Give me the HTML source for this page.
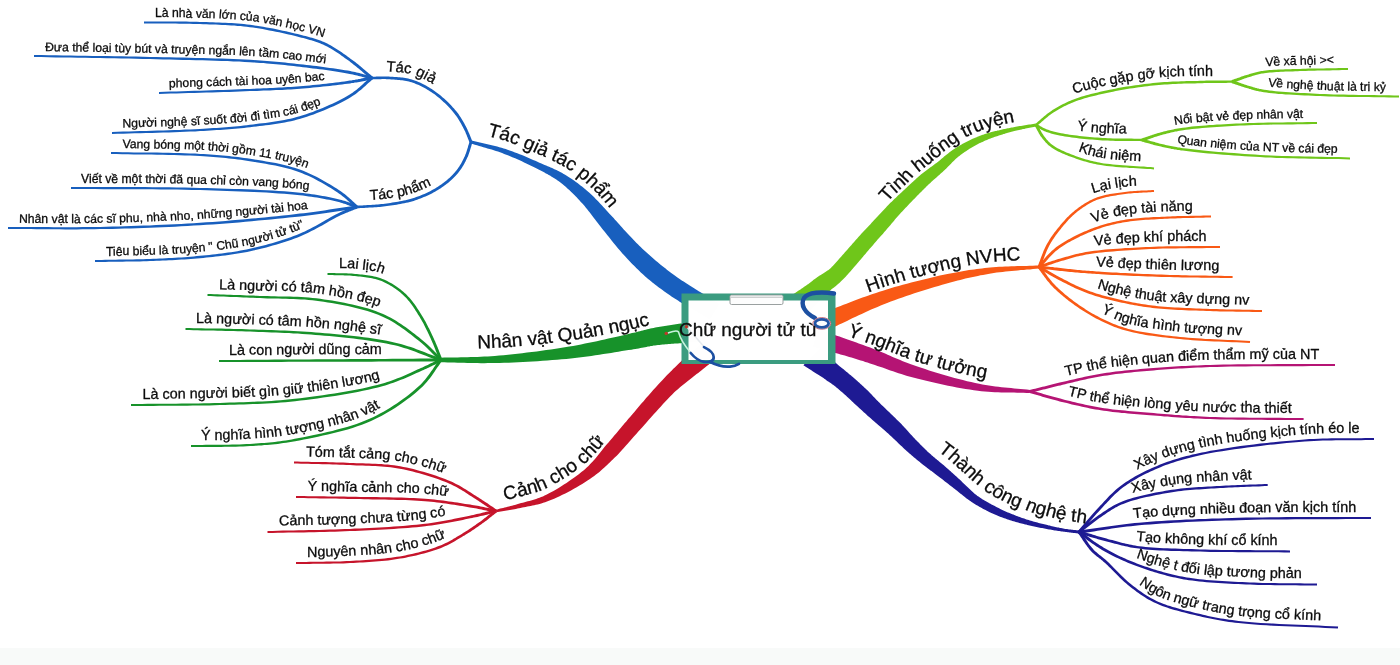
<!DOCTYPE html>
<html><head><meta charset="utf-8"><title>Chữ người tử tù</title>
<style>
html,body{margin:0;padding:0;background:#fff;}
body{width:1400px;height:665px;overflow:hidden;position:relative;font-family:"Liberation Sans",sans-serif;}
svg{position:absolute;left:0;top:0;display:block;will-change:transform;}
svg text{font-family:"Liberation Sans",sans-serif;fill:#0c0c0c;stroke:#0c0c0c;stroke-width:0.3px;}
.strip{position:absolute;left:0;top:648px;width:1400px;height:17px;background:#f8faf9}
</style></head><body>
<div class="strip"></div>
<svg width="1400" height="665" viewBox="0 0 1400 665">
<defs>
<path id="p1" d="M84.0,16.9 L144.0,17.3 L147.5,17.3 L151.0,17.3 L154.6,17.4 L158.1,17.4 L161.6,17.4 L165.1,17.4 L168.7,17.4 L172.2,17.4 L175.7,17.4 L179.3,17.4 L182.8,17.4 L186.3,17.5 L189.8,17.5 L193.3,17.6 L196.7,17.7 L200.2,17.8 L203.4,17.9 L206.6,18.0 L209.7,18.1 L212.9,18.2 L216.0,18.3 L219.2,18.4 L222.3,18.6 L225.5,18.7 L228.6,18.9 L231.7,19.1 L234.9,19.3 L238.0,19.5 L241.2,19.8 L244.3,20.1 L247.5,20.5 L250.7,20.8 L253.9,21.3 L257.2,21.8 L260.5,22.3 L263.8,22.9 L267.2,23.4 L270.5,24.1 L273.9,24.7 L277.2,25.4 L280.5,26.1 L283.7,26.8 L286.8,27.5 L289.9,28.2 L292.9,28.9 L295.8,29.6 L298.6,30.3 L301.3,31.0 L303.1,31.4 L304.9,31.9 L306.6,32.3 L308.2,32.8 L309.9,33.2 L311.5,33.6 L313.1,34.1 L314.7,34.6 L316.2,35.0 L317.8,35.5 L319.3,36.1 L320.9,36.6 L322.4,37.2 L324.0,37.9 L325.6,38.6 L327.2,39.3 L328.9,40.1 L330.7,41.0 L332.4,41.9 L334.0,42.9 L335.7,43.9 L337.4,44.9 L339.0,46.0 L340.6,47.0 L342.2,48.1 L343.8,49.2 L345.4,50.3 L347.0,51.4 L348.5,52.5 L350.1,53.6 L351.6,54.7 L353.1,55.8 L354.6,56.9 L356.0,58.0 L357.5,59.1 L358.9,60.3 L360.3,61.4 L361.7,62.6 L363.1,63.7 L364.5,64.9 L365.9,66.0 L367.2,67.2 L368.6,68.3 L369.9,69.5 L371.3,70.6 L372.6,71.7 L373.9,72.9 L375.3,74.0 L421.6,112.1" fill="none"/>
<path id="p2" d="M-25.9,49.8 L34.1,50.8 L41.4,50.9 L48.6,51.0 L56.0,51.2 L63.3,51.3 L70.6,51.4 L78.0,51.5 L85.3,51.6 L92.6,51.7 L99.9,51.8 L107.2,52.0 L114.5,52.1 L121.7,52.2 L128.9,52.3 L136.0,52.5 L143.1,52.6 L150.1,52.8 L156.6,53.0 L163.2,53.1 L169.8,53.2 L176.4,53.4 L183.1,53.5 L189.7,53.7 L196.2,53.8 L202.8,54.0 L209.2,54.2 L215.5,54.3 L221.7,54.5 L227.8,54.8 L233.7,55.0 L239.4,55.2 L245.0,55.5 L250.3,55.8 L253.9,56.0 L257.4,56.3 L260.8,56.5 L264.1,56.7 L267.3,57.0 L270.5,57.3 L273.5,57.5 L276.6,57.8 L279.6,58.1 L282.5,58.4 L285.5,58.7 L288.5,59.0 L291.4,59.3 L294.5,59.6 L297.5,60.0 L300.6,60.3 L303.8,60.7 L307.0,61.1 L310.3,61.5 L313.6,61.9 L317.0,62.3 L320.3,62.7 L323.7,63.2 L327.0,63.6 L330.3,64.1 L333.5,64.5 L336.7,65.0 L339.8,65.5 L342.7,65.9 L345.6,66.4 L348.4,66.9 L351.0,67.4 L352.7,67.7 L354.3,68.1 L355.9,68.4 L357.4,68.8 L358.8,69.1 L360.2,69.5 L361.6,69.8 L362.9,70.2 L364.2,70.5 L365.5,70.9 L366.8,71.2 L368.1,71.6 L369.4,71.9 L370.6,72.3 L371.9,72.6 L373.3,73.0 L431.4,87.7" fill="none"/>
<path id="p3" d="M98.9,89.8 L158.8,87.8 L164.6,87.6 L170.4,87.4 L176.3,87.2 L182.2,87.1 L188.2,86.9 L194.2,86.7 L200.1,86.5 L206.0,86.3 L211.9,86.1 L217.7,86.0 L223.4,85.8 L229.0,85.6 L234.4,85.4 L239.7,85.2 L244.9,85.0 L249.8,84.8 L253.3,84.7 L256.8,84.5 L260.1,84.4 L263.3,84.3 L266.5,84.1 L269.6,84.0 L272.7,83.9 L275.7,83.8 L278.7,83.6 L281.6,83.5 L284.6,83.3 L287.6,83.1 L290.5,83.0 L293.5,82.8 L296.5,82.6 L299.6,82.3 L302.7,82.1 L305.9,81.8 L309.2,81.5 L312.5,81.2 L315.8,80.8 L319.1,80.5 L322.4,80.2 L325.7,79.8 L329.0,79.4 L332.1,79.1 L335.3,78.7 L338.3,78.3 L341.2,78.0 L344.0,77.6 L346.7,77.2 L349.3,76.9 L350.8,76.6 L352.4,76.4 L353.8,76.1 L355.2,75.9 L356.6,75.7 L358.0,75.4 L359.3,75.2 L360.6,74.9 L361.9,74.7 L363.1,74.4 L364.4,74.2 L365.7,73.9 L367.0,73.6 L368.3,73.4 L369.7,73.1 L371.1,72.9 L430.1,62.0" fill="none"/>
<path id="p4" d="M51.9,129.8 L111.8,127.8 L117.4,127.6 L123.0,127.4 L128.7,127.3 L134.4,127.1 L140.2,127.0 L145.9,126.8 L151.7,126.6 L157.4,126.5 L163.1,126.3 L168.6,126.1 L174.1,125.9 L179.5,125.7 L184.8,125.5 L189.9,125.3 L194.9,125.1 L199.7,124.8 L203.2,124.6 L206.6,124.4 L209.9,124.2 L213.2,124.0 L216.3,123.8 L219.4,123.6 L222.5,123.4 L225.5,123.2 L228.5,123.0 L231.4,122.7 L234.4,122.4 L237.3,122.2 L240.3,121.9 L243.3,121.6 L246.3,121.2 L249.4,120.8 L252.5,120.5 L255.7,120.1 L258.8,119.7 L261.9,119.3 L265.0,118.9 L268.2,118.5 L271.3,118.1 L274.3,117.6 L277.4,117.2 L280.5,116.6 L283.5,116.1 L286.6,115.5 L289.6,114.8 L292.6,114.1 L295.6,113.4 L298.5,112.5 L301.7,111.6 L304.9,110.5 L308.1,109.4 L311.4,108.2 L314.7,107.0 L318.0,105.7 L321.2,104.4 L324.5,103.0 L327.7,101.6 L330.8,100.2 L333.9,98.8 L336.8,97.3 L339.6,95.9 L342.3,94.4 L344.9,93.0 L347.3,91.6 L348.9,90.6 L350.4,89.6 L351.8,88.6 L353.2,87.5 L354.5,86.5 L355.8,85.4 L357.0,84.3 L358.3,83.2 L359.5,82.1 L360.8,81.0 L362.0,79.9 L363.3,78.7 L364.6,77.5 L365.9,76.3 L367.3,75.2 L368.7,74.0 L414.7,35.6" fill="none"/>
<path id="p5" d="M51.1,146.6 L111.1,147.8 L116.7,147.9 L122.4,148.0 L128.1,148.1 L133.9,148.2 L139.7,148.2 L145.6,148.3 L151.4,148.4 L157.2,148.5 L162.9,148.6 L168.6,148.7 L174.2,148.8 L179.7,148.9 L185.1,149.1 L190.3,149.3 L195.4,149.5 L200.3,149.8 L203.9,150.0 L207.3,150.3 L210.6,150.5 L213.9,150.7 L217.1,151.0 L220.3,151.2 L223.4,151.5 L226.4,151.8 L229.5,152.1 L232.5,152.4 L235.5,152.7 L238.5,153.1 L241.6,153.5 L244.6,153.9 L247.7,154.4 L250.8,154.9 L254.0,155.4 L257.1,155.9 L260.3,156.4 L263.6,156.9 L266.8,157.5 L270.0,158.0 L273.3,158.6 L276.5,159.3 L279.8,159.9 L283.0,160.7 L286.2,161.4 L289.4,162.2 L292.6,163.1 L295.7,164.0 L298.8,165.0 L301.8,166.1 L304.7,167.2 L307.5,168.4 L310.3,169.6 L313.1,170.9 L315.9,172.3 L318.7,173.7 L321.4,175.1 L324.1,176.6 L326.7,178.1 L329.3,179.6 L331.8,181.0 L334.2,182.5 L336.5,184.0 L338.8,185.4 L340.9,186.8 L342.9,188.2 L344.3,189.2 L345.7,190.2 L347.0,191.2 L348.2,192.1 L349.3,193.1 L350.5,194.0 L351.5,195.0 L352.6,195.9 L353.6,196.9 L354.6,197.8 L355.5,198.7 L356.5,199.6 L357.5,200.5 L358.4,201.3 L359.4,202.2 L360.4,203.1 L405.8,242.3" fill="none"/>
<path id="p6" d="M11.0,182.4 L71.0,182.8 L79.1,182.9 L87.3,182.9 L95.4,182.9 L103.6,182.9 L111.9,182.9 L120.1,183.0 L128.3,183.0 L136.5,183.0 L144.7,183.0 L152.9,183.1 L160.9,183.1 L169.0,183.2 L176.9,183.3 L184.8,183.4 L192.5,183.6 L200.1,183.8 L206.8,184.0 L213.6,184.2 L220.4,184.4 L227.1,184.6 L233.9,184.8 L240.6,185.1 L247.3,185.3 L253.9,185.6 L260.3,185.9 L266.7,186.2 L272.8,186.6 L278.8,187.0 L284.6,187.4 L290.2,187.8 L295.5,188.3 L300.6,188.8 L303.7,189.2 L306.7,189.6 L309.6,189.9 L312.4,190.3 L315.2,190.7 L317.9,191.2 L320.6,191.6 L323.1,192.0 L325.6,192.5 L328.1,193.0 L330.5,193.4 L332.8,193.9 L335.0,194.4 L337.2,194.9 L339.3,195.4 L341.3,196.0 L342.7,196.3 L344.0,196.7 L345.2,197.1 L346.4,197.5 L347.6,197.9 L348.7,198.3 L349.8,198.7 L350.8,199.1 L351.9,199.5 L352.9,199.9 L353.8,200.2 L354.8,200.6 L355.8,201.0 L356.8,201.4 L357.7,201.7 L358.8,202.1 L415.2,222.4" fill="none"/>
<path id="p7" d="M-52.0,222.7 L8.0,222.8 L13.8,222.8 L19.5,222.8 L25.2,222.9 L30.9,222.9 L36.7,222.9 L42.4,223.0 L48.1,223.0 L53.8,223.0 L59.5,223.1 L65.2,223.1 L71.0,223.1 L76.7,223.1 L82.5,223.0 L88.3,223.0 L94.1,222.9 L99.9,222.8 L106.0,222.7 L112.2,222.5 L118.4,222.4 L124.6,222.2 L130.8,222.0 L137.0,221.8 L143.3,221.6 L149.6,221.4 L155.8,221.1 L162.1,220.8 L168.4,220.6 L174.7,220.3 L180.9,219.9 L187.2,219.6 L193.4,219.2 L199.7,218.8 L205.9,218.4 L212.3,217.9 L218.8,217.5 L225.3,217.0 L231.8,216.4 L238.3,215.9 L244.8,215.3 L251.3,214.7 L257.7,214.2 L264.1,213.5 L270.3,212.9 L276.5,212.3 L282.4,211.7 L288.3,211.1 L293.9,210.5 L299.4,209.8 L303.4,209.4 L307.2,208.9 L311.0,208.4 L314.7,207.9 L318.3,207.4 L321.8,206.9 L325.3,206.4 L328.7,205.9 L332.2,205.4 L335.6,204.9 L339.0,204.4 L342.4,203.9 L345.8,203.4 L349.2,202.9 L352.7,202.4 L356.3,201.9 L415.7,193.4" fill="none"/>
<path id="p8" d="M34.9,256.8 L94.9,255.8 L98.4,255.7 L101.8,255.7 L105.3,255.6 L108.8,255.6 L112.2,255.6 L115.7,255.5 L119.1,255.5 L122.6,255.4 L126.0,255.4 L129.5,255.3 L132.9,255.3 L136.3,255.2 L139.7,255.1 L143.1,255.0 L146.5,254.9 L149.8,254.8 L153.0,254.7 L156.2,254.6 L159.3,254.4 L162.4,254.3 L165.6,254.1 L168.7,254.0 L171.8,253.8 L174.9,253.7 L178.0,253.5 L181.0,253.3 L184.1,253.1 L187.2,252.9 L190.3,252.7 L193.3,252.4 L196.4,252.1 L199.5,251.8 L202.6,251.5 L205.7,251.2 L208.9,250.9 L212.0,250.5 L215.1,250.2 L218.2,249.8 L221.3,249.5 L224.4,249.1 L227.5,248.7 L230.6,248.2 L233.6,247.8 L236.7,247.3 L239.8,246.7 L242.8,246.2 L245.9,245.6 L248.9,244.9 L252.0,244.2 L255.1,243.5 L258.3,242.7 L261.4,242.0 L264.6,241.1 L267.8,240.3 L270.9,239.4 L274.0,238.5 L277.1,237.6 L280.2,236.6 L283.3,235.6 L286.3,234.6 L289.3,233.5 L292.3,232.4 L295.2,231.3 L298.0,230.2 L300.6,229.1 L303.2,227.9 L305.8,226.6 L308.4,225.3 L311.1,223.9 L313.7,222.5 L316.3,221.1 L318.8,219.6 L321.4,218.2 L323.9,216.8 L326.4,215.4 L328.8,214.0 L331.1,212.7 L333.4,211.5 L335.6,210.3 L337.8,209.3 L339.1,208.7 L340.3,208.1 L341.5,207.6 L342.7,207.1 L343.8,206.6 L344.9,206.2 L346.0,205.8 L347.0,205.4 L348.0,205.0 L349.0,204.6 L350.0,204.2 L351.0,203.8 L352.0,203.4 L353.0,203.0 L354.0,202.6 L355.0,202.2 L410.6,179.5" fill="none"/>
<path id="p9" d="M312.0,71.9 L372.0,71.7 L373.1,71.7 L374.1,71.7 L375.2,71.7 L376.3,71.6 L377.4,71.6 L378.5,71.6 L379.6,71.6 L380.8,71.5 L381.9,71.5 L383.1,71.5 L384.3,71.5 L385.5,71.5 L386.7,71.5 L387.9,71.6 L389.2,71.6 L390.4,71.7 L391.7,71.8 L393.1,71.9 L394.4,72.0 L395.8,72.1 L397.2,72.2 L398.7,72.3 L400.1,72.4 L401.6,72.6 L403.1,72.7 L404.6,72.9 L406.1,73.2 L407.7,73.4 L409.2,73.8 L410.8,74.1 L412.3,74.5 L413.9,75.0 L415.5,75.5 L417.2,76.1 L418.8,76.8 L420.4,77.4 L422.0,78.1 L423.6,78.9 L425.1,79.7 L426.7,80.5 L428.3,81.3 L429.8,82.2 L431.3,83.1 L432.8,84.0 L434.3,84.9 L435.8,85.9 L437.2,86.9 L438.7,87.9 L440.1,89.0 L441.6,90.1 L443.1,91.3 L444.5,92.5 L446.0,93.7 L447.4,94.9 L448.8,96.2 L450.1,97.5 L451.5,98.8 L452.8,100.1 L454.1,101.5 L455.3,102.8 L456.5,104.1 L457.7,105.4 L458.8,106.7 L459.9,108.0 L460.8,109.1 L461.6,110.2 L462.4,111.3 L463.2,112.4 L463.9,113.5 L464.6,114.6 L465.3,115.7 L466.0,116.8 L466.6,117.8 L467.2,118.9 L467.8,120.0 L468.4,121.0 L469.0,122.0 L469.5,123.1 L470.1,124.1 L470.6,125.1 L471.1,126.1 L471.6,127.0 L472.0,128.0 L472.5,129.0 L472.9,129.9 L473.3,130.8 L473.6,131.7 L474.0,132.7 L474.4,133.6 L474.7,134.4 L475.1,135.3 L475.4,136.2 L475.8,137.0 L476.1,137.9 L476.4,138.7 L476.8,139.5 L500.2,194.8" fill="none"/>
<path id="p10" d="M296.7,204.8 L356.6,200.7 L358.3,200.6 L360.1,200.5 L361.9,200.4 L363.7,200.3 L365.4,200.2 L367.2,200.1 L368.9,200.0 L370.6,199.9 L372.3,199.8 L374.0,199.7 L375.7,199.6 L377.4,199.5 L379.1,199.3 L380.8,199.2 L382.5,199.0 L384.2,198.8 L386.0,198.5 L387.9,198.2 L389.7,198.0 L391.6,197.7 L393.5,197.4 L395.3,197.1 L397.2,196.8 L399.0,196.5 L400.9,196.1 L402.7,195.8 L404.5,195.4 L406.3,194.9 L408.0,194.5 L409.7,194.0 L411.4,193.5 L413.0,193.0 L414.6,192.5 L416.2,191.9 L417.7,191.3 L419.3,190.7 L420.8,190.1 L422.4,189.4 L423.9,188.7 L425.4,188.0 L426.9,187.3 L428.4,186.5 L429.8,185.8 L431.2,185.0 L432.6,184.2 L433.9,183.4 L435.2,182.6 L436.5,181.7 L437.7,181.0 L438.8,180.2 L439.9,179.4 L441.0,178.6 L442.0,177.7 L443.1,176.9 L444.1,176.0 L445.1,175.2 L446.1,174.3 L447.1,173.4 L448.0,172.5 L448.9,171.6 L449.7,170.7 L450.6,169.8 L451.4,168.9 L452.2,168.0 L452.8,167.2 L453.4,166.4 L454.0,165.6 L454.5,164.8 L455.1,164.0 L455.6,163.2 L456.1,162.3 L456.6,161.5 L457.1,160.6 L457.6,159.8 L458.1,158.9 L458.5,158.0 L459.0,157.1 L459.4,156.2 L459.9,155.3 L460.3,154.4 L460.6,153.6 L460.9,152.8 L461.3,152.0 L461.6,151.2 L461.9,150.3 L462.1,149.5 L462.4,148.6 L462.7,147.7 L463.0,146.8 L463.2,145.9 L463.5,144.9 L463.8,144.0 L464.1,143.0 L464.4,142.0 L464.7,141.0 L465.0,140.0 L483.6,83.0" fill="none"/>
<path id="p11" d="M415.7,116.9 L473.7,132.4 L475.8,132.9 L477.8,133.5 L479.9,134.0 L482.0,134.5 L484.1,135.0 L486.3,135.6 L488.4,136.1 L490.6,136.6 L492.8,137.2 L495.0,137.8 L497.2,138.4 L499.4,139.0 L501.6,139.6 L503.9,140.3 L506.1,141.0 L508.4,141.8 L510.8,142.6 L513.1,143.5 L515.5,144.3 L517.8,145.3 L520.2,146.2 L522.5,147.2 L524.9,148.1 L527.2,149.1 L529.5,150.1 L531.8,151.1 L534.0,152.1 L536.2,153.1 L538.4,154.1 L540.5,155.1 L542.6,156.0 L544.6,156.9 L546.1,157.7 L547.7,158.4 L549.2,159.1 L550.7,159.8 L552.2,160.5 L553.7,161.2 L555.2,161.9 L556.6,162.6 L558.1,163.4 L559.6,164.1 L561.1,164.9 L562.6,165.8 L564.1,166.6 L565.6,167.5 L567.1,168.5 L568.7,169.5 L570.3,170.5 L571.9,171.6 L573.4,172.7 L575.0,173.9 L576.6,175.1 L578.1,176.3 L579.6,177.5 L581.1,178.7 L582.6,180.0 L584.1,181.2 L585.6,182.5 L587.1,183.8 L588.5,185.1 L590.0,186.5 L591.4,187.8 L592.9,189.2 L594.5,190.8 L596.1,192.4 L597.6,194.1 L599.2,195.7 L600.7,197.4 L602.2,199.1 L603.7,200.8 L605.1,202.5 L606.6,204.2 L608.0,205.9 L609.4,207.6 L610.8,209.3 L612.2,210.9 L613.6,212.5 L615.0,214.1 L616.4,215.7 L617.8,217.3 L619.3,218.9 L620.7,220.6 L622.1,222.2 L623.5,223.9 L625.0,225.5 L626.4,227.1 L627.7,228.8 L629.1,230.3 L630.5,231.9 L631.9,233.5 L633.3,235.0 L634.6,236.5 L636.0,238.0 L637.4,239.4 L638.7,240.9 L640.1,242.2 L641.4,243.6 L642.8,244.9 L644.2,246.3 L645.5,247.6 L646.9,248.9 L648.2,250.2 L649.6,251.5 L651.0,252.8 L652.4,254.1 L653.7,255.3 L655.1,256.5 L656.5,257.7 L657.9,258.9 L659.2,260.1 L660.6,261.3 L661.9,262.4 L663.3,263.4 L664.6,264.5 L665.9,265.5 L667.2,266.5 L668.5,267.5 L669.9,268.5 L671.2,269.5 L672.6,270.5 L673.9,271.5 L675.3,272.5 L676.7,273.4 L678.1,274.4 L679.5,275.4 L680.9,276.3 L682.3,277.3 L683.8,278.2 L685.2,279.2 L686.7,280.1 L688.2,281.1 L689.8,282.1 L691.3,283.0 L692.9,284.0 L694.5,285.0 L696.1,285.9 L697.6,286.8 L699.2,287.8 L700.8,288.7 L702.3,289.6 L703.8,290.5 L705.2,291.3 L706.6,292.2 L707.7,292.8 L708.7,293.4 L709.6,293.9 L710.6,294.5 L711.5,295.0 L712.5,295.6 L713.4,296.1 L714.3,296.6 L715.2,297.1 L716.1,297.7 L717.0,298.2 L717.9,298.7 L718.9,299.2 L719.8,299.8 L720.7,300.3 L721.7,300.8 L773.7,330.8" fill="none"/>
<path id="p12" d="M267.7,265.8 L327.7,267.7 L329.4,267.8 L331.1,267.8 L332.8,267.8 L334.5,267.9 L336.2,267.9 L337.9,267.9 L339.6,267.9 L341.4,268.0 L343.2,268.0 L344.9,268.0 L346.7,268.1 L348.5,268.2 L350.3,268.3 L352.1,268.4 L353.9,268.6 L355.7,268.7 L357.4,268.9 L359.1,269.1 L360.8,269.3 L362.6,269.5 L364.3,269.7 L366.1,269.9 L367.9,270.1 L369.7,270.4 L371.6,270.7 L373.4,271.0 L375.2,271.4 L377.1,271.8 L378.9,272.3 L380.7,272.9 L382.5,273.5 L384.3,274.1 L386.1,274.9 L387.8,275.6 L389.5,276.5 L391.2,277.3 L392.8,278.3 L394.5,279.2 L396.1,280.2 L397.7,281.2 L399.3,282.3 L400.8,283.4 L402.3,284.5 L403.8,285.6 L405.2,286.8 L406.6,288.0 L408.0,289.2 L409.3,290.4 L410.6,291.6 L411.8,292.9 L413.0,294.2 L414.1,295.5 L415.2,296.8 L416.3,298.1 L417.3,299.5 L418.2,300.8 L419.2,302.2 L420.1,303.5 L421.0,304.9 L421.9,306.3 L422.8,307.6 L423.6,309.0 L424.5,310.3 L425.3,311.7 L426.2,313.1 L427.1,314.5 L428.0,316.0 L428.8,317.5 L429.6,319.0 L430.4,320.5 L431.2,322.0 L432.0,323.5 L432.7,325.0 L433.5,326.5 L434.2,328.0 L434.9,329.5 L435.7,330.9 L436.4,332.4 L437.0,333.9 L437.7,335.4 L438.4,336.8 L439.0,338.2 L439.6,339.6 L440.2,341.1 L440.8,342.5 L441.4,343.9 L442.0,345.3 L442.5,346.7 L443.1,348.1 L443.6,349.5 L444.1,350.8 L444.7,352.2 L445.2,353.6 L445.7,354.9 L446.3,356.3 L446.8,357.6 L469.4,413.2" fill="none"/>
<path id="p13" d="M147.8,286.4 L207.7,288.7 L211.0,288.8 L214.3,288.9 L217.5,289.1 L220.8,289.2 L224.0,289.3 L227.3,289.4 L230.5,289.5 L233.8,289.7 L237.0,289.8 L240.3,289.9 L243.6,290.0 L246.9,290.2 L250.2,290.3 L253.5,290.4 L256.9,290.6 L260.3,290.7 L263.9,290.8 L267.5,291.0 L271.1,291.0 L274.8,291.1 L278.6,291.2 L282.3,291.3 L286.1,291.3 L289.9,291.4 L293.7,291.6 L297.6,291.7 L301.5,291.9 L305.3,292.1 L309.2,292.4 L313.1,292.8 L317.0,293.2 L320.9,293.8 L324.8,294.3 L328.9,295.0 L332.9,295.6 L337.0,296.3 L341.1,297.1 L345.3,297.9 L349.4,298.7 L353.5,299.6 L357.6,300.6 L361.7,301.6 L365.7,302.7 L369.6,303.8 L373.5,305.1 L377.3,306.4 L380.9,307.7 L384.5,309.2 L387.5,310.6 L390.3,312.0 L393.1,313.5 L395.9,315.0 L398.6,316.6 L401.2,318.2 L403.7,319.9 L406.2,321.6 L408.7,323.3 L411.0,325.1 L413.3,326.8 L415.6,328.5 L417.7,330.2 L419.9,331.9 L421.9,333.5 L423.9,335.1 L425.6,336.4 L427.1,337.7 L428.6,339.0 L430.1,340.4 L431.5,341.7 L432.9,343.0 L434.2,344.3 L435.5,345.5 L436.7,346.8 L438.0,348.1 L439.2,349.3 L440.4,350.6 L441.6,351.8 L442.9,353.0 L444.1,354.2 L445.4,355.5 L488.6,397.1" fill="none"/>
<path id="p14" d="M125.7,321.4 L185.6,322.7 L189.7,322.8 L193.7,322.9 L197.7,323.0 L201.7,323.0 L205.7,323.1 L209.7,323.2 L213.7,323.3 L217.7,323.3 L221.7,323.4 L225.8,323.5 L229.8,323.6 L233.9,323.7 L237.9,323.8 L242.0,323.9 L246.1,324.1 L250.2,324.2 L254.5,324.4 L258.8,324.5 L263.1,324.7 L267.5,324.8 L271.8,325.0 L276.2,325.1 L280.6,325.3 L285.0,325.5 L289.4,325.7 L293.8,325.9 L298.2,326.1 L302.7,326.4 L307.1,326.7 L311.6,327.0 L316.1,327.3 L320.6,327.7 L325.2,328.2 L330.0,328.6 L334.8,329.0 L339.7,329.5 L344.6,330.0 L349.5,330.5 L354.4,331.1 L359.3,331.7 L364.2,332.3 L369.1,332.9 L373.9,333.6 L378.6,334.4 L383.2,335.1 L387.8,336.0 L392.2,336.9 L396.5,337.9 L399.8,338.7 L403.1,339.6 L406.2,340.5 L409.3,341.5 L412.3,342.5 L415.3,343.5 L418.2,344.6 L421.0,345.7 L423.8,346.7 L426.6,347.8 L429.3,348.9 L432.1,350.0 L434.8,351.0 L437.5,352.0 L440.3,353.1 L443.1,354.1 L499.6,374.1" fill="none"/>
<path id="p15" d="M159.0,355.0 L219.0,354.7 L225.9,354.7 L232.8,354.6 L239.8,354.6 L246.7,354.6 L253.7,354.5 L260.6,354.5 L267.5,354.5 L274.5,354.5 L281.4,354.4 L288.3,354.4 L295.3,354.4 L302.2,354.3 L309.2,354.3 L316.1,354.3 L323.0,354.2 L330.0,354.2 L336.9,354.2 L343.8,354.1 L350.8,354.1 L357.7,354.1 L364.7,354.0 L371.6,354.0 L378.5,354.0 L385.5,354.0 L392.4,353.9 L399.3,353.9 L406.3,353.9 L413.2,353.8 L420.2,353.8 L427.1,353.8 L434.0,353.7 L441.0,353.7 L501.0,353.4" fill="none"/>
<path id="p16" d="M70.9,399.3 L130.9,398.7 L136.5,398.6 L142.1,398.6 L147.8,398.6 L153.4,398.5 L159.0,398.5 L164.7,398.5 L170.3,398.5 L175.9,398.4 L181.5,398.4 L187.1,398.3 L192.7,398.3 L198.2,398.2 L203.7,398.1 L209.1,398.0 L214.5,397.9 L219.8,397.7 L224.7,397.6 L229.5,397.4 L234.2,397.3 L238.9,397.1 L243.5,397.0 L248.2,396.8 L252.7,396.7 L257.3,396.5 L261.9,396.3 L266.4,396.0 L271.0,395.8 L275.6,395.4 L280.2,395.1 L284.9,394.7 L289.5,394.2 L294.3,393.7 L299.6,393.1 L305.1,392.5 L310.7,391.7 L316.3,391.0 L322.1,390.2 L327.9,389.3 L333.7,388.4 L339.4,387.5 L345.1,386.5 L350.7,385.5 L356.1,384.5 L361.4,383.4 L366.5,382.3 L371.4,381.2 L376.0,380.1 L380.3,378.9 L383.0,378.1 L385.7,377.3 L388.3,376.4 L390.8,375.5 L393.3,374.6 L395.7,373.7 L398.1,372.8 L400.4,371.8 L402.6,370.9 L404.8,369.9 L407.0,368.9 L409.1,368.0 L411.2,367.0 L413.3,366.1 L415.4,365.1 L417.5,364.2 L418.9,363.6 L420.3,363.0 L421.7,362.3 L423.0,361.7 L424.4,361.1 L425.6,360.5 L426.9,359.9 L428.1,359.3 L429.4,358.7 L430.6,358.0 L431.9,357.4 L433.1,356.8 L434.4,356.2 L435.7,355.6 L437.0,354.9 L438.3,354.3 L492.4,328.4" fill="none"/>
<path id="p17" d="M130.9,440.6 L190.9,439.7 L194.6,439.6 L198.4,439.6 L202.1,439.6 L205.9,439.6 L209.7,439.6 L213.5,439.5 L217.2,439.5 L221.0,439.5 L224.7,439.5 L228.4,439.4 L232.0,439.4 L235.7,439.3 L239.2,439.2 L242.7,439.1 L246.2,438.9 L249.6,438.7 L252.6,438.5 L255.4,438.3 L258.2,438.1 L261.0,437.9 L263.7,437.7 L266.3,437.5 L269.0,437.3 L271.6,437.0 L274.2,436.7 L276.9,436.4 L279.5,436.1 L282.3,435.7 L285.0,435.3 L287.9,434.9 L290.8,434.4 L293.8,433.8 L298.0,433.0 L302.4,432.2 L307.0,431.3 L311.7,430.3 L316.4,429.3 L321.3,428.3 L326.2,427.2 L331.1,426.0 L336.0,424.8 L340.8,423.5 L345.6,422.1 L350.3,420.7 L354.8,419.2 L359.2,417.6 L363.4,416.0 L367.4,414.2 L370.9,412.7 L374.3,411.0 L377.7,409.2 L381.0,407.3 L384.4,405.4 L387.6,403.5 L390.9,401.4 L394.0,399.4 L397.1,397.3 L400.1,395.1 L402.9,393.0 L405.7,390.9 L408.4,388.7 L411.0,386.6 L413.4,384.5 L415.7,382.4 L417.3,380.9 L418.7,379.4 L420.1,377.9 L421.4,376.3 L422.7,374.8 L423.9,373.2 L425.1,371.6 L426.3,370.0 L427.4,368.3 L428.6,366.6 L429.7,364.9 L430.9,363.2 L432.1,361.5 L433.4,359.7 L434.7,357.9 L436.0,356.2 L472.3,308.4" fill="none"/>
<path id="p18" d="M380.9,349.1 L440.9,348.5 L444.3,348.5 L447.7,348.5 L451.0,348.4 L454.4,348.5 L457.7,348.5 L460.9,348.5 L464.2,348.5 L467.5,348.5 L470.8,348.5 L474.0,348.4 L477.3,348.4 L480.7,348.4 L484.0,348.3 L487.4,348.2 L490.9,348.0 L494.4,347.8 L498.7,347.6 L503.1,347.3 L507.6,347.0 L512.2,346.7 L516.9,346.3 L521.6,345.9 L526.4,345.5 L531.2,345.1 L536.0,344.6 L540.8,344.1 L545.5,343.6 L550.3,343.1 L554.9,342.5 L559.5,341.9 L564.0,341.4 L568.4,340.8 L572.3,340.2 L576.2,339.6 L580.2,339.0 L584.1,338.3 L588.1,337.6 L592.1,336.9 L596.0,336.2 L599.9,335.5 L603.7,334.8 L607.5,334.0 L611.1,333.3 L614.7,332.6 L618.2,331.9 L621.5,331.3 L624.7,330.6 L627.7,330.0 L629.5,329.7 L631.2,329.3 L632.9,328.9 L634.5,328.6 L636.0,328.2 L637.5,327.9 L639.0,327.5 L640.5,327.2 L642.0,326.9 L643.5,326.5 L645.0,326.2 L646.6,325.8 L648.1,325.5 L649.7,325.2 L651.3,324.9 L653.0,324.6 L654.7,324.3 L656.3,324.1 L657.9,323.8 L659.6,323.6 L661.2,323.3 L662.8,323.1 L664.4,322.9 L666.0,322.7 L667.6,322.5 L669.2,322.3 L670.8,322.1 L672.4,321.9 L674.0,321.7 L675.6,321.6 L677.2,321.4 L678.8,321.2 L680.4,321.1 L682.0,320.9 L683.6,320.7 L685.2,320.6 L686.8,320.4 L688.4,320.3 L690.0,320.2 L691.6,320.0 L693.1,319.9 L694.7,319.8 L696.3,319.7 L697.8,319.5 L699.4,319.4 L700.9,319.3 L702.5,319.2 L704.0,319.0 L763.8,313.9" fill="none"/>
<path id="p19" d="M234.2,454.7 L294.2,456.2 L297.7,456.3 L301.2,456.4 L304.7,456.5 L308.2,456.5 L311.7,456.6 L315.3,456.7 L318.8,456.7 L322.3,456.8 L325.9,456.9 L329.4,457.0 L332.9,457.1 L336.4,457.2 L339.9,457.3 L343.4,457.4 L346.9,457.6 L350.3,457.7 L353.5,457.8 L356.6,458.0 L359.8,458.1 L362.9,458.2 L366.1,458.3 L369.2,458.4 L372.4,458.5 L375.5,458.6 L378.7,458.8 L381.9,459.0 L385.1,459.2 L388.3,459.5 L391.5,459.9 L394.7,460.3 L397.9,460.8 L401.1,461.3 L404.4,461.9 L407.8,462.6 L411.1,463.4 L414.5,464.2 L417.9,465.1 L421.3,466.0 L424.7,466.9 L428.1,467.9 L431.4,469.0 L434.6,470.0 L437.9,471.1 L441.0,472.2 L444.0,473.3 L447.0,474.4 L449.8,475.6 L452.5,476.7 L454.5,477.6 L456.4,478.5 L458.2,479.4 L460.0,480.4 L461.7,481.3 L463.4,482.3 L465.0,483.2 L466.6,484.2 L468.2,485.1 L469.7,486.1 L471.1,487.0 L472.6,488.0 L474.0,488.9 L475.5,489.8 L476.9,490.8 L478.4,491.7 L479.7,492.5 L481.1,493.4 L482.5,494.3 L483.9,495.2 L485.2,496.1 L486.5,497.0 L487.9,497.9 L489.2,498.8 L490.5,499.6 L491.8,500.5 L493.1,501.4 L494.4,502.3 L495.6,503.2 L496.9,504.0 L498.2,504.9 L499.5,505.8 L549.4,539.1" fill="none"/>
<path id="p20" d="M236.1,489.8 L296.1,490.7 L300.1,490.8 L304.1,490.8 L308.1,490.9 L312.1,490.9 L316.1,491.0 L320.1,491.0 L324.1,491.1 L328.1,491.1 L332.1,491.2 L336.1,491.3 L340.1,491.3 L344.1,491.4 L348.1,491.5 L352.1,491.5 L356.1,491.6 L360.1,491.7 L364.2,491.8 L368.3,491.9 L372.4,491.9 L376.6,492.0 L380.8,492.1 L385.0,492.1 L389.2,492.2 L393.4,492.3 L397.5,492.4 L401.7,492.5 L405.8,492.6 L409.9,492.8 L413.9,493.0 L417.8,493.2 L421.7,493.4 L425.5,493.7 L428.6,494.0 L431.7,494.3 L434.8,494.6 L437.9,495.0 L440.9,495.3 L443.9,495.7 L446.8,496.1 L449.7,496.5 L452.5,496.9 L455.3,497.3 L458.1,497.7 L460.8,498.1 L463.4,498.6 L466.0,499.0 L468.6,499.4 L471.0,499.8 L472.9,500.1 L474.7,500.4 L476.4,500.7 L478.2,501.0 L479.8,501.3 L481.5,501.7 L483.1,502.0 L484.7,502.3 L486.3,502.6 L487.8,502.9 L489.4,503.3 L490.9,503.6 L492.5,503.9 L494.0,504.2 L495.6,504.5 L497.2,504.8 L556.1,516.3" fill="none"/>
<path id="p21" d="M207.4,527.1 L267.4,525.7 L272.5,525.6 L277.7,525.5 L282.9,525.4 L288.1,525.3 L293.3,525.2 L298.5,525.1 L303.7,525.0 L308.9,524.9 L314.1,524.8 L319.2,524.7 L324.4,524.6 L329.5,524.4 L334.6,524.3 L339.7,524.1 L344.7,523.9 L349.7,523.7 L354.5,523.5 L359.4,523.3 L364.3,523.0 L369.2,522.8 L374.0,522.6 L378.9,522.3 L383.8,522.0 L388.6,521.8 L393.3,521.5 L398.0,521.2 L402.6,520.8 L407.2,520.5 L411.6,520.1 L416.0,519.7 L420.2,519.2 L424.2,518.7 L427.3,518.4 L430.4,517.9 L433.4,517.5 L436.4,517.0 L439.3,516.5 L442.2,516.1 L445.0,515.5 L447.9,515.0 L450.6,514.5 L453.3,514.0 L456.0,513.4 L458.6,512.9 L461.2,512.4 L463.8,511.8 L466.3,511.3 L468.7,510.8 L470.5,510.5 L472.3,510.1 L474.0,509.7 L475.6,509.3 L477.3,509.0 L478.9,508.6 L480.4,508.2 L482.0,507.9 L483.5,507.5 L485.1,507.1 L486.6,506.7 L488.2,506.4 L489.8,506.0 L491.3,505.6 L493.0,505.2 L494.6,504.9 L553.0,491.3" fill="none"/>
<path id="p22" d="M235.9,557.7 L295.9,556.7 L299.3,556.6 L302.7,556.6 L306.1,556.6 L309.5,556.5 L312.9,556.5 L316.3,556.5 L319.7,556.5 L323.1,556.4 L326.4,556.4 L329.8,556.3 L333.2,556.3 L336.5,556.2 L339.8,556.1 L343.1,556.0 L346.4,555.9 L349.7,555.7 L352.9,555.5 L356.0,555.4 L359.2,555.2 L362.4,555.0 L365.6,554.8 L368.7,554.6 L371.9,554.4 L375.0,554.1 L378.1,553.9 L381.2,553.6 L384.2,553.3 L387.3,553.0 L390.2,552.6 L393.2,552.2 L396.1,551.8 L398.9,551.3 L401.5,550.8 L404.1,550.3 L406.7,549.8 L409.3,549.3 L411.9,548.7 L414.5,548.1 L417.0,547.5 L419.5,546.9 L422.0,546.2 L424.4,545.5 L426.8,544.8 L429.1,544.1 L431.4,543.4 L433.6,542.7 L435.7,541.9 L437.7,541.1 L439.2,540.5 L440.7,539.9 L442.1,539.3 L443.5,538.6 L444.8,537.9 L446.2,537.2 L447.5,536.5 L448.8,535.8 L450.1,535.1 L451.4,534.3 L452.7,533.6 L454.0,532.8 L455.3,532.0 L456.6,531.2 L457.9,530.4 L459.3,529.6 L460.5,528.8 L461.7,528.1 L463.0,527.3 L464.2,526.5 L465.4,525.7 L466.7,524.9 L467.9,524.1 L469.1,523.3 L470.3,522.5 L471.5,521.7 L472.7,520.9 L473.8,520.1 L475.0,519.3 L476.1,518.5 L477.2,517.7 L478.3,516.9 L479.2,516.2 L480.1,515.6 L481.0,514.9 L481.8,514.2 L482.7,513.6 L483.5,512.9 L484.4,512.2 L485.2,511.6 L486.1,510.9 L486.9,510.2 L487.8,509.5 L488.6,508.8 L489.5,508.1 L490.3,507.5 L491.2,506.8 L492.1,506.1 L539.2,468.9" fill="none"/>
<path id="p23" d="M435.8,516.3 L494.2,502.7 L495.7,502.3 L497.2,502.0 L498.7,501.7 L500.2,501.3 L501.7,501.0 L503.2,500.7 L504.7,500.3 L506.1,500.0 L507.6,499.7 L509.1,499.3 L510.5,499.0 L512.0,498.6 L513.4,498.3 L514.9,497.9 L516.3,497.5 L517.8,497.1 L519.5,496.7 L521.3,496.2 L523.0,495.8 L524.6,495.4 L526.3,495.0 L527.9,494.6 L529.6,494.1 L531.2,493.7 L532.8,493.2 L534.3,492.8 L535.9,492.3 L537.5,491.7 L539.1,491.2 L540.7,490.6 L542.2,489.9 L543.8,489.2 L546.1,488.2 L548.4,487.0 L550.9,485.8 L553.4,484.4 L556.0,483.0 L558.6,481.5 L561.2,480.0 L563.9,478.4 L566.5,476.8 L569.0,475.1 L571.6,473.5 L574.0,471.8 L576.4,470.1 L578.7,468.5 L580.8,466.8 L582.9,465.3 L584.3,464.0 L585.8,462.8 L587.2,461.5 L588.5,460.3 L589.8,459.0 L591.1,457.7 L592.4,456.3 L593.6,455.0 L594.9,453.6 L596.1,452.2 L597.4,450.8 L598.7,449.3 L600.0,447.8 L601.3,446.4 L602.6,444.8 L604.0,443.3 L605.3,441.9 L606.5,440.5 L607.7,439.1 L608.9,437.8 L610.1,436.4 L611.2,435.0 L612.4,433.5 L613.6,432.1 L614.8,430.6 L616.1,429.2 L617.3,427.6 L618.6,426.1 L619.9,424.5 L621.3,422.9 L622.7,421.2 L624.2,419.5 L626.1,417.3 L628.2,414.9 L630.3,412.4 L632.5,409.9 L634.7,407.2 L637.0,404.5 L639.4,401.8 L641.7,399.1 L644.1,396.3 L646.5,393.6 L648.9,390.9 L651.3,388.3 L653.6,385.7 L655.9,383.2 L658.2,380.7 L660.4,378.5 L662.1,376.7 L663.8,375.0 L665.5,373.4 L667.1,371.8 L668.7,370.3 L670.4,368.8 L671.9,367.3 L673.5,365.9 L675.1,364.5 L676.6,363.1 L678.1,361.8 L679.6,360.4 L681.1,359.1 L682.6,357.8 L684.0,356.6 L685.4,355.3 L686.7,354.2 L687.9,353.0 L689.1,352.0 L690.4,350.9 L691.6,349.8 L692.7,348.8 L693.9,347.8 L695.1,346.8 L696.2,345.8 L697.4,344.8 L698.6,343.8 L699.7,342.8 L700.8,341.8 L702.0,340.8 L703.1,339.8 L704.3,338.8 L749.5,299.4" fill="none"/>
<path id="p24" d="M744.2,330.4 L791.8,293.9 L792.7,293.2 L793.6,292.6 L794.4,291.9 L795.3,291.3 L796.1,290.6 L797.0,290.0 L797.8,289.3 L798.6,288.7 L799.5,288.1 L800.3,287.5 L801.1,286.9 L801.9,286.3 L802.6,285.7 L803.4,285.1 L804.1,284.5 L804.8,283.9 L805.4,283.5 L806.0,283.0 L806.6,282.5 L807.1,282.0 L807.7,281.5 L808.3,281.0 L808.9,280.4 L809.6,279.9 L810.2,279.3 L810.8,278.8 L811.5,278.2 L812.2,277.6 L812.9,277.0 L813.7,276.4 L814.5,275.7 L815.3,275.1 L816.2,274.4 L817.1,273.7 L818.0,273.1 L818.9,272.5 L819.7,271.9 L820.5,271.4 L821.3,270.8 L822.1,270.3 L822.8,269.9 L823.5,269.4 L824.2,268.9 L824.8,268.5 L825.4,268.0 L826.0,267.6 L826.6,267.1 L827.2,266.7 L827.9,266.0 L828.7,265.3 L829.6,264.5 L830.4,263.6 L831.3,262.8 L832.2,261.8 L833.1,260.9 L834.0,259.9 L834.9,258.9 L835.8,257.8 L836.8,256.8 L837.8,255.7 L838.7,254.6 L839.7,253.5 L840.7,252.4 L841.7,251.4 L842.6,250.3 L843.6,249.3 L844.5,248.3 L845.4,247.2 L846.4,246.2 L847.3,245.1 L848.3,244.1 L849.2,243.0 L850.2,241.9 L851.1,240.8 L852.1,239.8 L853.1,238.7 L854.0,237.6 L855.0,236.5 L856.0,235.4 L857.0,234.3 L858.0,233.3 L858.9,232.2 L859.9,231.2 L860.9,230.1 L861.8,229.1 L862.8,228.1 L863.8,227.0 L864.7,226.0 L865.7,225.0 L866.6,224.0 L867.6,223.0 L868.6,222.0 L869.5,220.9 L870.5,219.9 L871.4,218.9 L872.4,217.9 L873.3,216.9 L874.2,215.9 L875.1,214.9 L876.1,213.9 L877.0,212.9 L877.9,211.9 L878.9,210.9 L879.8,209.8 L880.8,208.8 L881.8,207.8 L882.7,206.7 L883.7,205.7 L884.7,204.7 L885.6,203.7 L886.6,202.6 L887.6,201.6 L888.6,200.6 L889.6,199.6 L890.6,198.7 L891.5,197.7 L892.5,196.8 L893.5,195.8 L894.5,194.9 L895.4,193.9 L896.4,193.0 L897.4,192.1 L898.4,191.2 L899.3,190.3 L900.3,189.3 L901.3,188.4 L902.2,187.5 L903.2,186.6 L904.1,185.7 L905.1,184.8 L906.0,184.0 L907.0,183.1 L907.9,182.2 L908.9,181.3 L909.9,180.4 L910.8,179.4 L911.8,178.5 L912.8,177.6 L913.8,176.7 L914.8,175.8 L915.8,174.9 L916.8,174.1 L917.8,173.2 L918.8,172.3 L919.8,171.4 L920.8,170.6 L921.8,169.8 L922.8,169.0 L923.8,168.2 L924.8,167.5 L925.8,166.7 L926.8,166.0 L927.7,165.2 L928.7,164.5 L929.6,163.8 L930.6,163.1 L931.5,162.3 L932.4,161.6 L933.3,160.9 L934.2,160.2 L935.1,159.5 L936.0,158.7 L936.9,158.0 L937.8,157.2 L938.7,156.3 L939.6,155.5 L940.6,154.7 L941.5,153.8 L942.5,153.0 L943.5,152.1 L944.5,151.2 L945.5,150.4 L946.6,149.5 L947.7,148.7 L948.8,147.8 L949.8,147.0 L950.9,146.3 L951.9,145.6 L952.9,144.9 L953.9,144.2 L954.9,143.6 L955.9,142.9 L956.9,142.3 L957.9,141.6 L959.0,141.0 L960.0,140.4 L961.0,139.8 L962.0,139.3 L963.0,138.7 L964.1,138.1 L965.1,137.6 L966.1,137.1 L967.1,136.6 L968.1,136.1 L969.1,135.6 L970.1,135.1 L971.1,134.6 L972.1,134.2 L973.1,133.7 L974.1,133.3 L975.2,132.8 L976.2,132.4 L977.2,132.0 L978.2,131.6 L979.2,131.2 L980.2,130.8 L981.2,130.5 L982.2,130.1 L983.2,129.7 L984.3,129.4 L985.3,129.1 L986.3,128.7 L987.3,128.4 L988.3,128.1 L989.3,127.9 L990.3,127.6 L991.3,127.3 L992.3,127.0 L993.2,126.8 L994.2,126.5 L995.2,126.3 L996.1,126.0 L997.1,125.8 L998.0,125.6 L999.0,125.3 L999.9,125.1 L1000.9,124.9 L1001.8,124.6 L1002.8,124.4 L1003.7,124.2 L1004.7,124.0 L1005.6,123.8 L1006.6,123.6 L1007.5,123.4 L1008.5,123.2 L1009.5,122.9 L1010.5,122.7 L1011.5,122.5 L1012.5,122.3 L1013.6,122.1 L1014.8,121.9 L1016.1,121.7 L1017.4,121.4 L1018.7,121.2 L1020.0,121.0 L1021.4,120.8 L1022.7,120.5 L1024.1,120.3 L1025.4,120.1 L1026.8,119.9 L1028.2,119.7 L1029.5,119.5 L1030.9,119.3 L1032.2,119.0 L1033.5,118.8 L1034.8,118.6 L1094.0,108.9" fill="none"/>
<path id="p25" d="M985.7,158.3 L1032.0,120.1 L1033.0,119.3 L1033.9,118.6 L1034.8,117.8 L1035.8,116.9 L1036.7,116.1 L1037.7,115.3 L1038.7,114.4 L1039.7,113.6 L1040.7,112.7 L1041.7,111.8 L1042.8,111.0 L1043.9,110.1 L1045.0,109.2 L1046.1,108.4 L1047.3,107.6 L1048.5,106.7 L1049.8,105.9 L1051.1,105.1 L1052.5,104.3 L1053.8,103.4 L1055.2,102.7 L1056.5,101.9 L1057.9,101.1 L1059.4,100.3 L1060.8,99.6 L1062.3,98.9 L1063.8,98.1 L1065.3,97.4 L1066.9,96.7 L1068.5,96.0 L1070.1,95.4 L1071.7,94.7 L1073.8,93.9 L1075.9,93.2 L1078.1,92.5 L1080.3,91.8 L1082.6,91.1 L1084.9,90.4 L1087.2,89.8 L1089.5,89.2 L1091.9,88.6 L1094.2,88.0 L1096.6,87.5 L1099.0,86.9 L1101.5,86.4 L1103.9,85.9 L1106.3,85.3 L1108.7,84.8 L1111.5,84.3 L1114.3,83.7 L1117.1,83.2 L1120.0,82.7 L1122.9,82.1 L1125.8,81.7 L1128.8,81.2 L1131.7,80.7 L1134.7,80.3 L1137.7,79.8 L1140.6,79.4 L1143.6,79.1 L1146.6,78.7 L1149.5,78.3 L1152.5,78.0 L1155.4,77.7 L1158.2,77.5 L1161.1,77.2 L1164.0,77.0 L1166.8,76.8 L1169.7,76.7 L1172.6,76.5 L1175.4,76.4 L1178.3,76.3 L1181.1,76.2 L1183.9,76.1 L1186.6,76.0 L1189.3,76.0 L1192.0,75.9 L1194.7,75.8 L1197.3,75.8 L1199.8,75.7 L1202.0,75.6 L1204.1,75.6 L1206.2,75.6 L1208.3,75.5 L1210.3,75.5 L1212.3,75.5 L1214.3,75.4 L1216.3,75.4 L1218.2,75.4 L1220.2,75.4 L1222.1,75.4 L1224.1,75.4 L1226.0,75.4 L1228.0,75.3 L1229.9,75.3 L1231.9,75.3 L1291.9,74.6" fill="none"/>
<path id="p26" d="M1173.7,96.7 L1230.3,76.7 L1231.3,76.3 L1232.2,76.0 L1233.2,75.6 L1234.2,75.3 L1235.2,74.9 L1236.2,74.5 L1237.2,74.2 L1238.2,73.8 L1239.2,73.4 L1240.2,73.1 L1241.3,72.7 L1242.3,72.4 L1243.3,72.0 L1244.4,71.7 L1245.4,71.3 L1246.5,71.0 L1247.5,70.7 L1248.4,70.4 L1249.4,70.1 L1250.3,69.9 L1251.3,69.6 L1252.3,69.3 L1253.2,69.0 L1254.2,68.7 L1255.2,68.5 L1256.3,68.2 L1257.3,68.0 L1258.4,67.7 L1259.6,67.5 L1260.7,67.3 L1262.0,67.1 L1263.2,66.9 L1265.2,66.6 L1267.2,66.3 L1269.3,66.1 L1271.4,66.0 L1273.6,65.8 L1275.9,65.7 L1278.2,65.6 L1280.5,65.4 L1282.9,65.4 L1285.3,65.3 L1287.7,65.2 L1290.1,65.1 L1292.6,65.0 L1295.0,65.0 L1297.4,64.9 L1299.8,64.8 L1302.6,64.7 L1305.5,64.6 L1308.4,64.5 L1311.4,64.5 L1314.4,64.4 L1317.4,64.3 L1320.4,64.3 L1323.5,64.2 L1326.5,64.2 L1329.6,64.1 L1332.7,64.1 L1335.8,64.0 L1338.8,64.0 L1341.9,63.9 L1344.9,63.9 L1347.9,63.8 L1407.9,62.6" fill="none"/>
<path id="p27" d="M1176.9,57.4 L1233.7,76.7 L1234.7,77.0 L1235.7,77.4 L1236.7,77.7 L1237.7,78.1 L1238.7,78.4 L1239.7,78.8 L1240.7,79.1 L1241.7,79.5 L1242.7,79.8 L1243.7,80.2 L1244.6,80.5 L1245.6,80.8 L1246.6,81.1 L1247.5,81.4 L1248.5,81.7 L1249.5,82.0 L1250.5,82.3 L1251.4,82.6 L1252.3,82.9 L1253.2,83.1 L1254.1,83.4 L1255.0,83.7 L1255.8,83.9 L1256.7,84.1 L1257.6,84.4 L1258.5,84.6 L1259.4,84.8 L1260.4,85.0 L1261.4,85.3 L1262.5,85.5 L1263.6,85.7 L1264.8,85.9 L1267.2,86.2 L1269.9,86.6 L1272.8,86.9 L1275.8,87.2 L1279.1,87.5 L1282.5,87.7 L1286.0,88.0 L1289.6,88.2 L1293.3,88.5 L1297.1,88.7 L1300.9,88.9 L1304.8,89.1 L1308.7,89.3 L1312.5,89.5 L1316.4,89.6 L1320.2,89.8 L1324.8,90.0 L1329.4,90.2 L1334.1,90.3 L1338.9,90.4 L1343.8,90.5 L1348.7,90.6 L1353.7,90.7 L1358.7,90.8 L1363.8,90.8 L1368.8,90.9 L1373.9,90.9 L1379.0,91.0 L1384.1,91.1 L1389.1,91.1 L1394.1,91.2 L1399.1,91.3 L1459.1,92.4" fill="none"/>
<path id="p28" d="M986.9,90.0 L1039.1,119.5 L1039.7,119.9 L1040.3,120.2 L1040.9,120.6 L1041.5,120.9 L1042.0,121.2 L1042.5,121.6 L1043.0,121.9 L1043.5,122.2 L1044.0,122.5 L1044.5,122.7 L1045.0,123.0 L1045.5,123.3 L1045.9,123.5 L1046.4,123.7 L1046.9,124.0 L1047.4,124.2 L1048.2,124.5 L1048.9,124.8 L1049.7,125.1 L1050.5,125.3 L1051.3,125.6 L1052.2,125.9 L1053.0,126.1 L1053.9,126.4 L1054.8,126.6 L1055.8,126.9 L1056.8,127.1 L1057.8,127.4 L1058.8,127.6 L1059.9,127.8 L1061.1,128.1 L1062.2,128.3 L1064.1,128.7 L1066.1,129.0 L1068.2,129.3 L1070.4,129.7 L1072.7,130.0 L1075.1,130.3 L1077.5,130.6 L1080.0,130.9 L1082.5,131.2 L1085.1,131.4 L1087.7,131.7 L1090.3,131.9 L1092.9,132.1 L1095.4,132.3 L1098.0,132.5 L1100.4,132.7 L1102.9,132.9 L1105.5,133.0 L1108.0,133.1 L1110.6,133.2 L1113.2,133.3 L1115.8,133.3 L1118.4,133.4 L1121.0,133.4 L1123.6,133.5 L1126.2,133.5 L1128.9,133.5 L1131.5,133.5 L1134.2,133.6 L1136.8,133.6 L1139.5,133.6 L1142.1,133.7 L1202.1,135.0" fill="none"/>
<path id="p29" d="M1083.5,154.2 L1140.3,135.1 L1141.4,134.7 L1142.5,134.3 L1143.6,133.9 L1144.7,133.6 L1145.8,133.2 L1146.9,132.8 L1148.0,132.4 L1149.1,132.0 L1150.3,131.6 L1151.4,131.2 L1152.6,130.8 L1153.7,130.4 L1154.9,130.1 L1156.1,129.7 L1157.4,129.3 L1158.6,129.0 L1160.0,128.6 L1161.3,128.3 L1162.6,127.9 L1164.0,127.6 L1165.3,127.2 L1166.7,126.9 L1168.1,126.5 L1169.5,126.2 L1170.9,125.9 L1172.4,125.6 L1173.9,125.3 L1175.5,125.0 L1177.1,124.7 L1178.7,124.4 L1180.5,124.1 L1182.3,123.9 L1185.2,123.4 L1188.2,123.1 L1191.4,122.7 L1194.7,122.3 L1198.1,122.0 L1201.7,121.7 L1205.3,121.4 L1209.0,121.1 L1212.7,120.9 L1216.5,120.6 L1220.4,120.4 L1224.2,120.1 L1228.1,119.9 L1232.0,119.7 L1235.9,119.5 L1239.8,119.3 L1244.3,119.1 L1248.9,118.9 L1253.6,118.8 L1258.3,118.6 L1263.1,118.5 L1267.9,118.4 L1272.8,118.4 L1277.7,118.3 L1282.6,118.2 L1287.6,118.2 L1292.5,118.1 L1297.4,118.1 L1302.3,118.0 L1307.2,118.0 L1312.1,117.9 L1316.9,117.8 L1376.9,116.7" fill="none"/>
<path id="p30" d="M1085.6,118.8 L1143.4,135.0 L1144.5,135.3 L1145.7,135.6 L1146.8,136.0 L1147.9,136.3 L1149.0,136.6 L1150.1,136.9 L1151.2,137.3 L1152.3,137.6 L1153.4,137.9 L1154.5,138.2 L1155.6,138.5 L1156.7,138.8 L1157.8,139.1 L1158.9,139.4 L1160.0,139.7 L1161.2,139.9 L1162.5,140.2 L1163.8,140.5 L1165.1,140.8 L1166.4,141.1 L1167.6,141.4 L1168.9,141.7 L1170.2,141.9 L1171.5,142.2 L1172.8,142.5 L1174.2,142.7 L1175.6,143.0 L1177.1,143.2 L1178.6,143.5 L1180.2,143.7 L1181.9,144.0 L1183.7,144.2 L1187.2,144.7 L1191.0,145.2 L1195.1,145.6 L1199.4,146.1 L1204.0,146.6 L1208.8,147.0 L1213.7,147.5 L1218.7,147.9 L1223.9,148.3 L1229.1,148.7 L1234.3,149.1 L1239.6,149.5 L1244.9,149.9 L1250.1,150.2 L1255.2,150.5 L1260.3,150.8 L1265.7,151.1 L1271.1,151.3 L1276.6,151.6 L1282.2,151.7 L1287.7,151.9 L1293.4,152.1 L1299.0,152.2 L1304.7,152.3 L1310.3,152.4 L1316.0,152.5 L1321.7,152.6 L1327.4,152.7 L1333.1,152.8 L1338.8,152.9 L1344.5,153.1 L1350.1,153.2 L1410.1,154.7" fill="none"/>
<path id="p31" d="M1011.6,69.8 L1041.5,121.9 L1041.9,122.7 L1042.4,123.5 L1042.8,124.3 L1043.2,125.1 L1043.7,125.9 L1044.1,126.6 L1044.5,127.4 L1044.9,128.1 L1045.3,128.8 L1045.6,129.5 L1046.0,130.2 L1046.4,130.9 L1046.8,131.5 L1047.2,132.1 L1047.6,132.6 L1048.0,133.2 L1048.5,133.8 L1049.0,134.4 L1049.5,135.0 L1049.9,135.6 L1050.4,136.2 L1050.9,136.7 L1051.3,137.2 L1051.8,137.8 L1052.3,138.3 L1052.8,138.7 L1053.3,139.2 L1053.8,139.7 L1054.4,140.2 L1055.0,140.6 L1055.6,141.1 L1056.2,141.5 L1057.1,142.1 L1058.1,142.8 L1059.2,143.4 L1060.3,144.0 L1061.5,144.6 L1062.8,145.3 L1064.1,145.9 L1065.5,146.5 L1066.9,147.1 L1068.3,147.7 L1069.8,148.3 L1071.3,148.9 L1072.7,149.4 L1074.2,150.0 L1075.7,150.5 L1077.1,151.1 L1078.6,151.6 L1080.1,152.1 L1081.6,152.6 L1083.0,153.1 L1084.5,153.6 L1085.9,154.0 L1087.4,154.4 L1088.9,154.9 L1090.4,155.3 L1091.9,155.7 L1093.5,156.0 L1095.1,156.4 L1096.8,156.8 L1098.5,157.1 L1100.3,157.5 L1102.1,157.8 L1104.7,158.2 L1107.5,158.6 L1110.4,159.0 L1113.5,159.3 L1116.7,159.6 L1120.0,159.8 L1123.3,160.1 L1126.7,160.3 L1130.2,160.5 L1133.7,160.7 L1137.2,160.9 L1140.7,161.2 L1144.2,161.4 L1147.7,161.6 L1151.1,161.9 L1154.5,162.1 L1214.3,166.8" fill="none"/>
<path id="p32" d="M751.9,339.0 L807.7,316.9 L809.1,316.3 L810.6,315.7 L812.0,315.2 L813.4,314.6 L814.9,314.0 L816.3,313.5 L817.7,312.9 L819.1,312.3 L820.6,311.7 L822.1,311.1 L823.6,310.5 L825.1,309.9 L826.7,309.3 L828.4,308.7 L830.1,308.0 L831.8,307.3 L834.4,306.3 L837.0,305.2 L839.8,304.0 L842.7,302.9 L845.6,301.6 L848.7,300.4 L851.8,299.1 L855.0,297.8 L858.2,296.5 L861.5,295.2 L864.8,293.9 L868.2,292.6 L871.6,291.3 L875.0,290.1 L878.4,288.9 L881.8,287.7 L885.7,286.5 L889.6,285.2 L893.6,283.9 L897.7,282.7 L901.8,281.5 L906.0,280.2 L910.1,279.0 L914.3,277.9 L918.5,276.7 L922.7,275.6 L926.8,274.5 L930.9,273.5 L934.9,272.5 L938.8,271.5 L942.6,270.6 L946.3,269.7 L949.2,269.1 L952.1,268.5 L954.8,267.9 L957.6,267.4 L960.2,266.8 L962.9,266.3 L965.5,265.8 L968.2,265.4 L970.8,264.9 L973.4,264.5 L976.0,264.1 L978.6,263.7 L981.3,263.4 L984.0,263.0 L986.7,262.7 L989.5,262.4 L992.5,262.0 L995.6,261.8 L998.6,261.5 L1001.7,261.3 L1004.8,261.1 L1007.9,260.9 L1011.0,260.7 L1014.1,260.6 L1017.1,260.5 L1020.2,260.3 L1023.3,260.2 L1026.4,260.1 L1029.4,260.0 L1032.4,259.8 L1035.5,259.7 L1038.5,259.5 L1098.4,256.3" fill="none"/>
<path id="p33" d="M1010.8,320.3 L1033.2,264.7 L1033.7,263.3 L1034.2,262.0 L1034.7,260.6 L1035.2,259.2 L1035.8,257.8 L1036.3,256.4 L1036.8,255.0 L1037.3,253.6 L1037.9,252.1 L1038.5,250.7 L1039.1,249.2 L1039.7,247.8 L1040.3,246.3 L1041.0,244.9 L1041.7,243.4 L1042.5,242.0 L1043.2,240.7 L1044.0,239.4 L1044.7,238.1 L1045.5,236.8 L1046.3,235.6 L1047.1,234.4 L1048.0,233.2 L1048.8,232.0 L1049.6,230.8 L1050.5,229.7 L1051.4,228.5 L1052.2,227.4 L1053.1,226.3 L1054.0,225.2 L1054.9,224.1 L1055.7,223.0 L1056.6,222.0 L1057.4,220.9 L1058.3,219.9 L1059.2,218.9 L1060.0,217.9 L1060.9,216.9 L1061.8,215.9 L1062.8,214.9 L1063.7,213.9 L1064.7,212.9 L1065.7,211.9 L1066.7,210.9 L1067.7,209.9 L1068.8,209.0 L1069.9,208.0 L1071.0,207.1 L1072.2,206.1 L1073.5,205.2 L1074.7,204.2 L1076.0,203.3 L1077.3,202.3 L1078.7,201.4 L1080.0,200.4 L1081.4,199.5 L1082.9,198.6 L1084.3,197.8 L1085.8,196.9 L1087.3,196.1 L1088.9,195.3 L1090.4,194.5 L1092.0,193.8 L1093.7,193.1 L1095.5,192.4 L1097.4,191.8 L1099.3,191.2 L1101.2,190.7 L1103.1,190.2 L1105.1,189.8 L1107.0,189.4 L1109.0,189.0 L1110.9,188.7 L1112.8,188.4 L1114.8,188.1 L1116.7,187.8 L1118.6,187.5 L1120.5,187.3 L1122.3,187.0 L1124.2,186.8 L1126.0,186.5 L1127.9,186.3 L1129.8,186.1 L1131.7,185.9 L1133.6,185.8 L1135.5,185.7 L1137.3,185.6 L1139.2,185.5 L1141.0,185.4 L1142.8,185.3 L1144.6,185.2 L1146.4,185.1 L1148.2,185.0 L1150.0,184.9 L1151.8,184.8 L1153.6,184.7 L1213.5,180.8" fill="none"/>
<path id="p34" d="M993.6,306.7 L1034.4,262.7 L1035.3,261.7 L1036.3,260.6 L1037.2,259.6 L1038.2,258.5 L1039.1,257.4 L1040.1,256.3 L1041.1,255.2 L1042.1,254.0 L1043.1,252.9 L1044.1,251.7 L1045.2,250.6 L1046.3,249.5 L1047.4,248.4 L1048.6,247.3 L1049.8,246.2 L1051.0,245.2 L1052.2,244.2 L1053.4,243.3 L1054.6,242.4 L1055.8,241.5 L1057.0,240.6 L1058.2,239.8 L1059.5,239.0 L1060.7,238.2 L1062.0,237.5 L1063.3,236.7 L1064.5,236.0 L1065.8,235.2 L1067.1,234.5 L1068.4,233.8 L1069.7,233.1 L1071.1,232.4 L1072.6,231.6 L1074.2,230.8 L1075.8,230.0 L1077.4,229.3 L1079.1,228.5 L1080.7,227.7 L1082.4,227.0 L1084.1,226.3 L1085.8,225.5 L1087.6,224.8 L1089.3,224.1 L1091.0,223.5 L1092.8,222.8 L1094.5,222.2 L1096.3,221.6 L1098.0,221.0 L1099.8,220.4 L1101.6,219.9 L1103.3,219.4 L1105.0,218.9 L1106.8,218.4 L1108.5,218.0 L1110.3,217.5 L1112.1,217.1 L1113.9,216.7 L1115.7,216.3 L1117.5,215.9 L1119.4,215.6 L1121.2,215.2 L1123.1,214.9 L1125.1,214.6 L1127.1,214.3 L1129.5,213.9 L1132.1,213.6 L1134.7,213.3 L1137.3,213.1 L1140.0,212.8 L1142.7,212.6 L1145.4,212.4 L1148.1,212.3 L1150.8,212.1 L1153.6,212.0 L1156.3,211.8 L1159.0,211.7 L1161.7,211.6 L1164.4,211.4 L1167.1,211.3 L1169.7,211.2 L1172.3,211.1 L1174.9,211.0 L1177.5,210.9 L1180.1,210.8 L1182.7,210.7 L1185.3,210.7 L1187.8,210.6 L1190.4,210.6 L1193.0,210.5 L1195.5,210.5 L1198.1,210.4 L1200.7,210.4 L1203.2,210.4 L1205.8,210.3 L1208.3,210.3 L1210.9,210.2 L1270.8,208.8" fill="none"/>
<path id="p35" d="M980.1,280.1 L1037.0,261.0 L1038.3,260.6 L1039.6,260.2 L1040.8,259.7 L1042.1,259.3 L1043.4,258.8 L1044.7,258.4 L1045.9,257.9 L1047.2,257.5 L1048.6,257.0 L1049.9,256.6 L1051.2,256.1 L1052.6,255.7 L1054.0,255.3 L1055.4,254.8 L1056.8,254.4 L1058.2,254.0 L1059.8,253.5 L1061.4,253.0 L1063.0,252.5 L1064.7,252.1 L1066.3,251.6 L1068.0,251.1 L1069.7,250.6 L1071.4,250.2 L1073.2,249.7 L1075.0,249.2 L1076.8,248.8 L1078.7,248.4 L1080.7,247.9 L1082.7,247.5 L1084.8,247.2 L1087.0,246.8 L1090.3,246.3 L1093.7,245.8 L1097.3,245.4 L1101.0,245.0 L1104.8,244.6 L1108.7,244.2 L1112.7,243.9 L1116.7,243.6 L1120.8,243.3 L1125.0,243.0 L1129.1,242.8 L1133.3,242.5 L1137.5,242.3 L1141.6,242.1 L1145.7,241.9 L1149.7,241.7 L1154.0,241.5 L1158.3,241.4 L1162.7,241.2 L1167.1,241.1 L1171.5,241.1 L1175.9,241.0 L1180.3,241.0 L1184.7,240.9 L1189.1,240.9 L1193.5,240.9 L1198.0,240.9 L1202.4,240.8 L1206.8,240.8 L1211.2,240.8 L1215.5,240.8 L1219.9,240.7 L1279.9,240.0" fill="none"/>
<path id="p36" d="M980.1,254.0 L1039.7,260.7 L1041.7,261.0 L1043.6,261.2 L1045.5,261.4 L1047.5,261.6 L1049.4,261.9 L1051.4,262.1 L1053.3,262.3 L1055.2,262.6 L1057.2,262.8 L1059.1,263.0 L1061.0,263.2 L1062.9,263.4 L1064.9,263.6 L1066.8,263.8 L1068.7,264.0 L1070.6,264.2 L1072.5,264.4 L1074.4,264.6 L1076.2,264.8 L1078.0,264.9 L1079.8,265.1 L1081.6,265.3 L1083.4,265.4 L1085.2,265.6 L1087.1,265.7 L1089.0,265.9 L1090.9,266.0 L1092.8,266.1 L1094.9,266.3 L1097.0,266.4 L1099.1,266.6 L1101.4,266.7 L1104.9,266.9 L1108.7,267.1 L1112.6,267.4 L1116.7,267.6 L1121.0,267.8 L1125.3,268.0 L1129.8,268.2 L1134.3,268.4 L1138.8,268.6 L1143.4,268.8 L1148.0,268.9 L1152.6,269.1 L1157.1,269.3 L1161.6,269.4 L1165.9,269.6 L1170.2,269.7 L1174.2,269.8 L1178.1,269.9 L1182.1,270.0 L1186.0,270.1 L1189.9,270.1 L1193.8,270.2 L1197.7,270.3 L1201.6,270.3 L1205.4,270.4 L1209.3,270.4 L1213.2,270.4 L1217.1,270.5 L1221.0,270.5 L1224.9,270.6 L1228.8,270.6 L1232.7,270.7 L1292.7,271.6" fill="none"/>
<path id="p37" d="M990.1,231.6 L1042.1,261.5 L1043.5,262.3 L1044.8,263.1 L1046.1,263.8 L1047.4,264.6 L1048.7,265.3 L1049.9,266.1 L1051.2,266.8 L1052.5,267.6 L1053.7,268.3 L1055.0,269.1 L1056.3,269.8 L1057.6,270.5 L1058.9,271.3 L1060.2,272.0 L1061.5,272.7 L1062.9,273.4 L1064.5,274.2 L1066.1,275.1 L1067.8,275.9 L1069.5,276.8 L1071.1,277.6 L1072.8,278.5 L1074.5,279.3 L1076.3,280.1 L1078.0,280.9 L1079.7,281.7 L1081.5,282.5 L1083.2,283.3 L1084.9,284.0 L1086.7,284.7 L1088.4,285.4 L1090.2,286.1 L1092.0,286.8 L1093.9,287.4 L1095.8,288.0 L1097.6,288.6 L1099.6,289.2 L1101.5,289.8 L1103.4,290.4 L1105.4,290.9 L1107.3,291.4 L1109.3,292.0 L1111.3,292.5 L1113.3,293.0 L1115.3,293.4 L1117.3,293.9 L1119.4,294.4 L1121.4,294.9 L1123.5,295.3 L1125.6,295.8 L1127.6,296.2 L1129.7,296.6 L1131.7,297.0 L1133.8,297.4 L1135.9,297.8 L1138.0,298.2 L1140.1,298.6 L1142.2,298.9 L1144.3,299.2 L1146.5,299.6 L1148.8,299.9 L1151.0,300.2 L1153.3,300.5 L1155.7,300.7 L1158.7,301.1 L1161.8,301.4 L1165.0,301.6 L1168.3,301.9 L1171.7,302.1 L1175.1,302.3 L1178.6,302.5 L1182.1,302.6 L1185.6,302.8 L1189.2,302.9 L1192.7,303.1 L1196.3,303.2 L1199.8,303.3 L1203.3,303.5 L1206.8,303.6 L1210.2,303.7 L1213.5,303.8 L1216.8,303.9 L1220.0,304.0 L1223.2,304.1 L1226.5,304.2 L1229.7,304.2 L1233.0,304.3 L1236.2,304.3 L1239.4,304.4 L1242.6,304.4 L1245.9,304.5 L1249.1,304.5 L1252.4,304.5 L1255.6,304.6 L1258.9,304.6 L1262.1,304.7 L1322.1,305.8" fill="none"/>
<path id="p38" d="M1007.5,215.6 L1044.0,263.2 L1044.9,264.3 L1045.8,265.5 L1046.6,266.7 L1047.5,267.8 L1048.3,269.0 L1049.1,270.1 L1050.0,271.3 L1050.8,272.4 L1051.6,273.5 L1052.4,274.5 L1053.2,275.6 L1054.1,276.6 L1054.9,277.7 L1055.8,278.7 L1056.6,279.7 L1057.6,280.7 L1058.6,281.8 L1059.7,282.9 L1060.9,284.0 L1062.1,285.1 L1063.3,286.2 L1064.5,287.3 L1065.7,288.4 L1067.0,289.5 L1068.3,290.6 L1069.6,291.6 L1070.9,292.7 L1072.2,293.8 L1073.6,294.8 L1075.0,295.9 L1076.3,296.9 L1077.7,297.9 L1079.2,299.0 L1080.7,300.0 L1082.2,301.1 L1083.7,302.1 L1085.2,303.1 L1086.8,304.1 L1088.3,305.1 L1089.9,306.1 L1091.5,307.1 L1093.1,308.1 L1094.7,309.0 L1096.3,309.9 L1098.0,310.8 L1099.6,311.7 L1101.2,312.5 L1102.8,313.4 L1104.5,314.2 L1106.1,315.0 L1107.7,315.7 L1109.3,316.5 L1110.8,317.2 L1112.4,317.9 L1114.0,318.6 L1115.6,319.2 L1117.2,319.9 L1118.9,320.5 L1120.6,321.1 L1122.3,321.7 L1124.0,322.3 L1125.8,322.8 L1127.7,323.4 L1129.6,323.9 L1132.3,324.6 L1135.0,325.2 L1137.9,325.9 L1140.8,326.4 L1143.8,327.0 L1146.9,327.5 L1150.1,328.0 L1153.3,328.5 L1156.6,328.9 L1160.0,329.4 L1163.3,329.8 L1166.8,330.2 L1170.2,330.6 L1173.7,331.0 L1177.2,331.4 L1180.6,331.7 L1184.7,332.1 L1188.8,332.5 L1192.9,332.8 L1197.2,333.1 L1201.5,333.4 L1205.8,333.6 L1210.2,333.8 L1214.6,334.1 L1219.1,334.3 L1223.6,334.5 L1228.0,334.6 L1232.5,334.8 L1237.0,335.0 L1241.5,335.2 L1245.9,335.5 L1250.3,335.7 L1310.3,339.0" fill="none"/>
<path id="p39" d="M761.4,307.9 L818.4,326.5 L819.7,326.9 L820.9,327.3 L822.0,327.7 L823.2,328.1 L824.4,328.4 L825.6,328.8 L826.8,329.2 L828.0,329.6 L829.2,330.0 L830.4,330.4 L831.7,330.8 L833.0,331.2 L834.3,331.6 L835.6,332.1 L837.0,332.6 L838.4,333.0 L840.4,333.7 L842.3,334.3 L844.4,335.0 L846.5,335.7 L848.6,336.4 L850.8,337.1 L853.0,337.9 L855.2,338.7 L857.5,339.4 L859.8,340.2 L862.1,341.0 L864.4,341.8 L866.7,342.6 L869.0,343.5 L871.3,344.3 L873.6,345.1 L876.2,346.1 L878.8,347.1 L881.4,348.1 L883.9,349.1 L886.5,350.1 L889.0,351.1 L891.5,352.2 L894.0,353.2 L896.6,354.2 L899.1,355.2 L901.7,356.2 L904.3,357.2 L906.9,358.2 L909.6,359.1 L912.3,360.1 L915.1,361.0 L918.7,362.1 L922.5,363.3 L926.4,364.4 L930.5,365.6 L934.6,366.8 L938.7,367.9 L943.0,369.1 L947.2,370.2 L951.5,371.3 L955.7,372.3 L960.0,373.3 L964.2,374.3 L968.3,375.2 L972.3,376.0 L976.3,376.7 L980.1,377.4 L983.3,378.0 L986.5,378.4 L989.6,378.8 L992.7,379.2 L995.9,379.5 L999.0,379.8 L1002.1,380.0 L1005.2,380.2 L1008.3,380.5 L1011.5,380.7 L1014.6,380.9 L1017.8,381.1 L1021.0,381.3 L1024.2,381.5 L1027.5,381.7 L1030.7,382.0 L1090.5,387.2" fill="none"/>
<path id="p40" d="M970.3,400.0 L1028.5,385.4 L1030.3,384.9 L1032.2,384.5 L1034.0,384.0 L1035.8,383.5 L1037.7,383.1 L1039.5,382.6 L1041.3,382.1 L1043.1,381.7 L1045.0,381.2 L1046.9,380.7 L1048.7,380.2 L1050.7,379.8 L1052.6,379.3 L1054.5,378.8 L1056.5,378.3 L1058.6,377.9 L1060.9,377.3 L1063.3,376.7 L1065.8,376.2 L1068.2,375.6 L1070.7,375.0 L1073.3,374.3 L1075.8,373.7 L1078.4,373.1 L1081.0,372.5 L1083.7,372.0 L1086.4,371.4 L1089.0,370.8 L1091.8,370.3 L1094.5,369.8 L1097.2,369.3 L1100.0,368.8 L1103.0,368.3 L1105.9,367.9 L1109.0,367.4 L1112.0,367.0 L1115.0,366.6 L1118.1,366.3 L1121.1,365.9 L1124.2,365.6 L1127.3,365.2 L1130.4,364.9 L1133.6,364.6 L1136.7,364.3 L1139.9,364.1 L1143.1,363.8 L1146.2,363.5 L1149.5,363.2 L1153.0,362.9 L1156.6,362.6 L1160.1,362.4 L1163.6,362.1 L1167.1,361.8 L1170.7,361.6 L1174.2,361.4 L1177.9,361.1 L1181.6,360.9 L1185.3,360.7 L1189.1,360.5 L1193.0,360.4 L1197.0,360.2 L1201.2,360.0 L1205.4,359.9 L1209.8,359.7 L1216.4,359.5 L1223.3,359.3 L1230.5,359.2 L1238.0,359.1 L1245.7,359.0 L1253.5,359.0 L1261.5,358.9 L1269.6,358.9 L1277.9,358.9 L1286.1,358.9 L1294.4,358.9 L1302.7,358.8 L1310.9,358.8 L1319.0,358.8 L1327.1,358.8 L1335.0,358.7 L1395.0,358.3" fill="none"/>
<path id="p41" d="M974.0,369.0 L1031.7,385.4 L1033.6,386.0 L1035.5,386.5 L1037.3,387.1 L1039.2,387.6 L1041.0,388.1 L1042.8,388.7 L1044.6,389.2 L1046.5,389.7 L1048.3,390.3 L1050.1,390.8 L1052.0,391.3 L1053.8,391.9 L1055.7,392.4 L1057.6,392.9 L1059.6,393.4 L1061.5,393.9 L1063.9,394.5 L1066.3,395.1 L1068.7,395.7 L1071.2,396.3 L1073.7,396.9 L1076.2,397.5 L1078.7,398.1 L1081.2,398.7 L1083.8,399.3 L1086.4,399.8 L1088.9,400.4 L1091.5,400.9 L1094.1,401.4 L1096.8,401.9 L1099.4,402.3 L1102.0,402.8 L1104.8,403.2 L1107.7,403.6 L1110.6,404.0 L1113.5,404.4 L1116.5,404.7 L1119.5,405.0 L1122.5,405.3 L1125.5,405.6 L1128.5,405.9 L1131.6,406.2 L1134.7,406.4 L1137.8,406.7 L1140.9,406.9 L1144.1,407.2 L1147.3,407.5 L1150.5,407.7 L1154.1,408.0 L1157.6,408.3 L1161.2,408.6 L1164.8,408.9 L1168.3,409.2 L1171.9,409.5 L1175.6,409.7 L1179.2,410.0 L1182.9,410.2 L1186.7,410.5 L1190.4,410.7 L1194.3,410.9 L1198.2,411.2 L1202.1,411.4 L1206.1,411.5 L1210.2,411.7 L1215.5,411.9 L1220.9,412.0 L1226.4,412.2 L1232.0,412.3 L1237.8,412.3 L1243.6,412.4 L1249.6,412.4 L1255.5,412.5 L1261.6,412.5 L1267.6,412.5 L1273.7,412.5 L1279.7,412.6 L1285.8,412.6 L1291.8,412.6 L1297.8,412.6 L1303.7,412.7 L1363.7,413.3" fill="none"/>
<path id="p42" d="M782.6,299.8 L825.3,341.9 L826.4,342.9 L827.4,343.9 L828.4,345.0 L829.5,346.0 L830.5,347.0 L831.5,348.0 L832.5,349.0 L833.5,350.0 L834.4,351.0 L835.3,351.9 L836.3,352.8 L837.1,353.7 L838.0,354.5 L838.8,355.3 L839.6,356.0 L840.3,356.7 L840.8,357.1 L841.3,357.5 L841.8,358.0 L842.3,358.4 L842.8,358.8 L843.4,359.3 L843.9,359.7 L844.5,360.2 L845.1,360.7 L845.7,361.2 L846.4,361.7 L847.1,362.3 L847.8,362.8 L848.6,363.4 L849.4,364.1 L850.1,364.7 L850.9,365.4 L851.6,366.0 L852.3,366.6 L853.1,367.3 L853.8,367.9 L854.5,368.6 L855.2,369.2 L855.9,369.9 L856.7,370.5 L857.4,371.2 L858.1,371.8 L858.8,372.5 L859.5,373.2 L860.2,373.8 L860.9,374.5 L861.7,375.2 L862.4,375.9 L863.1,376.6 L863.9,377.3 L864.6,378.0 L865.3,378.7 L866.0,379.4 L866.7,380.1 L867.5,380.8 L868.2,381.5 L868.9,382.2 L869.6,382.9 L870.3,383.6 L871.0,384.3 L871.7,385.0 L872.3,385.7 L873.0,386.4 L873.8,387.1 L874.5,387.9 L875.2,388.6 L875.8,389.3 L876.5,390.0 L877.2,390.7 L877.8,391.4 L878.5,392.1 L879.1,392.8 L879.8,393.4 L880.4,394.1 L881.1,394.8 L881.8,395.5 L882.5,396.3 L883.2,397.0 L883.9,397.7 L885.0,398.8 L886.2,399.9 L887.4,401.1 L888.7,402.3 L890.0,403.6 L891.4,404.8 L892.8,406.2 L894.2,407.5 L895.7,408.8 L897.1,410.2 L898.5,411.6 L900.0,412.9 L901.4,414.3 L902.8,415.6 L904.1,416.9 L905.4,418.2 L906.5,419.3 L907.6,420.4 L908.6,421.5 L909.6,422.5 L910.5,423.6 L911.5,424.6 L912.4,425.6 L913.3,426.5 L914.2,427.5 L915.0,428.4 L915.9,429.4 L916.7,430.3 L917.6,431.2 L918.4,432.0 L919.2,432.9 L920.1,433.8 L921.0,434.7 L921.8,435.6 L922.7,436.4 L923.6,437.3 L924.5,438.2 L925.4,439.1 L926.2,439.9 L927.1,440.8 L928.0,441.6 L928.9,442.5 L929.8,443.3 L930.6,444.1 L931.5,445.0 L932.4,445.8 L933.2,446.6 L934.1,447.4 L934.9,448.1 L935.7,448.8 L936.6,449.6 L937.4,450.3 L938.3,451.0 L939.1,451.7 L940.0,452.5 L940.9,453.2 L941.8,454.0 L942.7,454.7 L943.7,455.5 L944.6,456.3 L945.6,457.1 L946.6,457.9 L947.5,458.7 L948.5,459.5 L949.5,460.4 L950.5,461.2 L951.5,462.1 L952.5,462.9 L953.5,463.8 L954.4,464.6 L955.4,465.5 L956.4,466.4 L957.4,467.2 L958.4,468.1 L959.4,469.0 L960.4,469.8 L961.3,470.7 L962.3,471.6 L963.3,472.5 L964.4,473.4 L965.5,474.4 L966.7,475.4 L967.8,476.5 L969.0,477.5 L970.1,478.5 L971.2,479.5 L972.2,480.5 L973.3,481.5 L974.3,482.5 L975.4,483.4 L976.4,484.3 L977.4,485.2 L978.4,486.0 L979.3,486.8 L980.3,487.6 L981.2,488.3 L982.1,489.0 L983.1,489.7 L984.0,490.3 L985.0,491.0 L986.0,491.6 L987.0,492.3 L988.0,492.9 L989.0,493.5 L990.0,494.1 L991.0,494.7 L992.1,495.3 L993.1,495.9 L994.2,496.5 L995.3,497.1 L996.3,497.7 L997.4,498.3 L998.4,498.8 L999.4,499.4 L1000.4,499.9 L1001.5,500.4 L1002.5,500.9 L1003.5,501.4 L1004.6,501.9 L1005.6,502.4 L1006.6,502.9 L1007.7,503.3 L1008.7,503.8 L1009.8,504.3 L1010.8,504.7 L1011.9,505.2 L1013.0,505.6 L1014.0,506.0 L1015.0,506.4 L1016.1,506.8 L1017.1,507.2 L1018.1,507.6 L1019.2,508.0 L1020.2,508.4 L1021.3,508.8 L1022.3,509.1 L1023.4,509.5 L1024.4,509.8 L1025.5,510.2 L1026.6,510.5 L1027.7,510.9 L1028.8,511.2 L1029.8,511.6 L1030.9,511.9 L1032.0,512.2 L1033.0,512.5 L1034.1,512.8 L1035.2,513.1 L1036.2,513.4 L1037.3,513.7 L1038.4,514.0 L1039.4,514.3 L1040.5,514.6 L1041.6,514.9 L1042.7,515.2 L1043.8,515.4 L1044.9,515.7 L1046.0,516.0 L1047.1,516.3 L1048.2,516.5 L1049.3,516.8 L1050.4,517.1 L1051.5,517.3 L1052.6,517.6 L1053.7,517.8 L1054.8,518.1 L1055.9,518.3 L1057.0,518.6 L1058.1,518.8 L1059.2,519.1 L1060.3,519.3 L1061.4,519.5 L1062.4,519.7 L1063.5,519.9 L1064.5,520.1 L1065.5,520.3 L1066.4,520.5 L1067.3,520.6 L1068.2,520.8 L1069.1,520.9 L1070.0,521.1 L1070.9,521.2 L1071.8,521.4 L1072.7,521.5 L1073.6,521.6 L1074.5,521.7 L1075.4,521.9 L1076.3,522.0 L1077.3,522.1 L1078.2,522.3 L1079.2,522.4 L1080.1,522.6 L1139.4,531.5" fill="none"/>
<path id="p43" d="M1034.8,573.1 L1074.2,527.9 L1075.5,526.4 L1076.8,524.9 L1078.1,523.4 L1079.4,521.9 L1080.7,520.4 L1082.0,518.8 L1083.3,517.3 L1084.6,515.8 L1085.9,514.3 L1087.2,512.7 L1088.6,511.2 L1089.9,509.7 L1091.3,508.2 L1092.6,506.7 L1094.0,505.2 L1095.4,503.7 L1096.8,502.3 L1098.1,500.8 L1099.4,499.4 L1100.7,498.0 L1102.1,496.5 L1103.4,495.1 L1104.8,493.7 L1106.2,492.2 L1107.6,490.8 L1109.1,489.3 L1110.6,487.9 L1112.2,486.5 L1113.8,485.0 L1115.4,483.6 L1117.2,482.3 L1119.0,480.9 L1121.1,479.4 L1123.3,477.9 L1125.5,476.5 L1127.8,475.0 L1130.1,473.6 L1132.5,472.3 L1134.9,470.9 L1137.3,469.6 L1139.8,468.3 L1142.3,467.0 L1144.8,465.8 L1147.4,464.6 L1149.9,463.5 L1152.5,462.3 L1155.1,461.2 L1157.6,460.2 L1160.4,459.1 L1163.1,458.0 L1165.8,457.1 L1168.5,456.1 L1171.2,455.2 L1173.9,454.3 L1176.7,453.5 L1179.5,452.7 L1182.3,451.9 L1185.2,451.1 L1188.2,450.4 L1191.2,449.7 L1194.3,449.0 L1197.5,448.2 L1200.8,447.5 L1204.3,446.8 L1209.5,445.8 L1215.1,444.8 L1220.9,443.8 L1227.0,442.8 L1233.3,441.9 L1239.7,441.0 L1246.3,440.1 L1253.0,439.3 L1259.7,438.5 L1266.4,437.7 L1273.0,437.0 L1279.6,436.4 L1286.0,435.7 L1292.3,435.2 L1298.4,434.7 L1304.2,434.2 L1309.0,433.9 L1313.6,433.6 L1318.2,433.4 L1322.7,433.3 L1327.1,433.1 L1331.5,433.0 L1335.8,433.0 L1340.1,432.9 L1344.3,432.9 L1348.5,432.9 L1352.7,432.9 L1356.9,432.9 L1361.1,432.9 L1365.4,432.8 L1369.6,432.8 L1373.9,432.7 L1433.9,431.6" fill="none"/>
<path id="p44" d="M1027.6,563.5 L1075.2,527.0 L1076.5,526.0 L1077.7,525.0 L1079.0,524.0 L1080.3,523.0 L1081.6,522.0 L1082.9,520.9 L1084.2,519.9 L1085.5,518.9 L1086.8,517.8 L1088.2,516.8 L1089.5,515.8 L1090.9,514.8 L1092.2,513.7 L1093.6,512.7 L1095.1,511.7 L1096.5,510.8 L1097.8,509.9 L1099.1,509.0 L1100.4,508.1 L1101.8,507.2 L1103.1,506.3 L1104.4,505.4 L1105.8,504.5 L1107.2,503.6 L1108.7,502.7 L1110.2,501.8 L1111.7,500.9 L1113.3,500.1 L1115.0,499.2 L1116.7,498.4 L1118.5,497.6 L1120.4,496.8 L1123.1,495.8 L1125.9,494.8 L1128.8,493.9 L1131.8,493.0 L1134.9,492.1 L1138.1,491.3 L1141.4,490.5 L1144.7,489.7 L1148.0,489.0 L1151.4,488.3 L1154.7,487.6 L1158.0,487.0 L1161.4,486.4 L1164.6,485.8 L1167.9,485.3 L1171.0,484.8 L1174.1,484.3 L1177.2,483.9 L1180.3,483.5 L1183.4,483.2 L1186.4,482.9 L1189.5,482.6 L1192.5,482.4 L1195.6,482.1 L1198.6,481.9 L1201.6,481.7 L1204.6,481.6 L1207.7,481.4 L1210.7,481.2 L1213.6,481.1 L1216.6,480.9 L1219.6,480.7 L1222.6,480.5 L1225.6,480.4 L1228.6,480.2 L1231.6,480.1 L1234.6,479.9 L1237.6,479.8 L1240.6,479.7 L1243.6,479.6 L1246.6,479.5 L1249.6,479.4 L1252.6,479.3 L1255.6,479.2 L1258.5,479.1 L1261.5,478.9 L1264.5,478.8 L1267.4,478.7 L1327.4,476.3" fill="none"/>
<path id="p45" d="M1018.7,533.8 L1078.2,525.8 L1081.9,525.3 L1085.5,524.7 L1089.1,524.2 L1092.7,523.7 L1096.3,523.1 L1099.9,522.6 L1103.5,522.1 L1107.1,521.5 L1110.8,521.0 L1114.5,520.5 L1118.3,520.0 L1122.1,519.5 L1126.1,519.0 L1130.1,518.6 L1134.2,518.1 L1138.4,517.7 L1144.0,517.2 L1149.6,516.8 L1155.4,516.4 L1161.4,516.0 L1167.4,515.6 L1173.5,515.2 L1179.7,514.9 L1186.0,514.6 L1192.3,514.3 L1198.8,514.0 L1205.3,513.8 L1211.8,513.5 L1218.4,513.3 L1225.0,513.1 L1231.7,512.9 L1238.3,512.7 L1246.1,512.5 L1254.0,512.3 L1262.1,512.2 L1270.2,512.1 L1278.4,512.0 L1286.8,512.0 L1295.1,511.9 L1303.5,511.9 L1312.0,511.9 L1320.5,511.9 L1328.9,511.8 L1337.4,511.8 L1345.9,511.8 L1354.3,511.8 L1362.6,511.8 L1371.0,511.7 L1431.0,511.3" fill="none"/>
<path id="p46" d="M1023.2,509.1 L1080.8,526.0 L1082.7,526.5 L1084.7,527.1 L1086.6,527.7 L1088.6,528.3 L1090.5,528.9 L1092.5,529.4 L1094.4,530.0 L1096.4,530.6 L1098.3,531.2 L1100.2,531.8 L1102.1,532.3 L1104.0,532.9 L1105.9,533.4 L1107.8,533.9 L1109.7,534.4 L1111.6,534.9 L1113.4,535.4 L1115.2,535.8 L1116.9,536.3 L1118.6,536.7 L1120.3,537.2 L1122.0,537.6 L1123.6,538.0 L1125.3,538.4 L1127.0,538.8 L1128.7,539.2 L1130.4,539.6 L1132.2,539.9 L1134.0,540.2 L1135.9,540.6 L1137.8,540.9 L1139.8,541.2 L1142.9,541.5 L1146.1,541.9 L1149.4,542.2 L1152.8,542.4 L1156.4,542.7 L1160.0,542.9 L1163.8,543.1 L1167.6,543.2 L1171.5,543.4 L1175.4,543.5 L1179.5,543.6 L1183.6,543.7 L1187.7,543.9 L1191.8,544.0 L1196.0,544.1 L1200.2,544.2 L1205.3,544.3 L1210.5,544.5 L1215.9,544.6 L1221.4,544.6 L1226.9,544.7 L1232.5,544.8 L1238.2,544.8 L1243.9,544.8 L1249.7,544.9 L1255.5,544.9 L1261.3,544.9 L1267.1,544.9 L1272.9,545.0 L1278.7,545.0 L1284.4,545.0 L1290.1,545.1 L1350.1,545.6" fill="none"/>
<path id="p47" d="M1034.0,491.8 L1082.7,526.9 L1084.0,527.8 L1085.3,528.8 L1086.7,529.8 L1088.0,530.8 L1089.3,531.7 L1090.6,532.7 L1091.9,533.7 L1093.1,534.6 L1094.4,535.6 L1095.7,536.5 L1097.0,537.4 L1098.2,538.3 L1099.5,539.2 L1100.8,540.0 L1102.0,540.8 L1103.3,541.6 L1104.6,542.4 L1105.9,543.2 L1107.3,544.0 L1108.6,544.8 L1109.9,545.5 L1111.2,546.3 L1112.5,547.0 L1113.9,547.7 L1115.2,548.4 L1116.6,549.1 L1118.0,549.8 L1119.4,550.5 L1120.8,551.2 L1122.3,551.9 L1123.8,552.6 L1125.3,553.2 L1127.1,554.0 L1128.9,554.8 L1130.8,555.6 L1132.7,556.4 L1134.6,557.2 L1136.6,558.0 L1138.5,558.7 L1140.6,559.5 L1142.6,560.2 L1144.6,560.9 L1146.6,561.7 L1148.7,562.4 L1150.7,563.0 L1152.8,563.7 L1154.8,564.3 L1156.8,565.0 L1158.9,565.6 L1160.9,566.2 L1162.9,566.8 L1164.8,567.3 L1166.8,567.9 L1168.8,568.4 L1170.8,568.9 L1172.7,569.4 L1174.7,569.9 L1176.8,570.3 L1178.8,570.8 L1181.0,571.2 L1183.1,571.6 L1185.3,572.0 L1187.6,572.4 L1189.9,572.8 L1193.2,573.2 L1196.5,573.7 L1199.9,574.1 L1203.5,574.4 L1207.2,574.8 L1210.9,575.1 L1214.7,575.4 L1218.6,575.6 L1222.5,575.9 L1226.5,576.1 L1230.4,576.3 L1234.4,576.5 L1238.4,576.7 L1242.4,576.9 L1246.4,577.0 L1250.3,577.2 L1254.3,577.4 L1258.4,577.5 L1262.5,577.6 L1266.7,577.7 L1270.8,577.8 L1275.0,577.9 L1279.2,577.9 L1283.3,577.9 L1287.6,578.0 L1291.8,578.0 L1296.0,578.0 L1300.2,578.0 L1304.4,578.1 L1308.7,578.1 L1312.9,578.1 L1317.1,578.2 L1377.1,579.0" fill="none"/>
<path id="p48" d="M1049.3,479.5 L1084.1,528.3 L1085.0,529.5 L1085.8,530.7 L1086.6,531.9 L1087.4,533.1 L1088.2,534.3 L1089.0,535.5 L1089.8,536.6 L1090.6,537.8 L1091.3,538.9 L1092.1,540.0 L1092.8,541.0 L1093.6,542.1 L1094.4,543.0 L1095.1,544.0 L1095.9,544.9 L1096.6,545.7 L1097.3,546.5 L1098.0,547.2 L1098.7,547.8 L1099.4,548.5 L1100.2,549.1 L1101.0,549.7 L1101.7,550.4 L1102.6,551.0 L1103.4,551.7 L1104.3,552.4 L1105.2,553.1 L1106.2,553.9 L1107.1,554.7 L1108.1,555.5 L1109.2,556.4 L1110.2,557.3 L1111.6,558.6 L1113.1,560.0 L1114.5,561.4 L1116.0,562.9 L1117.4,564.4 L1118.9,565.9 L1120.4,567.4 L1121.9,568.9 L1123.4,570.4 L1124.9,571.9 L1126.5,573.4 L1128.0,574.9 L1129.5,576.3 L1131.0,577.6 L1132.5,578.9 L1133.9,580.1 L1135.4,581.3 L1136.9,582.4 L1138.4,583.6 L1139.9,584.7 L1141.4,585.8 L1142.9,586.9 L1144.4,587.9 L1145.9,589.0 L1147.4,590.0 L1148.9,591.0 L1150.5,591.9 L1152.1,592.8 L1153.7,593.7 L1155.3,594.6 L1157.0,595.5 L1158.7,596.3 L1160.7,597.2 L1162.8,598.1 L1164.9,598.9 L1167.1,599.7 L1169.4,600.5 L1171.7,601.3 L1174.1,602.0 L1176.5,602.7 L1178.9,603.4 L1181.4,604.1 L1183.9,604.7 L1186.4,605.4 L1188.9,606.0 L1191.4,606.6 L1194.0,607.3 L1196.5,607.9 L1199.1,608.5 L1201.6,609.1 L1204.1,609.7 L1206.6,610.3 L1209.1,610.8 L1211.6,611.3 L1214.1,611.8 L1216.6,612.3 L1219.2,612.8 L1221.8,613.2 L1224.5,613.7 L1227.2,614.1 L1230.1,614.5 L1233.0,615.0 L1236.1,615.4 L1239.2,615.7 L1244.2,616.3 L1249.5,616.8 L1255.1,617.2 L1260.9,617.6 L1266.9,618.0 L1273.1,618.3 L1279.5,618.7 L1286.0,618.9 L1292.5,619.2 L1299.1,619.5 L1305.8,619.7 L1312.4,620.0 L1319.0,620.3 L1325.6,620.6 L1332.0,620.9 L1338.3,621.2 L1398.2,624.3" fill="none"/>
</defs>
<g>
<path d="M144.0,21.5 L147.5,21.5 L151.0,21.5 L154.5,21.5 L158.1,21.5 L161.6,21.5 L165.1,21.5 L168.7,21.5 L172.2,21.5 L175.7,21.5 L179.2,21.6 L182.7,21.6 L186.2,21.6 L189.7,21.7 L193.2,21.7 L196.6,21.8 L200.0,21.9 L203.2,22.0 L206.4,22.1 L209.6,22.2 L212.8,22.3 L215.9,22.4 L219.0,22.5 L222.1,22.7 L225.3,22.8 L228.4,23.0 L231.5,23.1 L234.6,23.3 L237.7,23.6 L240.8,23.8 L243.9,24.1 L247.0,24.5 L250.1,24.8 L253.3,25.3 L256.6,25.7 L259.8,26.3 L263.1,26.8 L266.5,27.4 L269.8,28.0 L273.1,28.6 L276.4,29.3 L279.6,30.0 L282.8,30.7 L286.0,31.3 L289.0,32.0 L292.0,32.7 L294.9,33.4 L297.7,34.1 L300.3,34.8 L302.1,35.3 L303.9,35.7 L305.6,36.1 L307.2,36.6 L308.9,37.0 L310.4,37.4 L312.0,37.8 L313.5,38.3 L315.0,38.8 L316.5,39.2 L318.0,39.7 L319.5,40.3 L321.0,40.8 L322.5,41.4 L324.0,42.1 L325.6,42.8 L327.2,43.6 L328.9,44.4 L330.5,45.3 L332.1,46.2 L333.7,47.2 L335.3,48.2 L336.9,49.2 L338.5,50.2 L340.1,51.3 L341.7,52.3 L343.2,53.4 L344.8,54.5 L346.3,55.6 L347.8,56.7 L349.3,57.8 L350.8,58.9 L352.3,59.9 L353.7,61.0 L355.2,62.1 L356.6,63.2 L358.0,64.3 L359.4,65.5 L360.7,66.6 L362.1,67.7 L363.5,68.9 L364.8,70.0 L366.2,71.2 L367.5,72.3 L368.9,73.5 L370.2,74.6 L371.6,75.7 L373.0,76.8 L371.0,79.2 L369.7,78.0 L368.3,76.9 L367.0,75.7 L365.6,74.6 L364.3,73.4 L362.9,72.3 L361.6,71.1 L360.2,70.0 L358.9,68.8 L357.5,67.7 L356.1,66.6 L354.8,65.5 L353.4,64.4 L352.0,63.3 L350.6,62.2 L349.2,61.1 L347.7,60.1 L346.2,59.0 L344.7,57.9 L343.2,56.8 L341.6,55.7 L340.1,54.6 L338.6,53.6 L337.0,52.5 L335.4,51.5 L333.9,50.5 L332.3,49.5 L330.7,48.6 L329.2,47.7 L327.6,46.8 L326.0,46.0 L324.4,45.2 L323.0,44.5 L321.5,43.9 L320.0,43.3 L318.6,42.7 L317.2,42.2 L315.7,41.7 L314.3,41.2 L312.8,40.8 L311.3,40.3 L309.8,39.9 L308.2,39.5 L306.6,39.0 L305.0,38.6 L303.3,38.1 L301.5,37.7 L299.7,37.2 L297.1,36.5 L294.3,35.8 L291.4,35.1 L288.5,34.4 L285.4,33.7 L282.3,33.0 L279.1,32.3 L275.9,31.7 L272.6,31.0 L269.3,30.4 L266.0,29.7 L262.7,29.1 L259.5,28.6 L256.2,28.1 L253.0,27.6 L249.9,27.2 L246.8,26.8 L243.7,26.4 L240.6,26.1 L237.5,25.9 L234.4,25.6 L231.3,25.4 L228.2,25.2 L225.2,25.0 L222.0,24.9 L218.9,24.8 L215.8,24.6 L212.7,24.5 L209.5,24.4 L206.4,24.3 L203.2,24.2 L200.0,24.1 L196.6,24.0 L193.1,23.9 L189.7,23.8 L186.2,23.7 L182.7,23.7 L179.2,23.7 L175.7,23.6 L172.2,23.6 L168.7,23.6 L165.1,23.6 L161.6,23.6 L158.1,23.6 L154.5,23.6 L151.0,23.6 L147.5,23.5 L144.0,23.5Z" fill="#185fbe"/>
<path d="M34.0,55.0 L41.3,55.1 L48.6,55.2 L55.9,55.3 L63.2,55.4 L70.6,55.6 L77.9,55.7 L85.2,55.8 L92.6,55.9 L99.9,56.0 L107.1,56.1 L114.4,56.2 L121.6,56.3 L128.8,56.5 L135.9,56.6 L143.0,56.7 L150.0,56.9 L156.5,57.0 L163.1,57.2 L169.7,57.3 L176.4,57.5 L183.0,57.6 L189.6,57.7 L196.1,57.9 L202.6,58.0 L209.1,58.2 L215.4,58.4 L221.6,58.6 L227.6,58.8 L233.5,59.0 L239.3,59.2 L244.8,59.5 L250.1,59.8 L253.7,60.0 L257.2,60.2 L260.5,60.5 L263.8,60.7 L267.0,61.0 L270.1,61.2 L273.2,61.5 L276.2,61.7 L279.2,62.0 L282.1,62.3 L285.1,62.6 L288.1,62.9 L291.0,63.2 L294.0,63.5 L297.1,63.9 L300.1,64.2 L303.3,64.6 L306.6,64.9 L309.8,65.3 L313.2,65.7 L316.5,66.1 L319.8,66.6 L323.2,67.0 L326.5,67.4 L329.7,67.9 L333.0,68.3 L336.1,68.8 L339.2,69.2 L342.1,69.7 L345.0,70.2 L347.7,70.6 L350.3,71.1 L351.9,71.4 L353.5,71.8 L355.0,72.1 L356.5,72.4 L357.9,72.8 L359.3,73.1 L360.6,73.5 L362.0,73.8 L363.3,74.2 L364.5,74.5 L365.8,74.8 L367.1,75.2 L368.4,75.5 L369.7,75.9 L371.0,76.2 L372.4,76.5 L371.6,79.5 L370.3,79.1 L368.9,78.7 L367.6,78.4 L366.3,78.0 L365.0,77.7 L363.8,77.3 L362.5,77.0 L361.2,76.6 L359.9,76.3 L358.6,75.9 L357.2,75.6 L355.8,75.2 L354.4,74.9 L352.9,74.5 L351.3,74.2 L349.7,73.9 L347.2,73.4 L344.5,72.9 L341.7,72.4 L338.7,71.9 L335.7,71.5 L332.6,71.0 L329.4,70.5 L326.1,70.1 L322.8,69.6 L319.5,69.2 L316.2,68.8 L312.8,68.4 L309.5,67.9 L306.2,67.5 L303.0,67.2 L299.9,66.8 L296.8,66.4 L293.7,66.1 L290.7,65.7 L287.8,65.4 L284.8,65.1 L281.9,64.8 L278.9,64.5 L276.0,64.2 L273.0,63.9 L269.9,63.7 L266.8,63.4 L263.6,63.1 L260.4,62.9 L257.0,62.7 L253.5,62.4 L249.9,62.2 L244.6,61.9 L239.1,61.6 L233.4,61.4 L227.6,61.1 L221.5,60.9 L215.3,60.7 L209.0,60.5 L202.6,60.3 L196.1,60.2 L189.5,60.0 L182.9,59.9 L176.3,59.7 L169.7,59.6 L163.1,59.4 L156.5,59.3 L150.0,59.1 L143.0,58.9 L135.9,58.8 L128.8,58.6 L121.6,58.5 L114.4,58.3 L107.1,58.2 L99.8,58.1 L92.5,58.0 L85.2,57.8 L77.9,57.7 L70.5,57.6 L63.2,57.5 L55.9,57.4 L48.5,57.3 L41.2,57.1 L34.0,57.0Z" fill="#185fbe"/>
<path d="M159.0,92.0 L164.7,91.8 L170.5,91.6 L176.4,91.4 L182.4,91.2 L188.3,91.0 L194.3,90.8 L200.2,90.7 L206.2,90.5 L212.0,90.3 L217.8,90.1 L223.5,89.9 L229.1,89.7 L234.6,89.5 L239.9,89.3 L245.0,89.1 L250.0,88.9 L253.5,88.7 L256.9,88.6 L260.3,88.4 L263.5,88.3 L266.7,88.2 L269.8,88.0 L272.9,87.9 L275.9,87.8 L278.9,87.6 L281.9,87.5 L284.8,87.3 L287.8,87.1 L290.8,86.9 L293.8,86.7 L296.8,86.5 L299.9,86.3 L303.1,86.0 L306.3,85.7 L309.6,85.4 L312.9,85.1 L316.2,84.7 L319.5,84.4 L322.8,84.0 L326.1,83.7 L329.4,83.3 L332.6,82.9 L335.7,82.5 L338.8,82.2 L341.7,81.8 L344.5,81.4 L347.2,81.0 L349.8,80.6 L351.4,80.4 L353.0,80.1 L354.5,79.9 L355.9,79.6 L357.3,79.4 L358.7,79.1 L360.0,78.9 L361.3,78.6 L362.6,78.3 L363.9,78.1 L365.1,77.8 L366.4,77.6 L367.7,77.3 L369.0,77.0 L370.4,76.8 L371.7,76.5 L372.3,79.5 L370.9,79.7 L369.6,80.0 L368.3,80.2 L367.0,80.4 L365.7,80.7 L364.4,80.9 L363.1,81.2 L361.8,81.4 L360.5,81.7 L359.2,81.9 L357.8,82.2 L356.4,82.4 L354.9,82.6 L353.4,82.9 L351.8,83.1 L350.2,83.4 L347.6,83.7 L344.9,84.1 L342.1,84.5 L339.1,84.8 L336.0,85.2 L332.9,85.6 L329.7,85.9 L326.4,86.3 L323.1,86.6 L319.8,87.0 L316.4,87.3 L313.1,87.6 L309.8,87.9 L306.5,88.2 L303.3,88.5 L300.1,88.7 L297.0,89.0 L293.9,89.2 L290.9,89.4 L287.9,89.6 L284.9,89.7 L282.0,89.9 L279.0,90.0 L276.0,90.1 L273.0,90.3 L269.9,90.4 L266.8,90.5 L263.6,90.6 L260.3,90.7 L257.0,90.9 L253.6,91.0 L250.0,91.1 L245.1,91.3 L240.0,91.5 L234.7,91.7 L229.2,91.9 L223.6,92.1 L217.9,92.2 L212.1,92.4 L206.2,92.6 L200.3,92.8 L194.3,92.9 L188.4,93.1 L182.4,93.3 L176.5,93.5 L170.6,93.6 L164.8,93.8 L159.0,94.0Z" fill="#185fbe"/>
<path d="M112.0,132.0 L117.5,131.8 L123.1,131.6 L128.8,131.5 L134.6,131.3 L140.3,131.1 L146.1,131.0 L151.8,130.8 L157.5,130.6 L163.2,130.4 L168.8,130.3 L174.3,130.1 L179.7,129.9 L185.0,129.6 L190.1,129.4 L195.1,129.2 L199.9,128.9 L203.4,128.7 L206.9,128.5 L210.2,128.3 L213.4,128.1 L216.6,127.9 L219.7,127.7 L222.8,127.5 L225.8,127.2 L228.8,127.0 L231.8,126.7 L234.8,126.5 L237.7,126.2 L240.7,125.9 L243.7,125.5 L246.8,125.2 L249.9,124.8 L253.0,124.4 L256.1,124.0 L259.3,123.6 L262.4,123.3 L265.5,122.9 L268.7,122.4 L271.8,122.0 L274.9,121.5 L278.1,121.1 L281.2,120.5 L284.3,119.9 L287.4,119.3 L290.5,118.7 L293.5,117.9 L296.6,117.1 L299.6,116.3 L302.8,115.3 L306.1,114.2 L309.4,113.1 L312.7,111.9 L316.0,110.6 L319.4,109.3 L322.7,108.0 L326.0,106.6 L329.2,105.1 L332.4,103.7 L335.5,102.2 L338.5,100.7 L341.4,99.2 L344.2,97.7 L346.8,96.3 L349.3,94.8 L350.9,93.8 L352.5,92.7 L354.0,91.6 L355.5,90.5 L356.9,89.4 L358.2,88.3 L359.5,87.2 L360.8,86.0 L362.0,84.9 L363.3,83.8 L364.5,82.6 L365.8,81.5 L367.1,80.3 L368.4,79.1 L369.7,78.0 L371.0,76.8 L373.0,79.2 L371.6,80.3 L370.3,81.4 L369.0,82.5 L367.8,83.6 L366.5,84.8 L365.3,85.9 L364.0,87.1 L362.7,88.2 L361.4,89.4 L360.0,90.5 L358.6,91.6 L357.2,92.8 L355.7,93.9 L354.1,95.0 L352.5,96.1 L350.7,97.2 L348.2,98.7 L345.5,100.2 L342.7,101.7 L339.8,103.2 L336.7,104.7 L333.6,106.2 L330.3,107.6 L327.1,109.0 L323.7,110.4 L320.4,111.8 L317.0,113.1 L313.6,114.4 L310.2,115.6 L306.9,116.7 L303.6,117.8 L300.4,118.7 L297.3,119.6 L294.1,120.4 L291.0,121.2 L287.9,121.8 L284.7,122.4 L281.6,123.0 L278.5,123.5 L275.3,124.0 L272.2,124.5 L269.0,124.9 L265.9,125.3 L262.7,125.7 L259.6,126.1 L256.4,126.4 L253.3,126.8 L250.1,127.2 L247.0,127.6 L244.0,127.9 L241.0,128.2 L238.0,128.5 L235.0,128.8 L232.0,129.0 L229.0,129.3 L226.0,129.5 L222.9,129.7 L219.9,129.9 L216.7,130.1 L213.6,130.3 L210.3,130.5 L207.0,130.7 L203.6,130.9 L200.1,131.1 L195.2,131.4 L190.2,131.6 L185.1,131.8 L179.8,132.0 L174.4,132.2 L168.9,132.4 L163.2,132.5 L157.6,132.7 L151.9,132.9 L146.1,133.0 L140.4,133.2 L134.6,133.3 L128.9,133.5 L123.2,133.7 L117.6,133.8 L112.0,134.0Z" fill="#185fbe"/>
<path d="M111.0,152.0 L116.6,152.1 L122.3,152.2 L128.1,152.3 L133.9,152.4 L139.7,152.4 L145.5,152.5 L151.3,152.5 L157.1,152.6 L162.9,152.7 L168.5,152.8 L174.1,152.9 L179.6,153.1 L184.9,153.2 L190.1,153.4 L195.2,153.6 L200.1,153.9 L203.6,154.1 L207.0,154.3 L210.4,154.6 L213.6,154.8 L216.8,155.0 L219.9,155.3 L223.0,155.5 L226.0,155.8 L229.1,156.1 L232.0,156.4 L235.0,156.7 L238.0,157.1 L241.0,157.5 L244.0,157.9 L247.1,158.3 L250.2,158.8 L253.3,159.3 L256.5,159.8 L259.7,160.3 L262.9,160.8 L266.1,161.4 L269.3,161.9 L272.6,162.5 L275.8,163.1 L279.0,163.8 L282.1,164.5 L285.3,165.2 L288.4,166.0 L291.5,166.9 L294.5,167.8 L297.5,168.7 L300.5,169.8 L303.2,170.8 L306.0,172.0 L308.7,173.2 L311.5,174.4 L314.2,175.8 L316.9,177.1 L319.6,178.5 L322.2,180.0 L324.8,181.4 L327.4,182.9 L329.8,184.3 L332.2,185.8 L334.5,187.2 L336.7,188.6 L338.8,190.0 L340.8,191.3 L342.1,192.3 L343.4,193.2 L344.6,194.1 L345.8,195.1 L346.9,196.0 L348.0,196.9 L349.0,197.8 L350.0,198.7 L351.0,199.6 L352.0,200.5 L353.0,201.4 L354.0,202.3 L354.9,203.2 L355.9,204.1 L356.9,205.0 L358.0,205.9 L356.0,208.1 L355.0,207.2 L353.9,206.3 L352.9,205.4 L352.0,204.5 L351.0,203.6 L350.0,202.7 L349.1,201.8 L348.1,200.9 L347.1,200.0 L346.1,199.1 L345.1,198.2 L344.0,197.3 L342.9,196.4 L341.7,195.5 L340.5,194.6 L339.2,193.7 L337.2,192.3 L335.2,190.9 L333.0,189.5 L330.7,188.1 L328.4,186.7 L326.0,185.2 L323.5,183.8 L320.9,182.3 L318.3,180.9 L315.7,179.5 L313.0,178.1 L310.4,176.8 L307.6,175.6 L304.9,174.4 L302.2,173.3 L299.5,172.2 L296.7,171.2 L293.7,170.2 L290.8,169.3 L287.7,168.5 L284.7,167.7 L281.6,167.0 L278.4,166.3 L275.3,165.6 L272.1,165.0 L268.9,164.4 L265.7,163.8 L262.5,163.3 L259.3,162.7 L256.1,162.2 L253.0,161.7 L249.8,161.2 L246.7,160.7 L243.7,160.2 L240.7,159.8 L237.7,159.4 L234.8,159.1 L231.8,158.7 L228.8,158.4 L225.8,158.1 L222.8,157.8 L219.7,157.5 L216.6,157.3 L213.4,157.0 L210.2,156.8 L206.9,156.6 L203.5,156.3 L199.9,156.1 L195.1,155.8 L190.1,155.6 L184.9,155.4 L179.5,155.2 L174.1,155.1 L168.5,154.9 L162.8,154.8 L157.1,154.7 L151.3,154.6 L145.5,154.6 L139.7,154.5 L133.8,154.4 L128.0,154.3 L122.3,154.2 L116.6,154.1 L111.0,154.0Z" fill="#185fbe"/>
<path d="M71.0,187.0 L79.1,187.0 L87.2,187.1 L95.4,187.1 L103.6,187.1 L111.9,187.1 L120.1,187.1 L128.3,187.1 L136.5,187.1 L144.7,187.1 L152.8,187.2 L160.9,187.2 L168.9,187.3 L176.8,187.4 L184.7,187.5 L192.4,187.7 L200.0,187.9 L206.7,188.1 L213.5,188.3 L220.2,188.4 L227.0,188.7 L233.8,188.9 L240.5,189.1 L247.1,189.3 L253.7,189.6 L260.1,189.9 L266.5,190.2 L272.6,190.6 L278.6,190.9 L284.3,191.3 L289.9,191.8 L295.1,192.2 L300.1,192.8 L303.2,193.1 L306.2,193.5 L309.1,193.8 L311.9,194.2 L314.6,194.6 L317.3,195.0 L319.9,195.4 L322.5,195.9 L324.9,196.3 L327.3,196.8 L329.7,197.2 L331.9,197.7 L334.1,198.2 L336.3,198.7 L338.3,199.2 L340.3,199.7 L341.6,200.0 L342.9,200.4 L344.1,200.7 L345.2,201.1 L346.3,201.5 L347.4,201.8 L348.5,202.2 L349.5,202.6 L350.5,203.0 L351.5,203.4 L352.5,203.7 L353.5,204.1 L354.5,204.5 L355.5,204.9 L356.5,205.2 L357.5,205.6 L356.5,208.4 L355.4,208.0 L354.4,207.6 L353.4,207.2 L352.4,206.8 L351.4,206.4 L350.4,206.1 L349.5,205.7 L348.5,205.3 L347.5,204.9 L346.5,204.5 L345.4,204.1 L344.3,203.8 L343.2,203.4 L342.1,203.0 L340.9,202.7 L339.7,202.3 L337.7,201.8 L335.6,201.3 L333.5,200.8 L331.4,200.3 L329.1,199.8 L326.8,199.4 L324.5,198.9 L322.0,198.5 L319.5,198.0 L316.9,197.6 L314.3,197.2 L311.5,196.8 L308.7,196.4 L305.8,196.0 L302.9,195.6 L299.9,195.2 L294.9,194.7 L289.7,194.2 L284.2,193.8 L278.4,193.4 L272.5,193.0 L266.3,192.6 L260.0,192.3 L253.6,192.0 L247.0,191.7 L240.4,191.4 L233.7,191.2 L226.9,191.0 L220.2,190.7 L213.4,190.5 L206.7,190.3 L200.0,190.1 L192.4,189.9 L184.6,189.7 L176.8,189.6 L168.9,189.5 L160.9,189.4 L152.8,189.3 L144.7,189.3 L136.5,189.3 L128.3,189.2 L120.1,189.2 L111.9,189.2 L103.6,189.2 L95.4,189.1 L87.2,189.1 L79.1,189.1 L71.0,189.0Z" fill="#185fbe"/>
<path d="M8.0,227.0 L13.7,227.0 L19.5,227.0 L25.2,227.0 L30.9,227.1 L36.6,227.1 L42.3,227.1 L48.1,227.1 L53.8,227.2 L59.5,227.2 L65.2,227.2 L71.0,227.2 L76.7,227.2 L82.5,227.1 L88.3,227.1 L94.1,227.0 L100.0,226.9 L106.1,226.7 L112.3,226.6 L118.5,226.4 L124.7,226.2 L130.9,226.1 L137.2,225.8 L143.4,225.6 L149.7,225.4 L156.0,225.1 L162.3,224.8 L168.6,224.5 L174.9,224.2 L181.1,223.9 L187.4,223.5 L193.7,223.2 L199.9,222.8 L206.2,222.3 L212.6,221.9 L219.1,221.4 L225.6,220.9 L232.1,220.3 L238.6,219.8 L245.2,219.2 L251.6,218.6 L258.1,218.0 L264.4,217.4 L270.7,216.8 L276.8,216.2 L282.9,215.5 L288.7,214.9 L294.4,214.3 L299.8,213.6 L303.8,213.2 L307.7,212.7 L311.5,212.2 L315.2,211.7 L318.8,211.2 L322.4,210.7 L325.8,210.2 L329.3,209.6 L332.7,209.1 L336.1,208.6 L339.5,208.1 L342.9,207.6 L346.3,207.1 L349.8,206.5 L353.3,206.0 L356.8,205.5 L357.2,208.5 L353.7,209.0 L350.2,209.5 L346.8,210.0 L343.3,210.5 L339.9,211.0 L336.5,211.5 L333.1,212.0 L329.7,212.5 L326.3,213.0 L322.8,213.5 L319.2,214.0 L315.6,214.5 L311.9,214.9 L308.1,215.4 L304.2,215.9 L300.2,216.4 L294.7,217.0 L289.0,217.6 L283.1,218.2 L277.1,218.8 L271.0,219.4 L264.7,220.0 L258.3,220.6 L251.9,221.2 L245.4,221.8 L238.9,222.4 L232.3,222.9 L225.8,223.4 L219.3,223.9 L212.8,224.4 L206.4,224.8 L200.1,225.2 L193.8,225.6 L187.6,226.0 L181.3,226.3 L175.0,226.7 L168.7,227.0 L162.4,227.2 L156.1,227.5 L149.8,227.8 L143.5,228.0 L137.2,228.2 L131.0,228.4 L124.7,228.6 L118.5,228.7 L112.3,228.9 L106.2,229.0 L100.0,229.1 L94.2,229.2 L88.3,229.3 L82.5,229.3 L76.7,229.4 L71.0,229.4 L65.2,229.4 L59.5,229.3 L53.8,229.3 L48.0,229.3 L42.3,229.2 L36.6,229.2 L30.9,229.1 L25.2,229.1 L19.5,229.0 L13.7,229.0 L8.0,229.0Z" fill="#185fbe"/>
<path d="M95.0,260.0 L98.4,259.9 L101.9,259.9 L105.3,259.8 L108.8,259.8 L112.3,259.7 L115.7,259.7 L119.2,259.6 L122.7,259.6 L126.1,259.5 L129.6,259.5 L133.0,259.4 L136.4,259.3 L139.8,259.3 L143.2,259.2 L146.6,259.0 L150.0,258.9 L153.1,258.8 L156.3,258.7 L159.5,258.5 L162.6,258.4 L165.8,258.2 L168.9,258.1 L172.0,257.9 L175.1,257.7 L178.2,257.6 L181.3,257.4 L184.4,257.2 L187.5,256.9 L190.6,256.7 L193.7,256.4 L196.8,256.1 L199.9,255.8 L203.0,255.5 L206.1,255.2 L209.3,254.9 L212.4,254.5 L215.5,254.2 L218.7,253.8 L221.8,253.4 L224.9,253.0 L228.0,252.6 L231.1,252.2 L234.3,251.7 L237.4,251.2 L240.5,250.6 L243.6,250.1 L246.6,249.4 L249.7,248.8 L252.9,248.1 L256.1,247.3 L259.2,246.6 L262.4,245.8 L265.6,244.9 L268.8,244.1 L272.0,243.2 L275.1,242.2 L278.3,241.3 L281.4,240.3 L284.5,239.3 L287.6,238.2 L290.6,237.2 L293.6,236.1 L296.6,234.9 L299.5,233.8 L302.2,232.6 L304.8,231.4 L307.5,230.1 L310.2,228.7 L312.9,227.3 L315.5,225.9 L318.1,224.4 L320.7,223.0 L323.3,221.5 L325.8,220.1 L328.2,218.7 L330.6,217.3 L332.9,216.0 L335.2,214.8 L337.3,213.7 L339.4,212.7 L340.7,212.1 L341.9,211.6 L343.0,211.1 L344.2,210.6 L345.2,210.1 L346.3,209.7 L347.4,209.2 L348.4,208.8 L349.4,208.4 L350.4,208.0 L351.4,207.6 L352.4,207.3 L353.4,206.9 L354.4,206.5 L355.4,206.0 L356.4,205.6 L357.6,208.4 L356.5,208.8 L355.5,209.2 L354.5,209.6 L353.4,210.0 L352.4,210.4 L351.4,210.8 L350.5,211.2 L349.4,211.5 L348.4,211.9 L347.4,212.4 L346.4,212.8 L345.3,213.2 L344.2,213.7 L343.0,214.2 L341.8,214.7 L340.6,215.3 L338.6,216.3 L336.5,217.3 L334.3,218.5 L332.0,219.8 L329.6,221.1 L327.2,222.5 L324.6,223.9 L322.1,225.4 L319.5,226.8 L316.8,228.3 L314.2,229.7 L311.4,231.1 L308.7,232.5 L306.0,233.8 L303.2,235.1 L300.5,236.2 L297.6,237.4 L294.6,238.5 L291.5,239.7 L288.5,240.7 L285.4,241.8 L282.2,242.8 L279.1,243.8 L275.9,244.7 L272.7,245.6 L269.5,246.5 L266.3,247.4 L263.0,248.2 L259.8,249.0 L256.6,249.8 L253.4,250.5 L250.3,251.2 L247.1,251.9 L244.0,252.5 L240.9,253.1 L237.8,253.6 L234.6,254.1 L231.5,254.6 L228.4,255.0 L225.2,255.4 L222.1,255.8 L218.9,256.2 L215.8,256.6 L212.7,256.9 L209.5,257.2 L206.4,257.5 L203.2,257.9 L200.1,258.2 L197.0,258.5 L193.9,258.7 L190.8,259.0 L187.7,259.2 L184.5,259.4 L181.4,259.6 L178.3,259.8 L175.2,260.0 L172.1,260.2 L169.0,260.3 L165.9,260.5 L162.7,260.6 L159.6,260.7 L156.4,260.8 L153.2,261.0 L150.0,261.1 L146.7,261.2 L143.3,261.3 L139.9,261.4 L136.5,261.5 L133.0,261.5 L129.6,261.6 L126.1,261.6 L122.7,261.7 L119.2,261.7 L115.8,261.8 L112.3,261.8 L108.8,261.8 L105.4,261.9 L101.9,261.9 L98.5,261.9 L95.0,262.0Z" fill="#185fbe"/>
<path d="M372.0,76.7 L373.1,76.7 L374.2,76.7 L375.3,76.7 L376.4,76.6 L377.5,76.6 L378.6,76.6 L379.8,76.5 L380.9,76.5 L382.0,76.5 L383.1,76.5 L384.3,76.5 L385.4,76.5 L386.6,76.5 L387.7,76.5 L388.9,76.6 L390.1,76.7 L391.4,76.8 L392.7,76.8 L394.1,76.9 L395.5,77.0 L396.8,77.1 L398.2,77.2 L399.6,77.3 L401.1,77.5 L402.5,77.6 L403.9,77.8 L405.3,78.0 L406.8,78.3 L408.2,78.6 L409.6,78.9 L411.0,79.3 L412.4,79.7 L413.9,80.2 L415.4,80.7 L416.9,81.3 L418.4,81.9 L419.9,82.6 L421.4,83.3 L422.9,84.0 L424.4,84.8 L425.9,85.6 L427.4,86.4 L428.8,87.3 L430.3,88.2 L431.7,89.1 L433.1,90.0 L434.5,90.9 L435.8,91.9 L437.2,92.9 L438.6,93.9 L440.0,95.0 L441.4,96.2 L442.7,97.4 L444.1,98.6 L445.4,99.8 L446.8,101.0 L448.1,102.3 L449.3,103.6 L450.5,104.8 L451.7,106.1 L452.9,107.4 L454.0,108.6 L455.1,109.9 L456.1,111.1 L456.9,112.1 L457.7,113.1 L458.5,114.1 L459.2,115.2 L459.9,116.2 L460.6,117.2 L461.2,118.2 L461.8,119.3 L462.4,120.3 L463.0,121.3 L463.6,122.3 L464.2,123.3 L464.7,124.3 L465.2,125.3 L465.8,126.3 L466.3,127.3 L466.8,128.2 L467.2,129.1 L467.6,130.0 L468.0,130.9 L468.4,131.8 L468.8,132.7 L469.2,133.6 L469.6,134.5 L469.9,135.3 L470.3,136.2 L470.6,137.1 L471.0,138.0 L471.3,138.8 L471.7,139.7 L472.0,140.5 L472.4,141.4 L469.6,142.6 L469.2,141.7 L468.9,140.8 L468.5,139.9 L468.2,139.1 L467.8,138.2 L467.5,137.3 L467.1,136.4 L466.8,135.6 L466.5,134.7 L466.1,133.9 L465.7,133.0 L465.4,132.1 L465.0,131.3 L464.6,130.4 L464.1,129.5 L463.7,128.7 L463.2,127.7 L462.7,126.7 L462.1,125.7 L461.6,124.7 L461.1,123.7 L460.5,122.7 L459.9,121.8 L459.3,120.8 L458.7,119.8 L458.1,118.8 L457.5,117.8 L456.8,116.8 L456.1,115.8 L455.4,114.9 L454.7,113.9 L453.9,112.9 L452.9,111.7 L451.9,110.5 L450.8,109.3 L449.7,108.0 L448.5,106.8 L447.3,105.5 L446.1,104.3 L444.8,103.1 L443.5,101.9 L442.2,100.7 L440.9,99.5 L439.6,98.3 L438.2,97.2 L436.9,96.2 L435.5,95.1 L434.2,94.1 L432.9,93.2 L431.5,92.3 L430.2,91.4 L428.8,90.5 L427.4,89.7 L426.0,88.8 L424.6,88.0 L423.1,87.3 L421.7,86.5 L420.2,85.8 L418.8,85.1 L417.3,84.5 L415.9,83.9 L414.5,83.3 L413.0,82.8 L411.6,82.3 L410.3,81.9 L408.9,81.6 L407.6,81.2 L406.2,81.0 L404.9,80.7 L403.5,80.5 L402.1,80.3 L400.8,80.2 L399.4,80.0 L398.0,79.9 L396.6,79.8 L395.3,79.7 L393.9,79.6 L392.6,79.5 L391.2,79.4 L389.9,79.3 L388.8,79.3 L387.6,79.2 L386.5,79.2 L385.4,79.1 L384.2,79.1 L383.1,79.1 L382.0,79.1 L380.9,79.2 L379.8,79.2 L378.7,79.2 L377.6,79.2 L376.5,79.2 L375.4,79.3 L374.3,79.3 L373.1,79.3 L372.0,79.3Z" fill="#185fbe"/>
<path d="M356.9,205.7 L358.7,205.6 L360.4,205.5 L362.2,205.4 L363.9,205.3 L365.7,205.2 L367.4,205.1 L369.1,205.0 L370.9,204.9 L372.6,204.8 L374.4,204.7 L376.1,204.6 L377.8,204.4 L379.6,204.3 L381.3,204.1 L383.1,203.9 L384.8,203.7 L386.7,203.4 L388.6,203.2 L390.4,202.9 L392.3,202.6 L394.2,202.3 L396.1,202.0 L398.0,201.7 L399.9,201.3 L401.8,201.0 L403.7,200.6 L405.6,200.2 L407.4,199.7 L409.3,199.3 L411.1,198.8 L412.8,198.3 L414.6,197.7 L416.2,197.1 L417.9,196.5 L419.5,195.9 L421.1,195.3 L422.8,194.6 L424.4,193.9 L426.0,193.2 L427.5,192.4 L429.1,191.7 L430.6,190.9 L432.1,190.1 L433.6,189.3 L435.1,188.4 L436.5,187.6 L437.9,186.7 L439.2,185.8 L440.4,185.0 L441.6,184.2 L442.8,183.3 L443.9,182.5 L445.1,181.6 L446.2,180.7 L447.3,179.8 L448.3,178.8 L449.4,177.9 L450.4,176.9 L451.4,176.0 L452.4,175.0 L453.3,174.0 L454.2,173.0 L455.1,172.1 L455.9,171.1 L456.6,170.2 L457.3,169.3 L457.9,168.5 L458.5,167.6 L459.1,166.7 L459.7,165.8 L460.3,164.8 L460.8,163.9 L461.4,163.0 L461.9,162.1 L462.4,161.1 L462.8,160.2 L463.3,159.2 L463.8,158.3 L464.2,157.3 L464.7,156.4 L465.1,155.5 L465.4,154.6 L465.8,153.7 L466.1,152.8 L466.4,151.9 L466.7,151.0 L467.0,150.0 L467.3,149.1 L467.6,148.2 L467.9,147.2 L468.1,146.3 L468.4,145.3 L468.7,144.4 L469.0,143.4 L469.3,142.5 L469.6,141.5 L472.4,142.5 L472.1,143.4 L471.8,144.3 L471.5,145.3 L471.3,146.2 L471.0,147.1 L470.7,148.1 L470.4,149.0 L470.1,150.0 L469.8,150.9 L469.5,151.9 L469.2,152.8 L468.9,153.8 L468.5,154.8 L468.2,155.7 L467.8,156.7 L467.3,157.6 L466.9,158.6 L466.4,159.6 L465.9,160.5 L465.5,161.5 L464.9,162.5 L464.4,163.4 L463.9,164.4 L463.3,165.4 L462.8,166.3 L462.2,167.3 L461.6,168.3 L460.9,169.2 L460.3,170.1 L459.6,171.1 L458.8,172.0 L458.1,172.9 L457.2,173.9 L456.3,175.0 L455.4,176.0 L454.4,177.0 L453.4,178.0 L452.4,179.0 L451.3,180.0 L450.2,180.9 L449.1,181.9 L448.0,182.9 L446.8,183.8 L445.6,184.7 L444.5,185.6 L443.2,186.5 L442.0,187.3 L440.8,188.2 L439.4,189.1 L437.9,190.0 L436.5,190.8 L435.0,191.7 L433.4,192.5 L431.9,193.4 L430.3,194.2 L428.7,194.9 L427.1,195.7 L425.5,196.4 L423.8,197.1 L422.2,197.8 L420.5,198.5 L418.8,199.1 L417.1,199.7 L415.4,200.3 L413.6,200.9 L411.8,201.4 L409.9,201.9 L408.1,202.4 L406.2,202.8 L404.3,203.2 L402.4,203.6 L400.4,204.0 L398.5,204.3 L396.6,204.7 L394.7,205.0 L392.7,205.3 L390.8,205.5 L388.9,205.8 L387.0,206.1 L385.2,206.3 L383.4,206.5 L381.6,206.7 L379.8,206.9 L378.1,207.1 L376.3,207.2 L374.5,207.3 L372.8,207.4 L371.0,207.5 L369.3,207.6 L367.5,207.7 L365.8,207.8 L364.1,207.9 L362.3,208.0 L360.6,208.1 L358.8,208.2 L357.1,208.3Z" fill="#185fbe"/>
<path d="M471.4,140.6 L473.5,141.1 L475.7,141.6 L477.8,142.1 L479.9,142.6 L482.1,143.0 L484.2,143.5 L486.4,144.0 L488.5,144.5 L490.7,145.0 L492.8,145.5 L495.0,146.1 L497.2,146.6 L499.3,147.2 L501.5,147.8 L503.7,148.5 L505.8,149.1 L508.1,149.9 L510.4,150.7 L512.7,151.5 L515.0,152.4 L517.3,153.3 L519.6,154.2 L521.9,155.1 L524.2,156.1 L526.5,157.0 L528.7,158.0 L530.9,158.9 L533.1,159.9 L535.3,160.8 L537.4,161.8 L539.4,162.7 L541.4,163.6 L543.0,164.2 L544.6,164.9 L546.1,165.5 L547.6,166.2 L549.1,166.8 L550.6,167.4 L552.1,168.1 L553.5,168.7 L555.0,169.4 L556.4,170.1 L557.8,170.8 L559.3,171.5 L560.7,172.3 L562.2,173.1 L563.6,173.9 L565.1,174.8 L566.7,175.7 L568.2,176.7 L569.8,177.7 L571.4,178.7 L572.9,179.8 L574.4,180.8 L575.9,181.9 L577.5,183.0 L579.0,184.2 L580.5,185.4 L582.0,186.5 L583.5,187.7 L585.0,189.0 L586.4,190.2 L587.9,191.5 L589.4,192.7 L591.0,194.2 L592.6,195.7 L594.2,197.3 L595.7,198.9 L597.3,200.5 L598.8,202.1 L600.3,203.7 L601.8,205.3 L603.3,207.0 L604.8,208.6 L606.3,210.2 L607.7,211.8 L609.2,213.4 L610.7,215.0 L612.1,216.6 L613.6,218.1 L615.0,219.7 L616.5,221.3 L618.0,222.9 L619.4,224.6 L620.9,226.2 L622.3,227.8 L623.7,229.4 L625.2,231.0 L626.6,232.5 L628.0,234.1 L629.4,235.6 L630.9,237.1 L632.3,238.6 L633.7,240.1 L635.1,241.5 L636.5,243.0 L637.9,244.3 L639.3,245.7 L640.7,247.0 L642.1,248.4 L643.5,249.7 L644.9,251.0 L646.3,252.3 L647.7,253.6 L649.1,254.8 L650.5,256.1 L651.9,257.3 L653.3,258.5 L654.7,259.8 L656.1,260.9 L657.5,262.1 L658.9,263.3 L660.3,264.4 L661.6,265.5 L662.9,266.5 L664.2,267.6 L665.6,268.6 L666.9,269.7 L668.2,270.7 L669.6,271.7 L670.9,272.7 L672.3,273.7 L673.7,274.7 L675.1,275.7 L676.4,276.7 L677.8,277.7 L679.3,278.7 L680.7,279.7 L682.1,280.7 L683.6,281.6 L685.1,282.6 L686.6,283.6 L688.2,284.6 L689.7,285.6 L691.3,286.6 L692.9,287.5 L694.5,288.5 L696.0,289.5 L697.6,290.4 L699.1,291.4 L700.6,292.3 L702.1,293.2 L703.6,294.0 L705.0,294.9 L706.0,295.5 L707.0,296.1 L708.0,296.7 L708.9,297.3 L709.8,297.9 L710.8,298.4 L711.7,299.0 L712.6,299.5 L713.5,300.0 L714.4,300.6 L715.3,301.1 L716.2,301.6 L717.1,302.2 L718.0,302.7 L718.9,303.3 L719.9,303.9 L710.1,320.1 L709.2,319.6 L708.3,319.1 L707.4,318.5 L706.5,318.0 L705.6,317.4 L704.7,316.9 L703.8,316.4 L702.9,315.8 L701.9,315.3 L701.0,314.7 L700.1,314.1 L699.1,313.6 L698.1,313.0 L697.1,312.4 L696.1,311.7 L695.0,311.1 L693.7,310.3 L692.3,309.4 L690.8,308.5 L689.3,307.6 L687.7,306.7 L686.2,305.7 L684.5,304.7 L682.9,303.7 L681.3,302.7 L679.6,301.7 L678.0,300.6 L676.4,299.6 L674.7,298.5 L673.1,297.5 L671.5,296.4 L669.9,295.3 L668.4,294.3 L666.9,293.3 L665.5,292.2 L664.0,291.2 L662.5,290.1 L661.1,289.1 L659.6,288.0 L658.2,286.9 L656.7,285.8 L655.3,284.7 L653.8,283.6 L652.4,282.5 L651.0,281.3 L649.5,280.1 L648.1,279.0 L646.7,277.7 L645.2,276.4 L643.7,275.1 L642.3,273.7 L640.8,272.4 L639.4,271.0 L637.9,269.6 L636.5,268.2 L635.1,266.8 L633.6,265.3 L632.2,263.9 L630.8,262.5 L629.4,261.0 L628.0,259.5 L626.6,258.0 L625.3,256.5 L623.9,255.0 L622.4,253.4 L621.0,251.8 L619.5,250.1 L618.1,248.4 L616.7,246.7 L615.3,245.1 L614.0,243.4 L612.6,241.7 L611.2,240.0 L609.9,238.3 L608.5,236.6 L607.2,234.9 L605.9,233.2 L604.5,231.6 L603.2,229.9 L601.8,228.3 L600.5,226.6 L599.1,224.8 L597.8,223.0 L596.4,221.3 L595.1,219.5 L593.7,217.8 L592.4,216.1 L591.1,214.3 L589.8,212.6 L588.5,211.0 L587.2,209.3 L585.9,207.7 L584.6,206.1 L583.3,204.6 L581.9,203.1 L580.6,201.7 L579.4,200.3 L578.1,199.0 L576.9,197.6 L575.6,196.3 L574.4,195.0 L573.1,193.8 L571.8,192.5 L570.5,191.3 L569.3,190.1 L568.0,188.9 L566.7,187.7 L565.4,186.6 L564.1,185.4 L562.7,184.3 L561.4,183.3 L560.1,182.2 L558.8,181.3 L557.6,180.4 L556.3,179.6 L555.1,178.8 L553.8,178.0 L552.6,177.2 L551.3,176.4 L550.0,175.6 L548.7,174.9 L547.3,174.1 L545.9,173.4 L544.5,172.6 L543.1,171.8 L541.6,171.1 L540.1,170.3 L538.6,169.4 L536.7,168.5 L534.7,167.5 L532.6,166.5 L530.5,165.4 L528.4,164.4 L526.3,163.4 L524.1,162.4 L521.9,161.3 L519.7,160.3 L517.4,159.3 L515.2,158.3 L513.0,157.4 L510.7,156.5 L508.5,155.6 L506.3,154.7 L504.2,153.9 L502.1,153.1 L500.0,152.3 L498.0,151.6 L495.9,150.9 L493.8,150.3 L491.7,149.6 L489.6,149.0 L487.5,148.4 L485.4,147.8 L483.3,147.2 L481.2,146.6 L479.1,146.0 L477.0,145.3 L474.8,144.7 L472.7,144.1 L470.6,143.4Z" fill="#185fbe"/>
<path d="M327.5,273.0 L329.2,273.1 L331.0,273.1 L332.7,273.1 L334.4,273.1 L336.1,273.2 L337.8,273.2 L339.6,273.2 L341.3,273.2 L343.0,273.2 L344.8,273.3 L346.5,273.3 L348.2,273.4 L349.9,273.5 L351.7,273.6 L353.4,273.8 L355.1,273.9 L356.8,274.1 L358.5,274.3 L360.3,274.5 L362.0,274.6 L363.7,274.8 L365.5,275.0 L367.2,275.3 L369.0,275.5 L370.7,275.8 L372.4,276.1 L374.1,276.5 L375.8,276.8 L377.5,277.3 L379.2,277.8 L380.8,278.3 L382.4,278.9 L384.0,279.6 L385.6,280.3 L387.2,281.0 L388.8,281.9 L390.3,282.7 L391.9,283.6 L393.4,284.5 L394.9,285.5 L396.4,286.5 L397.8,287.5 L399.2,288.6 L400.6,289.6 L402.0,290.7 L403.3,291.8 L404.6,293.0 L405.9,294.1 L407.0,295.2 L408.1,296.4 L409.2,297.5 L410.3,298.7 L411.3,300.0 L412.3,301.2 L413.2,302.5 L414.2,303.7 L415.1,305.0 L416.0,306.3 L416.9,307.7 L417.7,309.0 L418.6,310.3 L419.4,311.6 L420.3,313.0 L421.1,314.3 L422.0,315.7 L422.8,317.1 L423.7,318.5 L424.5,319.9 L425.3,321.3 L426.1,322.8 L426.8,324.2 L427.6,325.7 L428.3,327.2 L429.1,328.6 L429.8,330.1 L430.5,331.6 L431.2,333.0 L431.9,334.5 L432.6,336.0 L433.3,337.4 L433.9,338.8 L434.5,340.2 L435.2,341.6 L435.7,342.9 L436.3,344.3 L436.9,345.7 L437.5,347.1 L438.0,348.5 L438.6,349.8 L439.1,351.2 L439.6,352.6 L440.2,354.0 L440.7,355.3 L441.3,356.7 L441.8,358.1 L442.4,359.4 L439.6,360.6 L439.1,359.2 L438.5,357.8 L438.0,356.4 L437.4,355.0 L436.9,353.7 L436.4,352.3 L435.8,350.9 L435.3,349.5 L434.8,348.2 L434.2,346.8 L433.7,345.4 L433.1,344.1 L432.5,342.7 L431.9,341.3 L431.3,340.0 L430.7,338.6 L430.1,337.2 L429.4,335.7 L428.7,334.3 L428.0,332.8 L427.3,331.3 L426.6,329.9 L425.9,328.4 L425.1,327.0 L424.4,325.5 L423.7,324.1 L422.9,322.6 L422.1,321.2 L421.3,319.8 L420.5,318.4 L419.7,317.1 L418.9,315.7 L418.0,314.4 L417.2,313.0 L416.4,311.7 L415.5,310.4 L414.7,309.1 L413.8,307.8 L413.0,306.5 L412.1,305.2 L411.2,304.0 L410.2,302.8 L409.3,301.6 L408.3,300.4 L407.3,299.2 L406.3,298.1 L405.2,297.0 L404.1,295.9 L402.9,294.8 L401.7,293.7 L400.4,292.6 L399.1,291.6 L397.8,290.5 L396.4,289.5 L395.0,288.5 L393.5,287.5 L392.1,286.6 L390.6,285.7 L389.1,284.8 L387.6,284.0 L386.1,283.2 L384.6,282.4 L383.1,281.7 L381.6,281.1 L380.0,280.5 L378.5,280.0 L376.9,279.5 L375.3,279.1 L373.6,278.7 L372.0,278.3 L370.3,278.0 L368.6,277.7 L366.9,277.5 L365.2,277.2 L363.5,277.0 L361.8,276.8 L360.0,276.6 L358.3,276.5 L356.6,276.3 L354.9,276.1 L353.2,275.9 L351.5,275.8 L349.8,275.6 L348.1,275.5 L346.4,275.4 L344.7,275.4 L343.0,275.3 L341.3,275.3 L339.5,275.3 L337.8,275.2 L336.1,275.2 L334.4,275.2 L332.6,275.1 L330.9,275.1 L329.2,275.1 L327.5,275.0Z" fill="#17922a"/>
<path d="M207.5,294.0 L210.8,294.1 L214.1,294.2 L217.3,294.3 L220.6,294.5 L223.8,294.6 L227.1,294.7 L230.3,294.8 L233.6,294.9 L236.8,295.0 L240.1,295.1 L243.4,295.2 L246.7,295.4 L250.0,295.5 L253.3,295.6 L256.7,295.8 L260.0,295.9 L263.7,296.0 L267.3,296.1 L271.0,296.2 L274.7,296.3 L278.5,296.4 L282.2,296.4 L286.0,296.5 L289.8,296.6 L293.6,296.7 L297.4,296.8 L301.2,297.0 L305.0,297.3 L308.8,297.5 L312.6,297.9 L316.4,298.3 L320.2,298.8 L324.1,299.4 L328.1,300.0 L332.1,300.6 L336.1,301.3 L340.2,302.1 L344.3,302.8 L348.4,303.7 L352.4,304.5 L356.4,305.5 L360.4,306.5 L364.3,307.5 L368.2,308.6 L371.9,309.8 L375.6,311.1 L379.1,312.4 L382.5,313.8 L385.3,315.1 L388.1,316.4 L390.8,317.8 L393.4,319.3 L396.0,320.8 L398.5,322.4 L401.0,324.0 L403.4,325.7 L405.8,327.3 L408.1,329.0 L410.4,330.7 L412.6,332.4 L414.7,334.1 L416.8,335.7 L418.9,337.3 L420.9,338.9 L422.4,340.2 L423.9,341.4 L425.4,342.7 L426.8,343.9 L428.2,345.2 L429.5,346.5 L430.8,347.7 L432.0,349.0 L433.3,350.2 L434.5,351.5 L435.8,352.7 L437.0,354.0 L438.2,355.2 L439.5,356.4 L440.7,357.7 L442.0,358.9 L440.0,361.1 L438.7,359.8 L437.4,358.6 L436.1,357.3 L434.9,356.0 L433.7,354.8 L432.4,353.5 L431.2,352.3 L430.0,351.0 L428.7,349.8 L427.5,348.5 L426.2,347.3 L424.9,346.0 L423.5,344.8 L422.1,343.6 L420.6,342.3 L419.1,341.1 L417.1,339.5 L415.1,337.9 L413.0,336.2 L410.9,334.6 L408.7,332.9 L406.5,331.2 L404.2,329.6 L401.9,327.9 L399.5,326.3 L397.1,324.7 L394.6,323.1 L392.1,321.6 L389.5,320.1 L386.9,318.8 L384.2,317.4 L381.5,316.2 L378.2,314.8 L374.7,313.5 L371.1,312.3 L367.4,311.1 L363.6,310.0 L359.8,308.9 L355.8,307.9 L351.9,307.0 L347.8,306.1 L343.8,305.3 L339.8,304.5 L335.7,303.7 L331.7,303.0 L327.7,302.4 L323.7,301.8 L319.8,301.2 L316.1,300.7 L312.3,300.3 L308.6,299.9 L304.8,299.6 L301.0,299.4 L297.3,299.2 L293.5,299.0 L289.7,298.9 L285.9,298.8 L282.2,298.7 L278.4,298.6 L274.7,298.5 L271.0,298.5 L267.3,298.4 L263.6,298.2 L260.0,298.1 L256.6,297.9 L253.2,297.8 L249.9,297.7 L246.6,297.5 L243.3,297.4 L240.0,297.3 L236.8,297.1 L233.5,297.0 L230.2,296.9 L227.0,296.8 L223.8,296.6 L220.5,296.5 L217.3,296.4 L214.0,296.3 L210.7,296.1 L207.5,296.0Z" fill="#17922a"/>
<path d="M185.5,328.0 L189.5,328.1 L193.6,328.2 L197.6,328.2 L201.6,328.3 L205.6,328.4 L209.6,328.4 L213.6,328.5 L217.6,328.6 L221.6,328.6 L225.6,328.7 L229.7,328.8 L233.7,328.9 L237.8,329.0 L241.8,329.1 L245.9,329.2 L250.0,329.4 L254.3,329.5 L258.6,329.7 L263.0,329.8 L267.3,329.9 L271.6,330.1 L276.0,330.2 L280.4,330.4 L284.7,330.6 L289.1,330.8 L293.5,331.0 L297.9,331.2 L302.4,331.4 L306.8,331.7 L311.2,332.0 L315.7,332.4 L320.1,332.8 L324.8,333.2 L329.5,333.6 L334.3,334.0 L339.2,334.5 L344.1,335.0 L349.0,335.5 L353.9,336.0 L358.7,336.6 L363.6,337.2 L368.4,337.8 L373.1,338.5 L377.8,339.2 L382.4,340.0 L386.8,340.8 L391.1,341.7 L395.3,342.7 L398.6,343.5 L401.7,344.3 L404.8,345.2 L407.8,346.2 L410.8,347.1 L413.7,348.1 L416.5,349.2 L419.3,350.2 L422.1,351.3 L424.8,352.3 L427.6,353.4 L430.3,354.5 L433.1,355.5 L435.9,356.6 L438.7,357.6 L441.5,358.6 L440.5,361.4 L437.6,360.4 L434.8,359.3 L432.0,358.3 L429.3,357.2 L426.5,356.1 L423.8,355.0 L421.0,354.0 L418.3,352.9 L415.5,351.8 L412.7,350.8 L409.8,349.8 L407.0,348.8 L404.0,347.9 L401.0,347.0 L397.9,346.1 L394.7,345.3 L390.6,344.4 L386.3,343.5 L381.9,342.7 L377.4,341.9 L372.7,341.2 L368.0,340.5 L363.2,339.8 L358.4,339.2 L353.6,338.6 L348.7,338.1 L343.8,337.6 L338.9,337.1 L334.1,336.6 L329.3,336.1 L324.5,335.7 L319.9,335.2 L315.5,334.9 L311.0,334.5 L306.6,334.2 L302.2,333.9 L297.8,333.6 L293.4,333.4 L289.0,333.1 L284.6,332.9 L280.3,332.7 L275.9,332.6 L271.6,332.4 L267.2,332.3 L262.9,332.1 L258.6,331.9 L254.3,331.8 L250.0,331.6 L245.9,331.5 L241.8,331.3 L237.7,331.2 L233.7,331.1 L229.6,331.0 L225.6,330.9 L221.6,330.8 L217.6,330.7 L213.6,330.6 L209.6,330.5 L205.5,330.4 L201.5,330.4 L197.5,330.3 L193.5,330.2 L189.5,330.1 L185.5,330.0Z" fill="#17922a"/>
<path d="M219.0,360.0 L225.9,360.0 L232.9,359.9 L239.8,359.9 L246.7,359.8 L253.7,359.8 L260.6,359.7 L267.6,359.7 L274.5,359.6 L281.4,359.6 L288.4,359.5 L295.3,359.5 L302.2,359.4 L309.2,359.4 L316.1,359.3 L323.1,359.3 L330.0,359.3 L336.9,359.2 L343.9,359.2 L350.8,359.1 L357.7,359.1 L364.7,359.0 L371.6,359.0 L378.6,358.9 L385.5,358.9 L392.4,358.8 L399.4,358.8 L406.3,358.7 L413.2,358.7 L420.2,358.6 L427.1,358.6 L434.1,358.5 L441.0,358.5 L441.0,361.5 L434.1,361.5 L427.1,361.5 L420.2,361.5 L413.3,361.6 L406.3,361.6 L399.4,361.6 L392.4,361.6 L385.5,361.6 L378.6,361.6 L371.6,361.7 L364.7,361.7 L357.8,361.7 L350.8,361.7 L343.9,361.7 L336.9,361.7 L330.0,361.7 L323.1,361.8 L316.1,361.8 L309.2,361.8 L302.3,361.8 L295.3,361.8 L288.4,361.8 L281.4,361.9 L274.5,361.9 L267.6,361.9 L260.6,361.9 L253.7,361.9 L246.8,361.9 L239.8,362.0 L232.9,362.0 L225.9,362.0 L219.0,362.0Z" fill="#17922a"/>
<path d="M131.0,404.0 L136.6,403.9 L142.2,403.9 L147.8,403.8 L153.4,403.8 L159.1,403.8 L164.7,403.7 L170.3,403.7 L176.0,403.7 L181.6,403.6 L187.2,403.6 L192.7,403.5 L198.3,403.4 L203.8,403.3 L209.2,403.2 L214.6,403.1 L220.0,402.9 L224.8,402.7 L229.6,402.6 L234.4,402.4 L239.1,402.3 L243.7,402.2 L248.3,402.0 L252.9,401.8 L257.5,401.6 L262.1,401.4 L266.7,401.2 L271.3,400.9 L276.0,400.6 L280.6,400.2 L285.3,399.8 L290.1,399.3 L294.9,398.8 L300.2,398.2 L305.7,397.5 L311.3,396.8 L317.0,396.0 L322.8,395.2 L328.6,394.3 L334.5,393.4 L340.2,392.5 L346.0,391.5 L351.6,390.5 L357.1,389.4 L362.5,388.4 L367.6,387.2 L372.6,386.1 L377.2,384.9 L381.7,383.7 L384.5,382.9 L387.2,382.0 L389.9,381.2 L392.5,380.2 L395.1,379.3 L397.5,378.3 L399.9,377.4 L402.3,376.4 L404.6,375.4 L406.8,374.4 L409.0,373.4 L411.2,372.4 L413.3,371.5 L415.4,370.5 L417.4,369.6 L419.4,368.7 L420.9,368.1 L422.4,367.4 L423.8,366.8 L425.1,366.1 L426.4,365.5 L427.7,364.9 L429.0,364.2 L430.3,363.6 L431.5,363.0 L432.8,362.4 L434.0,361.8 L435.3,361.1 L436.5,360.5 L437.8,359.9 L439.1,359.3 L440.4,358.6 L441.6,361.4 L440.3,362.0 L439.1,362.6 L437.8,363.2 L436.6,363.8 L435.3,364.4 L434.1,365.0 L432.8,365.6 L431.5,366.2 L430.3,366.8 L429.0,367.5 L427.7,368.1 L426.3,368.7 L424.9,369.3 L423.5,370.0 L422.1,370.6 L420.6,371.3 L418.5,372.2 L416.5,373.1 L414.4,374.0 L412.3,375.0 L410.1,375.9 L407.9,376.9 L405.6,377.9 L403.3,378.9 L400.9,379.8 L398.5,380.8 L396.0,381.8 L393.4,382.7 L390.8,383.6 L388.1,384.5 L385.2,385.4 L382.3,386.3 L377.9,387.4 L373.2,388.6 L368.2,389.7 L363.0,390.8 L357.6,391.9 L352.1,393.0 L346.4,394.0 L340.7,395.0 L334.8,395.9 L329.0,396.8 L323.2,397.6 L317.4,398.4 L311.6,399.2 L306.0,399.9 L300.5,400.6 L295.1,401.2 L290.3,401.7 L285.5,402.2 L280.8,402.6 L276.1,402.9 L271.5,403.2 L266.9,403.5 L262.2,403.7 L257.6,403.9 L253.0,404.1 L248.4,404.3 L243.8,404.4 L239.1,404.6 L234.4,404.7 L229.7,404.8 L224.9,405.0 L220.0,405.1 L214.7,405.3 L209.3,405.4 L203.8,405.5 L198.3,405.6 L192.8,405.6 L187.2,405.7 L181.6,405.7 L176.0,405.8 L170.4,405.8 L164.7,405.8 L159.1,405.8 L153.4,405.9 L147.8,405.9 L142.2,405.9 L136.6,406.0 L131.0,406.0Z" fill="#17922a"/>
<path d="M191.0,445.0 L194.7,444.9 L198.4,444.9 L202.2,444.9 L205.9,444.8 L209.7,444.8 L213.5,444.8 L217.2,444.8 L221.0,444.8 L224.7,444.7 L228.5,444.7 L232.1,444.6 L235.8,444.5 L239.4,444.4 L243.0,444.3 L246.5,444.1 L249.9,443.9 L252.9,443.7 L255.8,443.5 L258.6,443.3 L261.4,443.1 L264.1,442.9 L266.8,442.7 L269.4,442.4 L272.1,442.2 L274.8,441.9 L277.5,441.5 L280.2,441.2 L283.0,440.8 L285.8,440.4 L288.7,439.9 L291.7,439.4 L294.8,438.8 L299.0,438.0 L303.4,437.2 L308.0,436.3 L312.7,435.3 L317.5,434.3 L322.4,433.2 L327.3,432.1 L332.3,430.9 L337.2,429.6 L342.1,428.3 L347.0,426.9 L351.8,425.5 L356.5,423.9 L361.0,422.3 L365.3,420.6 L369.5,418.8 L373.0,417.2 L376.5,415.4 L380.0,413.6 L383.5,411.7 L386.9,409.7 L390.2,407.7 L393.5,405.6 L396.8,403.5 L399.9,401.3 L403.0,399.1 L405.9,396.9 L408.8,394.7 L411.5,392.5 L414.2,390.3 L416.7,388.1 L419.0,386.0 L420.7,384.4 L422.3,382.7 L423.8,381.1 L425.2,379.5 L426.5,377.8 L427.8,376.1 L429.0,374.5 L430.2,372.8 L431.4,371.1 L432.6,369.4 L433.7,367.7 L434.9,366.0 L436.1,364.2 L437.3,362.5 L438.5,360.8 L439.8,359.1 L442.2,360.9 L440.9,362.6 L439.7,364.3 L438.5,365.9 L437.3,367.6 L436.1,369.3 L435.0,371.0 L433.8,372.7 L432.6,374.4 L431.4,376.2 L430.1,377.9 L428.8,379.6 L427.4,381.3 L425.9,383.0 L424.3,384.7 L422.7,386.4 L421.0,388.0 L418.5,390.2 L416.0,392.4 L413.3,394.7 L410.5,396.9 L407.6,399.1 L404.6,401.3 L401.5,403.5 L398.3,405.7 L395.0,407.9 L391.7,410.0 L388.2,412.0 L384.8,414.0 L381.3,415.9 L377.7,417.8 L374.1,419.5 L370.5,421.2 L366.3,423.0 L361.9,424.7 L357.3,426.3 L352.6,427.9 L347.7,429.4 L342.8,430.8 L337.9,432.1 L332.9,433.3 L327.9,434.5 L322.9,435.6 L318.0,436.7 L313.2,437.7 L308.4,438.7 L303.9,439.5 L299.4,440.4 L295.2,441.2 L292.1,441.7 L289.1,442.2 L286.2,442.7 L283.3,443.1 L280.5,443.5 L277.8,443.9 L275.0,444.2 L272.3,444.4 L269.7,444.7 L267.0,444.9 L264.3,445.1 L261.5,445.4 L258.7,445.5 L255.9,445.7 L253.0,445.9 L250.1,446.1 L246.6,446.3 L243.1,446.5 L239.5,446.6 L235.8,446.7 L232.2,446.8 L228.5,446.8 L224.8,446.8 L221.0,446.9 L217.3,446.9 L213.5,446.9 L209.7,446.9 L205.9,446.9 L202.2,446.9 L198.4,446.9 L194.7,447.0 L191.0,447.0Z" fill="#17922a"/>
<path d="M441.0,357.8 L444.3,357.6 L447.7,357.6 L451.0,357.5 L454.3,357.4 L457.6,357.4 L460.9,357.3 L464.2,357.3 L467.5,357.2 L470.8,357.1 L474.1,357.0 L477.4,356.9 L480.8,356.8 L484.3,356.6 L487.7,356.5 L491.2,356.2 L494.8,356.0 L499.2,355.6 L503.6,355.2 L508.2,354.7 L512.8,354.2 L517.5,353.7 L522.2,353.2 L527.0,352.6 L531.8,352.0 L536.7,351.4 L541.5,350.8 L546.2,350.1 L551.0,349.4 L555.7,348.7 L560.3,348.0 L564.8,347.3 L569.2,346.6 L573.1,345.9 L577.1,345.2 L581.0,344.4 L585.0,343.6 L589.0,342.8 L593.0,342.0 L596.9,341.2 L600.8,340.3 L604.6,339.5 L608.3,338.6 L612.0,337.8 L615.6,337.0 L619.0,336.2 L622.3,335.4 L625.5,334.7 L628.5,333.9 L630.3,333.5 L632.0,333.1 L633.7,332.7 L635.3,332.4 L636.8,332.0 L638.4,331.6 L639.9,331.2 L641.3,330.8 L642.8,330.4 L644.3,330.1 L645.8,329.7 L647.3,329.3 L648.8,329.0 L650.3,328.6 L651.9,328.3 L653.6,328.0 L655.2,327.6 L656.8,327.3 L658.4,327.0 L660.0,326.7 L661.6,326.5 L663.2,326.2 L664.8,325.9 L666.4,325.7 L668.0,325.4 L669.6,325.2 L671.2,324.9 L672.7,324.7 L674.3,324.5 L675.9,324.2 L677.4,324.0 L679.0,323.8 L680.6,323.6 L682.2,323.5 L683.8,323.3 L685.4,323.1 L687.0,323.0 L688.6,322.9 L690.2,322.7 L691.8,322.6 L693.3,322.5 L694.9,322.3 L696.5,322.2 L698.0,322.1 L699.6,321.9 L701.1,321.8 L702.7,321.7 L704.2,321.5 L705.8,341.5 L704.2,341.6 L702.6,341.7 L701.0,341.8 L699.5,341.9 L697.9,342.0 L696.3,342.1 L694.8,342.2 L693.2,342.3 L691.7,342.4 L690.1,342.5 L688.6,342.6 L687.1,342.7 L685.5,342.8 L684.0,342.9 L682.5,343.1 L681.0,343.2 L679.4,343.3 L677.9,343.4 L676.3,343.5 L674.8,343.6 L673.2,343.7 L671.7,343.8 L670.1,343.9 L668.6,344.0 L667.0,344.2 L665.5,344.3 L664.0,344.4 L662.5,344.6 L661.0,344.7 L659.4,344.9 L657.9,345.1 L656.4,345.2 L655.0,345.4 L653.5,345.6 L652.1,345.9 L650.7,346.1 L649.3,346.4 L647.9,346.6 L646.5,346.9 L645.0,347.2 L643.5,347.4 L642.0,347.7 L640.4,348.0 L638.7,348.4 L637.0,348.7 L635.3,349.0 L633.4,349.3 L631.5,349.7 L628.5,350.1 L625.3,350.6 L621.9,351.1 L618.4,351.7 L614.8,352.3 L611.1,352.9 L607.3,353.5 L603.3,354.1 L599.4,354.7 L595.3,355.3 L591.3,355.9 L587.2,356.5 L583.1,357.0 L579.0,357.5 L574.9,358.0 L570.8,358.4 L566.3,358.9 L561.7,359.3 L557.0,359.7 L552.2,360.1 L547.4,360.5 L542.5,360.8 L537.6,361.2 L532.7,361.5 L527.8,361.8 L523.0,362.0 L518.2,362.3 L513.4,362.5 L508.7,362.7 L504.1,362.8 L499.6,362.9 L495.2,363.0 L491.5,363.1 L487.9,363.1 L484.4,363.2 L480.9,363.2 L477.5,363.1 L474.1,363.1 L470.8,363.0 L467.4,362.9 L464.1,362.8 L460.9,362.7 L457.6,362.7 L454.3,362.6 L451.0,362.5 L447.7,362.4 L444.4,362.3 L441.0,362.2Z" fill="#17922a"/>
<path d="M294.0,461.5 L297.5,461.6 L301.0,461.7 L304.6,461.7 L308.1,461.8 L311.6,461.9 L315.2,461.9 L318.7,462.0 L322.2,462.1 L325.7,462.1 L329.3,462.2 L332.8,462.3 L336.3,462.4 L339.7,462.5 L343.2,462.6 L346.6,462.8 L350.0,462.9 L353.3,463.0 L356.4,463.2 L359.6,463.3 L362.8,463.3 L365.9,463.4 L369.0,463.5 L372.2,463.7 L375.3,463.8 L378.4,463.9 L381.5,464.1 L384.6,464.4 L387.8,464.6 L390.9,465.0 L394.0,465.3 L397.1,465.8 L400.2,466.3 L403.4,466.9 L406.7,467.6 L410.0,468.3 L413.3,469.1 L416.6,470.0 L420.0,470.9 L423.3,471.8 L426.6,472.8 L429.9,473.8 L433.1,474.8 L436.2,475.8 L439.3,476.9 L442.3,478.0 L445.1,479.1 L447.9,480.2 L450.5,481.3 L452.4,482.1 L454.2,483.0 L456.0,483.9 L457.7,484.7 L459.3,485.6 L460.9,486.6 L462.5,487.5 L464.0,488.4 L465.5,489.3 L467.0,490.3 L468.5,491.2 L469.9,492.1 L471.4,493.0 L472.8,494.0 L474.3,494.9 L475.7,495.8 L477.1,496.7 L478.5,497.5 L479.9,498.4 L481.2,499.3 L482.5,500.2 L483.8,501.0 L485.2,501.9 L486.5,502.8 L487.8,503.6 L489.0,504.5 L490.3,505.4 L491.6,506.3 L492.9,507.1 L494.2,508.0 L495.5,508.9 L496.8,509.8 L495.2,512.2 L493.9,511.4 L492.6,510.5 L491.3,509.6 L490.0,508.7 L488.7,507.8 L487.4,506.9 L486.1,506.1 L484.8,505.2 L483.5,504.3 L482.2,503.4 L480.9,502.5 L479.6,501.7 L478.3,500.8 L477.0,499.9 L475.6,499.1 L474.3,498.2 L472.8,497.3 L471.3,496.3 L469.9,495.4 L468.4,494.4 L467.0,493.5 L465.5,492.5 L464.1,491.6 L462.6,490.7 L461.1,489.8 L459.6,488.9 L458.0,488.0 L456.4,487.1 L454.8,486.2 L453.1,485.4 L451.3,484.5 L449.5,483.7 L446.9,482.6 L444.2,481.5 L441.4,480.4 L438.4,479.3 L435.4,478.2 L432.3,477.2 L429.1,476.2 L425.9,475.2 L422.6,474.2 L419.3,473.2 L416.0,472.4 L412.7,471.5 L409.4,470.7 L406.2,470.0 L403.0,469.3 L399.8,468.7 L396.7,468.2 L393.7,467.7 L390.6,467.3 L387.5,467.0 L384.4,466.7 L381.4,466.4 L378.3,466.2 L375.2,466.1 L372.1,465.9 L369.0,465.8 L365.8,465.7 L362.7,465.6 L359.5,465.5 L356.4,465.4 L353.2,465.2 L350.0,465.1 L346.5,464.9 L343.1,464.8 L339.7,464.7 L336.2,464.5 L332.7,464.4 L329.2,464.3 L325.7,464.2 L322.2,464.2 L318.7,464.1 L315.1,464.0 L311.6,463.9 L308.1,463.8 L304.5,463.8 L301.0,463.7 L297.5,463.6 L294.0,463.5Z" fill="#c6142b"/>
<path d="M296.0,496.0 L300.0,496.1 L304.0,496.1 L308.0,496.2 L312.0,496.2 L316.0,496.2 L320.0,496.3 L324.0,496.3 L328.0,496.4 L332.0,496.4 L336.0,496.5 L340.0,496.5 L344.0,496.6 L348.0,496.7 L352.0,496.7 L356.0,496.8 L360.0,496.9 L364.1,497.0 L368.2,497.0 L372.3,497.1 L376.5,497.1 L380.7,497.2 L384.9,497.3 L389.1,497.3 L393.3,497.4 L397.4,497.5 L401.5,497.6 L405.6,497.7 L409.6,497.9 L413.6,498.0 L417.5,498.2 L421.4,498.5 L425.1,498.8 L428.2,499.0 L431.2,499.3 L434.3,499.6 L437.3,499.9 L440.3,500.3 L443.2,500.6 L446.1,501.0 L449.0,501.4 L451.8,501.8 L454.6,502.2 L457.3,502.6 L460.0,503.0 L462.7,503.4 L465.2,503.9 L467.8,504.3 L470.2,504.6 L472.1,504.9 L473.8,505.2 L475.6,505.5 L477.3,505.8 L478.9,506.1 L480.6,506.5 L482.2,506.8 L483.7,507.1 L485.3,507.4 L486.9,507.7 L488.4,508.0 L490.0,508.3 L491.5,508.6 L493.1,508.9 L494.7,509.2 L496.3,509.5 L495.7,512.5 L494.1,512.2 L492.5,511.8 L490.9,511.5 L489.4,511.2 L487.8,510.9 L486.3,510.5 L484.7,510.2 L483.2,509.9 L481.6,509.6 L480.0,509.2 L478.4,508.9 L476.8,508.6 L475.1,508.3 L473.4,508.0 L471.6,507.7 L469.8,507.4 L467.3,507.0 L464.8,506.5 L462.2,506.1 L459.6,505.7 L456.9,505.3 L454.2,504.8 L451.4,504.4 L448.6,504.0 L445.8,503.6 L442.9,503.2 L439.9,502.8 L437.0,502.5 L434.0,502.1 L431.0,501.8 L428.0,501.5 L424.9,501.2 L421.2,501.0 L417.4,500.7 L413.5,500.5 L409.5,500.3 L405.5,500.1 L401.5,500.0 L397.3,499.9 L393.2,499.8 L389.0,499.7 L384.9,499.6 L380.7,499.5 L376.5,499.5 L372.3,499.4 L368.2,499.3 L364.0,499.2 L360.0,499.1 L356.0,499.0 L352.0,498.9 L347.9,498.9 L343.9,498.8 L339.9,498.7 L335.9,498.6 L332.0,498.6 L328.0,498.5 L324.0,498.4 L320.0,498.4 L316.0,498.3 L312.0,498.3 L308.0,498.2 L304.0,498.1 L300.0,498.1 L296.0,498.0Z" fill="#c6142b"/>
<path d="M267.5,531.0 L272.6,530.9 L277.8,530.8 L283.0,530.6 L288.2,530.5 L293.4,530.4 L298.6,530.3 L303.8,530.2 L309.0,530.1 L314.2,530.0 L319.3,529.9 L324.5,529.8 L329.6,529.6 L334.7,529.5 L339.8,529.3 L344.9,529.1 L350.0,528.9 L354.8,528.6 L359.6,528.4 L364.5,528.2 L369.4,527.9 L374.3,527.7 L379.2,527.4 L384.0,527.2 L388.9,526.9 L393.7,526.6 L398.4,526.2 L403.0,525.9 L407.6,525.5 L412.1,525.1 L416.5,524.7 L420.7,524.2 L424.9,523.8 L428.0,523.4 L431.1,522.9 L434.2,522.5 L437.2,522.0 L440.1,521.5 L443.1,521.0 L445.9,520.5 L448.8,519.9 L451.6,519.4 L454.3,518.8 L457.0,518.3 L459.6,517.8 L462.2,517.2 L464.8,516.7 L467.3,516.2 L469.7,515.7 L471.5,515.3 L473.3,514.9 L475.0,514.5 L476.7,514.1 L478.3,513.7 L480.0,513.4 L481.5,513.0 L483.1,512.6 L484.7,512.2 L486.2,511.8 L487.8,511.5 L489.3,511.1 L490.9,510.7 L492.5,510.3 L494.0,509.9 L495.7,509.5 L496.3,512.5 L494.7,512.8 L493.1,513.2 L491.6,513.6 L490.0,513.9 L488.5,514.3 L486.9,514.7 L485.4,515.0 L483.8,515.4 L482.2,515.8 L480.6,516.1 L479.0,516.5 L477.3,516.9 L475.6,517.2 L473.9,517.6 L472.1,518.0 L470.3,518.3 L467.8,518.8 L465.3,519.3 L462.8,519.9 L460.2,520.4 L457.5,520.9 L454.8,521.4 L452.1,522.0 L449.3,522.5 L446.4,523.0 L443.5,523.5 L440.6,524.0 L437.6,524.5 L434.5,525.0 L431.5,525.4 L428.3,525.8 L425.1,526.2 L421.0,526.7 L416.7,527.2 L412.3,527.6 L407.8,528.0 L403.2,528.3 L398.5,528.6 L393.8,529.0 L389.0,529.2 L384.2,529.5 L379.3,529.8 L374.4,530.0 L369.5,530.3 L364.6,530.5 L359.7,530.7 L354.9,530.9 L350.0,531.1 L345.0,531.3 L339.9,531.5 L334.8,531.7 L329.7,531.8 L324.5,532.0 L319.4,532.1 L314.2,532.2 L309.0,532.3 L303.8,532.4 L298.6,532.4 L293.4,532.5 L288.2,532.6 L283.0,532.7 L277.9,532.8 L272.7,532.9 L267.5,533.0Z" fill="#c6142b"/>
<path d="M296.0,562.0 L299.4,561.9 L302.8,561.9 L306.1,561.9 L309.5,561.8 L312.9,561.8 L316.3,561.8 L319.7,561.7 L323.1,561.7 L326.5,561.6 L329.9,561.6 L333.3,561.5 L336.6,561.5 L340.0,561.4 L343.3,561.2 L346.6,561.1 L349.9,560.9 L353.1,560.7 L356.3,560.6 L359.5,560.4 L362.7,560.2 L365.9,560.0 L369.1,559.8 L372.3,559.6 L375.4,559.3 L378.6,559.0 L381.7,558.8 L384.8,558.4 L387.9,558.1 L390.9,557.7 L393.9,557.3 L396.9,556.8 L399.8,556.4 L402.5,555.9 L405.1,555.4 L407.8,554.8 L410.4,554.3 L413.0,553.7 L415.7,553.1 L418.3,552.4 L420.8,551.8 L423.3,551.1 L425.8,550.4 L428.3,549.7 L430.6,549.0 L433.0,548.2 L435.2,547.4 L437.4,546.6 L439.5,545.8 L441.1,545.2 L442.7,544.5 L444.2,543.8 L445.7,543.1 L447.1,542.4 L448.5,541.7 L449.9,540.9 L451.2,540.2 L452.6,539.4 L453.9,538.6 L455.2,537.9 L456.5,537.1 L457.8,536.3 L459.2,535.5 L460.5,534.7 L461.8,533.9 L463.1,533.1 L464.4,532.3 L465.6,531.5 L466.9,530.7 L468.1,529.9 L469.4,529.1 L470.6,528.3 L471.8,527.4 L473.1,526.6 L474.3,525.8 L475.5,524.9 L476.6,524.1 L477.8,523.3 L478.9,522.5 L480.1,521.7 L481.2,520.9 L482.1,520.2 L483.0,519.5 L483.9,518.8 L484.8,518.1 L485.7,517.4 L486.6,516.7 L487.4,516.0 L488.3,515.3 L489.1,514.7 L489.9,514.0 L490.8,513.3 L491.6,512.6 L492.5,511.9 L493.3,511.2 L494.2,510.5 L495.1,509.8 L496.9,512.2 L496.1,512.9 L495.2,513.5 L494.3,514.2 L493.5,514.9 L492.6,515.6 L491.8,516.3 L490.9,516.9 L490.1,517.6 L489.2,518.3 L488.4,519.0 L487.5,519.7 L486.6,520.4 L485.7,521.1 L484.7,521.8 L483.8,522.4 L482.8,523.1 L481.7,524.0 L480.6,524.8 L479.4,525.6 L478.2,526.4 L477.0,527.2 L475.8,528.1 L474.6,528.9 L473.4,529.7 L472.1,530.5 L470.9,531.4 L469.6,532.2 L468.3,533.0 L467.1,533.8 L465.8,534.6 L464.5,535.4 L463.2,536.1 L461.9,536.9 L460.5,537.7 L459.2,538.5 L457.9,539.3 L456.6,540.1 L455.2,540.9 L453.9,541.7 L452.5,542.4 L451.1,543.2 L449.7,543.9 L448.3,544.7 L446.8,545.4 L445.3,546.1 L443.7,546.8 L442.1,547.5 L440.5,548.2 L438.3,549.0 L436.1,549.8 L433.7,550.6 L431.4,551.3 L429.0,552.1 L426.5,552.8 L424.0,553.5 L421.4,554.1 L418.8,554.8 L416.2,555.4 L413.6,556.0 L410.9,556.6 L408.2,557.1 L405.6,557.7 L402.9,558.2 L400.2,558.6 L397.2,559.1 L394.2,559.6 L391.2,560.0 L388.1,560.4 L385.0,560.7 L381.9,561.0 L378.8,561.3 L375.6,561.6 L372.4,561.8 L369.2,562.0 L366.1,562.2 L362.9,562.4 L359.7,562.6 L356.4,562.7 L353.3,562.9 L350.1,563.1 L346.7,563.2 L343.4,563.4 L340.0,563.5 L336.7,563.6 L333.3,563.6 L329.9,563.7 L326.5,563.7 L323.1,563.8 L319.8,563.8 L316.4,563.8 L313.0,563.8 L309.6,563.9 L306.2,563.9 L302.8,563.9 L299.4,563.9 L296.0,564.0Z" fill="#c6142b"/>
<path d="M495.7,509.8 L497.2,509.4 L498.7,509.0 L500.2,508.6 L501.7,508.3 L503.1,507.9 L504.6,507.6 L506.1,507.2 L507.6,506.8 L509.0,506.4 L510.5,506.1 L512.0,505.7 L513.5,505.3 L514.9,504.9 L516.4,504.5 L517.9,504.1 L519.5,503.6 L521.1,503.1 L522.8,502.7 L524.5,502.2 L526.1,501.8 L527.8,501.3 L529.4,500.9 L531.1,500.4 L532.8,499.9 L534.4,499.4 L536.1,498.9 L537.8,498.3 L539.5,497.7 L541.1,497.0 L542.9,496.4 L544.6,495.6 L546.3,494.8 L548.6,493.6 L551.0,492.3 L553.5,490.9 L556.1,489.5 L558.6,487.9 L561.3,486.3 L563.9,484.6 L566.5,482.9 L569.2,481.1 L571.7,479.3 L574.3,477.5 L576.7,475.7 L579.1,473.9 L581.4,472.1 L583.5,470.4 L585.5,468.7 L587.0,467.3 L588.5,465.9 L589.8,464.5 L591.2,463.1 L592.5,461.7 L593.8,460.3 L595.0,458.9 L596.2,457.4 L597.4,455.9 L598.6,454.4 L599.8,452.9 L601.0,451.4 L602.2,449.9 L603.5,448.3 L604.7,446.8 L606.0,445.2 L607.3,443.8 L608.5,442.4 L609.7,441.0 L611.0,439.6 L612.1,438.2 L613.3,436.8 L614.5,435.3 L615.7,433.9 L617.0,432.4 L618.2,431.0 L619.4,429.4 L620.7,427.9 L622.1,426.3 L623.4,424.7 L624.8,423.1 L626.3,421.4 L628.2,419.1 L630.3,416.7 L632.4,414.2 L634.6,411.7 L636.8,409.0 L639.1,406.3 L641.4,403.6 L643.8,400.9 L646.1,398.1 L648.5,395.4 L650.9,392.7 L653.2,390.0 L655.6,387.5 L657.8,385.0 L660.1,382.6 L662.3,380.3 L663.9,378.5 L665.5,376.8 L667.1,375.1 L668.7,373.5 L670.2,371.9 L671.8,370.4 L673.3,368.8 L674.8,367.4 L676.3,365.9 L677.8,364.5 L679.3,363.1 L680.7,361.7 L682.1,360.3 L683.5,358.9 L684.9,357.6 L686.3,356.3 L687.5,355.1 L688.7,354.0 L690.0,352.9 L691.2,351.8 L692.3,350.8 L693.5,349.7 L694.7,348.7 L695.8,347.7 L697.0,346.6 L698.1,345.6 L699.3,344.6 L700.4,343.6 L701.5,342.6 L702.6,341.6 L703.8,340.6 L704.9,339.6 L719.1,356.4 L717.9,357.4 L716.6,358.3 L715.4,359.3 L714.2,360.2 L713.0,361.2 L711.8,362.1 L710.6,363.0 L709.4,364.0 L708.3,364.9 L707.1,365.8 L705.9,366.8 L704.7,367.7 L703.4,368.7 L702.2,369.7 L701.0,370.7 L699.7,371.7 L698.2,372.9 L696.6,374.1 L695.1,375.3 L693.5,376.5 L692.0,377.7 L690.4,378.9 L688.8,380.2 L687.2,381.4 L685.7,382.7 L684.1,384.0 L682.5,385.3 L680.9,386.6 L679.2,388.0 L677.6,389.4 L676.0,390.8 L674.3,392.3 L672.2,394.4 L670.1,396.6 L667.8,398.9 L665.6,401.3 L663.2,403.8 L660.9,406.4 L658.5,409.0 L656.1,411.7 L653.7,414.3 L651.3,417.0 L649.0,419.6 L646.7,422.2 L644.5,424.8 L642.3,427.2 L640.2,429.6 L638.1,431.8 L636.7,433.4 L635.3,435.0 L633.9,436.6 L632.6,438.1 L631.3,439.5 L630.0,441.0 L628.7,442.5 L627.4,443.9 L626.2,445.3 L624.9,446.8 L623.6,448.2 L622.4,449.6 L621.1,451.1 L619.7,452.5 L618.4,454.0 L617.0,455.4 L615.6,456.7 L614.2,458.1 L612.8,459.4 L611.4,460.8 L610.0,462.2 L608.6,463.6 L607.1,464.9 L605.7,466.3 L604.1,467.7 L602.6,469.1 L601.0,470.5 L599.4,471.9 L597.7,473.3 L596.0,474.6 L594.2,476.0 L592.3,477.3 L589.9,479.0 L587.5,480.6 L584.9,482.3 L582.2,483.9 L579.5,485.6 L576.7,487.2 L573.9,488.8 L571.0,490.4 L568.2,491.9 L565.3,493.4 L562.4,494.8 L559.6,496.2 L556.8,497.5 L554.1,498.7 L551.5,499.8 L548.9,500.8 L547.0,501.5 L545.1,502.2 L543.2,502.8 L541.3,503.4 L539.5,503.9 L537.7,504.4 L535.9,504.8 L534.2,505.2 L532.4,505.6 L530.7,506.0 L529.0,506.3 L527.3,506.6 L525.6,507.0 L523.9,507.3 L522.2,507.6 L520.5,508.0 L519.0,508.3 L517.4,508.6 L515.9,508.9 L514.3,509.2 L512.8,509.5 L511.3,509.7 L509.8,510.0 L508.3,510.2 L506.8,510.5 L505.3,510.7 L503.8,511.0 L502.3,511.2 L500.8,511.5 L499.3,511.7 L497.8,512.0 L496.3,512.2Z" fill="#c6142b"/>
<path d="M792.5,294.7 L793.4,294.1 L794.3,293.5 L795.2,292.9 L796.1,292.3 L797.0,291.7 L797.8,291.1 L798.7,290.5 L799.6,289.9 L800.5,289.4 L801.3,288.8 L802.2,288.2 L803.0,287.7 L803.8,287.1 L804.6,286.6 L805.4,286.0 L806.2,285.5 L806.8,285.1 L807.4,284.6 L808.1,284.2 L808.7,283.7 L809.3,283.2 L810.0,282.7 L810.6,282.2 L811.3,281.7 L811.9,281.2 L812.6,280.7 L813.3,280.1 L814.0,279.6 L814.8,279.1 L815.5,278.5 L816.3,277.9 L817.1,277.3 L818.0,276.7 L818.9,276.1 L819.8,275.5 L820.7,274.9 L821.5,274.4 L822.3,273.9 L823.1,273.4 L823.9,272.9 L824.6,272.5 L825.4,272.0 L826.1,271.6 L826.8,271.1 L827.5,270.6 L828.2,270.2 L828.8,269.7 L829.4,269.2 L830.3,268.4 L831.1,267.7 L831.9,266.8 L832.8,265.9 L833.7,265.0 L834.6,264.0 L835.5,263.0 L836.4,262.0 L837.3,261.0 L838.2,259.9 L839.2,258.8 L840.1,257.8 L841.1,256.7 L842.1,255.6 L843.0,254.5 L844.0,253.4 L844.9,252.3 L845.9,251.3 L846.8,250.3 L847.7,249.2 L848.7,248.1 L849.6,247.1 L850.5,246.0 L851.5,244.9 L852.4,243.8 L853.4,242.8 L854.3,241.7 L855.3,240.6 L856.2,239.5 L857.2,238.4 L858.2,237.3 L859.1,236.2 L860.1,235.2 L861.1,234.1 L862.0,233.1 L863.0,232.1 L863.9,231.0 L864.9,230.0 L865.9,229.0 L866.8,227.9 L867.8,226.9 L868.7,225.9 L869.7,224.9 L870.7,223.9 L871.6,222.8 L872.6,221.8 L873.5,220.8 L874.4,219.8 L875.4,218.8 L876.3,217.8 L877.3,216.8 L878.2,215.8 L879.1,214.8 L880.1,213.8 L881.0,212.8 L882.0,211.7 L882.9,210.7 L883.9,209.7 L884.8,208.7 L885.8,207.7 L886.8,206.6 L887.8,205.6 L888.8,204.6 L889.7,203.6 L890.7,202.6 L891.7,201.7 L892.7,200.7 L893.6,199.8 L894.6,198.8 L895.6,197.9 L896.6,197.0 L897.5,196.1 L898.5,195.1 L899.5,194.2 L900.5,193.3 L901.4,192.4 L902.4,191.5 L903.4,190.6 L904.4,189.7 L905.3,188.8 L906.3,187.9 L907.2,187.0 L908.2,186.1 L909.1,185.2 L910.1,184.3 L911.0,183.5 L912.0,182.6 L913.0,181.7 L913.9,180.8 L914.9,179.9 L915.9,179.0 L916.9,178.1 L917.9,177.2 L918.9,176.3 L919.9,175.5 L920.9,174.6 L921.9,173.8 L922.9,173.0 L923.9,172.2 L924.9,171.5 L925.9,170.7 L926.9,170.0 L927.9,169.3 L928.9,168.5 L929.8,167.8 L930.8,167.1 L931.8,166.4 L932.7,165.7 L933.7,165.0 L934.6,164.3 L935.6,163.6 L936.5,162.9 L937.4,162.2 L938.4,161.4 L939.3,160.7 L940.3,159.9 L941.2,159.1 L942.2,158.3 L943.2,157.5 L944.1,156.6 L945.1,155.8 L946.1,155.0 L947.1,154.2 L948.1,153.4 L949.2,152.6 L950.2,151.8 L951.3,151.0 L952.3,150.3 L953.3,149.6 L954.3,149.0 L955.3,148.3 L956.3,147.7 L957.3,147.0 L958.3,146.4 L959.2,145.8 L960.2,145.3 L961.2,144.7 L962.2,144.1 L963.2,143.6 L964.2,143.0 L965.2,142.5 L966.2,142.0 L967.2,141.5 L968.2,141.0 L969.2,140.5 L970.2,140.0 L971.1,139.5 L972.1,139.1 L973.1,138.6 L974.1,138.2 L975.0,137.8 L976.0,137.4 L977.0,137.0 L978.0,136.6 L979.0,136.2 L979.9,135.8 L980.9,135.4 L981.9,135.1 L982.9,134.7 L983.9,134.4 L984.8,134.0 L985.8,133.7 L986.8,133.4 L987.8,133.1 L988.7,132.9 L989.7,132.6 L990.7,132.3 L991.6,132.1 L992.6,131.8 L993.6,131.6 L994.5,131.3 L995.5,131.1 L996.5,130.9 L997.4,130.6 L998.4,130.4 L999.3,130.2 L1000.3,130.0 L1001.2,129.7 L1002.1,129.5 L1003.1,129.3 L1004.0,129.1 L1004.9,128.9 L1005.9,128.7 L1006.8,128.5 L1007.7,128.3 L1008.7,128.2 L1009.6,128.0 L1010.6,127.8 L1011.6,127.6 L1012.6,127.4 L1013.6,127.2 L1014.6,127.0 L1015.8,126.8 L1017.1,126.6 L1018.4,126.3 L1019.7,126.1 L1021.0,125.9 L1022.3,125.7 L1023.6,125.5 L1025.0,125.2 L1026.3,125.0 L1027.7,124.8 L1029.0,124.6 L1030.4,124.4 L1031.7,124.2 L1033.1,124.0 L1034.4,123.7 L1035.7,123.5 L1036.3,126.5 L1035.0,126.7 L1033.6,127.0 L1032.3,127.3 L1030.9,127.5 L1029.6,127.8 L1028.3,128.1 L1026.9,128.3 L1025.6,128.6 L1024.2,128.9 L1022.9,129.1 L1021.6,129.4 L1020.3,129.7 L1019.1,129.9 L1017.8,130.2 L1016.6,130.5 L1015.4,130.8 L1014.4,131.0 L1013.4,131.3 L1012.5,131.5 L1011.5,131.8 L1010.6,132.0 L1009.7,132.3 L1008.8,132.5 L1007.9,132.8 L1007.0,133.1 L1006.1,133.3 L1005.2,133.6 L1004.3,133.9 L1003.4,134.1 L1002.5,134.4 L1001.6,134.7 L1000.7,135.0 L999.7,135.3 L998.8,135.6 L997.9,135.9 L997.0,136.2 L996.0,136.5 L995.1,136.8 L994.2,137.1 L993.3,137.5 L992.4,137.8 L991.5,138.1 L990.6,138.5 L989.7,138.8 L988.8,139.1 L987.9,139.5 L987.0,139.9 L986.1,140.2 L985.2,140.6 L984.3,141.0 L983.4,141.4 L982.5,141.9 L981.6,142.3 L980.7,142.7 L979.8,143.1 L978.9,143.6 L978.0,144.0 L977.1,144.5 L976.2,145.0 L975.3,145.5 L974.4,145.9 L973.5,146.4 L972.6,146.9 L971.8,147.4 L970.9,148.0 L970.0,148.6 L969.1,149.1 L968.2,149.7 L967.3,150.3 L966.4,150.9 L965.5,151.5 L964.6,152.1 L963.7,152.7 L962.8,153.3 L962.0,154.0 L961.1,154.6 L960.2,155.3 L959.4,155.9 L958.5,156.6 L957.7,157.3 L956.8,158.1 L955.9,158.8 L955.1,159.6 L954.2,160.4 L953.4,161.2 L952.5,162.1 L951.6,163.0 L950.8,163.9 L949.9,164.8 L949.0,165.7 L948.1,166.6 L947.2,167.5 L946.3,168.4 L945.4,169.3 L944.4,170.2 L943.5,171.1 L942.6,172.0 L941.6,172.8 L940.7,173.6 L939.8,174.5 L938.9,175.3 L937.9,176.1 L937.0,176.9 L936.1,177.7 L935.2,178.4 L934.3,179.2 L933.4,180.0 L932.6,180.8 L931.7,181.6 L930.8,182.4 L930.0,183.2 L929.1,184.0 L928.2,184.8 L927.3,185.7 L926.4,186.5 L925.6,187.4 L924.7,188.3 L923.8,189.2 L922.9,190.1 L922.0,191.0 L921.1,191.9 L920.1,192.8 L919.2,193.7 L918.3,194.7 L917.4,195.6 L916.5,196.5 L915.6,197.5 L914.7,198.4 L913.8,199.3 L912.8,200.3 L911.9,201.2 L911.0,202.2 L910.1,203.1 L909.2,204.1 L908.3,205.0 L907.4,205.9 L906.5,206.9 L905.6,207.8 L904.7,208.8 L903.8,209.7 L902.9,210.7 L902.0,211.7 L901.1,212.6 L900.3,213.6 L899.4,214.6 L898.5,215.6 L897.6,216.6 L896.7,217.6 L895.8,218.6 L894.9,219.6 L894.1,220.7 L893.2,221.7 L892.3,222.8 L891.4,223.8 L890.5,224.9 L889.6,225.9 L888.7,227.0 L887.8,228.1 L886.9,229.1 L886.0,230.2 L885.0,231.2 L884.1,232.3 L883.2,233.4 L882.3,234.4 L881.3,235.5 L880.4,236.5 L879.5,237.5 L878.6,238.6 L877.6,239.6 L876.7,240.7 L875.8,241.7 L874.9,242.8 L874.0,243.8 L873.1,244.9 L872.2,245.9 L871.3,247.0 L870.4,248.0 L869.4,249.1 L868.5,250.2 L867.6,251.2 L866.7,252.3 L865.8,253.4 L864.9,254.5 L863.9,255.6 L863.0,256.7 L862.1,257.8 L861.1,258.9 L860.2,260.0 L859.3,261.1 L858.3,262.2 L857.4,263.3 L856.4,264.4 L855.5,265.4 L854.6,266.5 L853.7,267.6 L852.7,268.7 L851.8,269.8 L850.8,270.9 L849.9,272.0 L848.9,273.1 L847.9,274.2 L846.9,275.3 L845.9,276.4 L844.9,277.5 L843.9,278.6 L842.9,279.6 L841.8,280.6 L840.8,281.6 L839.9,282.5 L839.0,283.3 L838.1,284.1 L837.2,284.8 L836.4,285.5 L835.6,286.2 L834.8,286.8 L834.0,287.4 L833.2,288.0 L832.5,288.6 L831.8,289.1 L831.2,289.6 L830.5,290.2 L830.0,290.7 L829.4,291.2 L828.9,291.7 L828.4,292.2 L827.9,292.7 L827.3,293.3 L826.8,293.8 L826.3,294.4 L825.8,295.0 L825.3,295.6 L824.8,296.2 L824.2,296.8 L823.6,297.4 L823.1,298.1 L822.5,298.7 L821.8,299.4 L821.2,300.1 L820.5,300.8 L819.8,301.5 L819.1,302.2 L818.3,303.0 L817.5,303.8 L816.8,304.5 L816.0,305.3 L815.2,306.0 L814.4,306.8 L813.6,307.5 L812.9,308.3 L812.1,309.0 L811.3,309.7 L810.5,310.5 L809.8,311.2 L809.0,311.9 L808.3,312.6 L807.5,313.3Z" fill="#6fc61a"/>
<path d="M1035.2,124.0 L1036.2,123.2 L1037.1,122.4 L1038.1,121.5 L1039.1,120.7 L1040.0,119.9 L1041.0,119.0 L1041.9,118.2 L1042.9,117.4 L1043.9,116.5 L1044.9,115.7 L1045.9,114.9 L1046.9,114.1 L1048.0,113.3 L1049.1,112.5 L1050.2,111.7 L1051.3,110.9 L1052.5,110.1 L1053.8,109.3 L1055.1,108.5 L1056.4,107.8 L1057.7,107.0 L1059.0,106.3 L1060.3,105.5 L1061.7,104.8 L1063.1,104.1 L1064.5,103.4 L1065.9,102.7 L1067.4,102.0 L1068.9,101.3 L1070.4,100.7 L1072.0,100.0 L1073.5,99.4 L1075.5,98.7 L1077.6,98.0 L1079.7,97.3 L1081.8,96.6 L1084.0,95.9 L1086.2,95.3 L1088.5,94.7 L1090.8,94.1 L1093.1,93.5 L1095.4,92.9 L1097.8,92.4 L1100.1,91.8 L1102.5,91.3 L1104.9,90.8 L1107.3,90.3 L1109.7,89.8 L1112.5,89.2 L1115.2,88.7 L1118.0,88.1 L1120.9,87.6 L1123.7,87.1 L1126.6,86.6 L1129.6,86.2 L1132.5,85.7 L1135.4,85.3 L1138.4,84.9 L1141.3,84.5 L1144.3,84.1 L1147.2,83.7 L1150.1,83.4 L1153.0,83.1 L1155.9,82.8 L1158.7,82.5 L1161.5,82.3 L1164.3,82.1 L1167.1,81.9 L1170.0,81.7 L1172.8,81.6 L1175.6,81.5 L1178.4,81.4 L1181.2,81.3 L1184.0,81.2 L1186.8,81.1 L1189.5,81.1 L1192.2,81.0 L1194.8,80.9 L1197.4,80.9 L1200.0,80.8 L1202.1,80.7 L1204.2,80.7 L1206.3,80.6 L1208.3,80.6 L1210.4,80.6 L1212.4,80.6 L1214.3,80.5 L1216.3,80.5 L1218.3,80.5 L1220.2,80.5 L1222.2,80.5 L1224.1,80.5 L1226.1,80.5 L1228.0,80.4 L1230.0,80.4 L1232.0,80.4 L1232.0,82.8 L1230.0,82.8 L1228.0,82.8 L1226.1,82.9 L1224.1,82.9 L1222.2,82.9 L1220.2,82.9 L1218.3,82.9 L1216.3,82.9 L1214.4,83.0 L1212.4,83.0 L1210.4,83.0 L1208.4,83.0 L1206.3,83.1 L1204.3,83.1 L1202.2,83.2 L1200.0,83.2 L1197.5,83.3 L1194.9,83.4 L1192.2,83.4 L1189.5,83.5 L1186.8,83.6 L1184.1,83.6 L1181.3,83.7 L1178.5,83.8 L1175.7,83.9 L1172.9,84.1 L1170.1,84.2 L1167.3,84.4 L1164.5,84.5 L1161.7,84.7 L1158.9,85.0 L1156.1,85.2 L1153.3,85.5 L1150.4,85.8 L1147.5,86.2 L1144.6,86.5 L1141.6,86.9 L1138.7,87.3 L1135.8,87.7 L1132.9,88.2 L1129.9,88.6 L1127.0,89.1 L1124.2,89.6 L1121.3,90.1 L1118.5,90.6 L1115.7,91.1 L1113.0,91.7 L1110.3,92.2 L1107.9,92.7 L1105.5,93.2 L1103.1,93.8 L1100.7,94.3 L1098.3,94.8 L1096.0,95.4 L1093.7,95.9 L1091.4,96.5 L1089.1,97.1 L1086.9,97.7 L1084.7,98.3 L1082.6,99.0 L1080.5,99.7 L1078.4,100.3 L1076.4,101.1 L1074.5,101.8 L1072.9,102.4 L1071.4,103.0 L1069.9,103.7 L1068.5,104.3 L1067.0,105.0 L1065.6,105.7 L1064.2,106.3 L1062.9,107.0 L1061.6,107.8 L1060.2,108.5 L1058.9,109.2 L1057.7,110.0 L1056.4,110.7 L1055.2,111.5 L1053.9,112.3 L1052.7,113.1 L1051.6,113.8 L1050.6,114.5 L1049.5,115.3 L1048.5,116.1 L1047.5,116.9 L1046.5,117.7 L1045.6,118.5 L1044.6,119.3 L1043.6,120.2 L1042.7,121.0 L1041.7,121.8 L1040.8,122.7 L1039.8,123.5 L1038.8,124.3 L1037.8,125.2 L1036.8,126.0Z" fill="#6fc61a"/>
<path d="M1231.5,80.2 L1232.5,79.8 L1233.5,79.5 L1234.5,79.1 L1235.5,78.8 L1236.5,78.4 L1237.5,78.1 L1238.5,77.7 L1239.5,77.4 L1240.5,77.0 L1241.5,76.6 L1242.5,76.3 L1243.5,76.0 L1244.5,75.6 L1245.6,75.3 L1246.6,75.0 L1247.6,74.7 L1248.6,74.4 L1249.5,74.1 L1250.5,73.8 L1251.4,73.6 L1252.4,73.3 L1253.3,73.0 L1254.3,72.8 L1255.2,72.5 L1256.2,72.3 L1257.2,72.0 L1258.2,71.8 L1259.3,71.6 L1260.3,71.3 L1261.4,71.1 L1262.6,70.9 L1263.8,70.8 L1265.7,70.5 L1267.6,70.3 L1269.7,70.1 L1271.7,69.9 L1273.9,69.8 L1276.1,69.7 L1278.4,69.6 L1280.7,69.5 L1283.1,69.4 L1285.4,69.3 L1287.8,69.2 L1290.3,69.2 L1292.7,69.1 L1295.1,69.0 L1297.5,69.0 L1300.0,68.9 L1302.8,68.8 L1305.6,68.7 L1308.5,68.6 L1311.5,68.6 L1314.5,68.5 L1317.5,68.4 L1320.5,68.4 L1323.5,68.4 L1326.6,68.3 L1329.7,68.3 L1332.8,68.2 L1335.8,68.2 L1338.9,68.1 L1341.9,68.1 L1345.0,68.1 L1348.0,68.0 L1348.0,70.0 L1345.0,70.1 L1342.0,70.1 L1338.9,70.2 L1335.9,70.2 L1332.8,70.3 L1329.7,70.4 L1326.6,70.4 L1323.6,70.5 L1320.5,70.5 L1317.5,70.6 L1314.5,70.7 L1311.5,70.7 L1308.6,70.8 L1305.7,70.9 L1302.8,71.0 L1300.0,71.1 L1297.6,71.2 L1295.2,71.3 L1292.8,71.4 L1290.3,71.5 L1287.9,71.6 L1285.5,71.6 L1283.1,71.7 L1280.8,71.8 L1278.5,71.9 L1276.3,72.1 L1274.1,72.2 L1271.9,72.4 L1269.9,72.5 L1267.9,72.7 L1266.0,73.0 L1264.2,73.2 L1263.0,73.4 L1261.9,73.6 L1260.8,73.8 L1259.8,74.1 L1258.8,74.3 L1257.8,74.5 L1256.8,74.8 L1255.9,75.0 L1255.0,75.3 L1254.1,75.6 L1253.1,75.8 L1252.2,76.1 L1251.3,76.4 L1250.3,76.7 L1249.4,77.0 L1248.4,77.3 L1247.4,77.6 L1246.4,77.9 L1245.4,78.3 L1244.4,78.6 L1243.4,79.0 L1242.5,79.3 L1241.5,79.7 L1240.5,80.1 L1239.5,80.4 L1238.5,80.8 L1237.5,81.2 L1236.5,81.5 L1235.5,81.9 L1234.5,82.3 L1233.5,82.7 L1232.5,83.0Z" fill="#6fc61a"/>
<path d="M1232.5,80.2 L1233.5,80.5 L1234.5,80.9 L1235.5,81.2 L1236.5,81.6 L1237.5,82.0 L1238.5,82.3 L1239.5,82.7 L1240.5,83.0 L1241.5,83.4 L1242.4,83.7 L1243.4,84.1 L1244.4,84.4 L1245.4,84.7 L1246.4,85.1 L1247.4,85.4 L1248.4,85.7 L1249.4,86.0 L1250.3,86.3 L1251.2,86.6 L1252.1,86.8 L1253.0,87.1 L1253.9,87.4 L1254.8,87.6 L1255.7,87.9 L1256.6,88.1 L1257.6,88.4 L1258.5,88.6 L1259.6,88.9 L1260.6,89.1 L1261.7,89.3 L1262.9,89.5 L1264.2,89.8 L1266.7,90.1 L1269.4,90.5 L1272.4,90.8 L1275.5,91.2 L1278.7,91.5 L1282.2,91.7 L1285.7,92.0 L1289.3,92.2 L1293.1,92.5 L1296.8,92.7 L1300.7,92.9 L1304.6,93.1 L1308.5,93.3 L1312.4,93.5 L1316.2,93.7 L1320.0,93.9 L1324.6,94.1 L1329.3,94.2 L1334.0,94.4 L1338.8,94.5 L1343.7,94.6 L1348.6,94.7 L1353.6,94.8 L1358.7,94.9 L1363.7,95.0 L1368.8,95.0 L1373.9,95.1 L1378.9,95.2 L1384.0,95.2 L1389.0,95.3 L1394.1,95.4 L1399.0,95.5 L1399.0,97.5 L1394.0,97.4 L1389.0,97.4 L1384.0,97.3 L1378.9,97.2 L1373.8,97.2 L1368.8,97.1 L1363.7,97.1 L1358.6,97.0 L1353.6,97.0 L1348.6,96.9 L1343.7,96.8 L1338.8,96.7 L1333.9,96.6 L1329.2,96.5 L1324.5,96.3 L1320.0,96.1 L1316.1,96.0 L1312.2,95.8 L1308.4,95.6 L1304.5,95.4 L1300.6,95.2 L1296.7,95.0 L1292.9,94.8 L1289.2,94.6 L1285.5,94.4 L1282.0,94.1 L1278.5,93.9 L1275.2,93.6 L1272.1,93.3 L1269.1,93.0 L1266.4,92.6 L1263.8,92.2 L1262.5,92.0 L1261.3,91.8 L1260.1,91.6 L1259.0,91.4 L1258.0,91.1 L1256.9,90.9 L1256.0,90.7 L1255.0,90.4 L1254.1,90.2 L1253.2,89.9 L1252.3,89.7 L1251.4,89.4 L1250.5,89.1 L1249.5,88.9 L1248.6,88.6 L1247.6,88.3 L1246.6,88.0 L1245.6,87.7 L1244.6,87.4 L1243.5,87.1 L1242.5,86.8 L1241.5,86.4 L1240.5,86.1 L1239.5,85.7 L1238.5,85.4 L1237.5,85.1 L1236.5,84.7 L1235.5,84.4 L1234.5,84.0 L1233.5,83.7 L1232.5,83.4 L1231.5,83.0Z" fill="#6fc61a"/>
<path d="M1036.6,123.9 L1037.2,124.2 L1037.8,124.5 L1038.3,124.8 L1038.9,125.2 L1039.4,125.5 L1039.9,125.8 L1040.4,126.2 L1041.0,126.5 L1041.5,126.8 L1042.0,127.1 L1042.6,127.4 L1043.1,127.7 L1043.7,128.0 L1044.3,128.3 L1044.9,128.6 L1045.5,128.8 L1046.3,129.2 L1047.2,129.5 L1048.0,129.8 L1048.9,130.1 L1049.8,130.4 L1050.7,130.7 L1051.6,131.0 L1052.6,131.2 L1053.5,131.5 L1054.5,131.8 L1055.6,132.0 L1056.6,132.3 L1057.7,132.5 L1058.9,132.8 L1060.0,133.0 L1061.2,133.3 L1063.2,133.6 L1065.2,134.0 L1067.4,134.3 L1069.7,134.7 L1072.0,135.0 L1074.4,135.3 L1076.9,135.6 L1079.4,135.9 L1082.0,136.2 L1084.6,136.5 L1087.2,136.7 L1089.8,137.0 L1092.4,137.2 L1095.0,137.4 L1097.6,137.6 L1100.1,137.8 L1102.7,137.9 L1105.2,138.1 L1107.8,138.2 L1110.4,138.3 L1113.0,138.4 L1115.7,138.4 L1118.3,138.5 L1120.9,138.5 L1123.5,138.6 L1126.2,138.6 L1128.8,138.6 L1131.5,138.6 L1134.1,138.7 L1136.8,138.7 L1139.4,138.7 L1142.0,138.8 L1142.0,141.2 L1139.3,141.1 L1136.7,141.1 L1134.1,141.1 L1131.4,141.0 L1128.8,141.0 L1126.2,141.0 L1123.5,141.0 L1120.9,140.9 L1118.2,140.9 L1115.6,140.9 L1113.0,140.8 L1110.3,140.7 L1107.7,140.6 L1105.1,140.5 L1102.5,140.4 L1099.9,140.2 L1097.4,140.0 L1094.8,139.8 L1092.2,139.6 L1089.6,139.4 L1087.0,139.2 L1084.4,138.9 L1081.8,138.7 L1079.2,138.4 L1076.6,138.1 L1074.1,137.8 L1071.7,137.5 L1069.3,137.1 L1067.0,136.8 L1064.8,136.5 L1062.7,136.1 L1060.8,135.7 L1059.5,135.5 L1058.4,135.2 L1057.2,135.0 L1056.1,134.7 L1055.0,134.5 L1053.9,134.2 L1052.9,133.9 L1051.9,133.7 L1050.9,133.4 L1049.9,133.1 L1049.0,132.8 L1048.1,132.5 L1047.2,132.2 L1046.3,131.9 L1045.4,131.5 L1044.5,131.2 L1043.8,130.9 L1043.2,130.6 L1042.5,130.3 L1041.9,130.0 L1041.3,129.7 L1040.8,129.3 L1040.2,129.0 L1039.6,128.7 L1039.1,128.4 L1038.6,128.0 L1038.0,127.7 L1037.5,127.4 L1037.0,127.1 L1036.4,126.8 L1035.9,126.4 L1035.4,126.1Z" fill="#6fc61a"/>
<path d="M1141.5,138.6 L1142.6,138.2 L1143.7,137.8 L1144.9,137.5 L1146.0,137.1 L1147.1,136.7 L1148.2,136.3 L1149.3,135.9 L1150.4,135.6 L1151.5,135.2 L1152.6,134.8 L1153.7,134.4 L1154.9,134.1 L1156.1,133.7 L1157.2,133.3 L1158.4,133.0 L1159.6,132.7 L1161.0,132.3 L1162.3,132.0 L1163.6,131.6 L1164.9,131.3 L1166.3,131.0 L1167.6,130.6 L1169.0,130.3 L1170.4,130.0 L1171.8,129.7 L1173.2,129.4 L1174.7,129.1 L1176.2,128.8 L1177.8,128.6 L1179.4,128.3 L1181.1,128.0 L1182.8,127.8 L1185.7,127.4 L1188.7,127.0 L1191.8,126.6 L1195.1,126.3 L1198.5,126.0 L1202.0,125.7 L1205.6,125.4 L1209.3,125.1 L1213.0,124.9 L1216.8,124.6 L1220.6,124.4 L1224.5,124.2 L1228.3,124.0 L1232.2,123.8 L1236.1,123.6 L1239.9,123.4 L1244.4,123.2 L1249.0,123.0 L1253.7,122.9 L1258.4,122.8 L1263.2,122.7 L1268.0,122.6 L1272.9,122.5 L1277.8,122.4 L1282.7,122.4 L1287.6,122.3 L1292.5,122.3 L1297.5,122.3 L1302.4,122.2 L1307.3,122.1 L1312.1,122.1 L1317.0,122.0 L1317.0,124.0 L1312.2,124.1 L1307.3,124.2 L1302.4,124.2 L1297.5,124.3 L1292.6,124.4 L1287.6,124.4 L1282.7,124.5 L1277.8,124.6 L1272.9,124.6 L1268.0,124.7 L1263.2,124.8 L1258.5,124.9 L1253.7,125.1 L1249.1,125.2 L1244.5,125.4 L1240.1,125.6 L1236.2,125.8 L1232.3,126.0 L1228.5,126.2 L1224.6,126.5 L1220.8,126.7 L1216.9,127.0 L1213.2,127.2 L1209.4,127.5 L1205.8,127.8 L1202.2,128.1 L1198.7,128.4 L1195.4,128.7 L1192.1,129.1 L1189.0,129.5 L1186.0,129.8 L1183.2,130.2 L1181.5,130.5 L1179.8,130.8 L1178.2,131.1 L1176.7,131.4 L1175.2,131.6 L1173.7,131.9 L1172.3,132.3 L1170.9,132.6 L1169.6,132.9 L1168.2,133.2 L1166.9,133.5 L1165.6,133.9 L1164.3,134.2 L1163.0,134.6 L1161.7,135.0 L1160.4,135.3 L1159.2,135.7 L1158.0,136.0 L1156.9,136.4 L1155.8,136.7 L1154.6,137.1 L1153.5,137.5 L1152.4,137.9 L1151.3,138.3 L1150.2,138.7 L1149.1,139.1 L1148.0,139.5 L1146.9,139.9 L1145.8,140.2 L1144.7,140.6 L1143.6,141.0 L1142.5,141.4Z" fill="#6fc61a"/>
<path d="M1142.4,138.6 L1143.5,138.9 L1144.6,139.2 L1145.8,139.5 L1146.9,139.9 L1148.0,140.2 L1149.1,140.5 L1150.2,140.9 L1151.2,141.2 L1152.4,141.5 L1153.5,141.8 L1154.6,142.1 L1155.7,142.5 L1156.8,142.8 L1158.0,143.1 L1159.1,143.4 L1160.3,143.7 L1161.6,144.0 L1162.9,144.3 L1164.2,144.6 L1165.5,144.9 L1166.8,145.2 L1168.1,145.5 L1169.4,145.7 L1170.7,146.0 L1172.1,146.3 L1173.5,146.6 L1174.9,146.8 L1176.4,147.1 L1178.0,147.4 L1179.6,147.6 L1181.4,147.9 L1183.2,148.2 L1186.7,148.6 L1190.6,149.1 L1194.7,149.6 L1199.0,150.1 L1203.6,150.5 L1208.4,151.0 L1213.3,151.4 L1218.4,151.9 L1223.5,152.3 L1228.8,152.7 L1234.0,153.1 L1239.3,153.5 L1244.6,153.9 L1249.8,154.3 L1255.0,154.6 L1260.1,154.9 L1265.5,155.2 L1271.0,155.4 L1276.5,155.7 L1282.0,155.9 L1287.6,156.0 L1293.3,156.2 L1298.9,156.3 L1304.6,156.4 L1310.3,156.6 L1316.0,156.7 L1321.7,156.8 L1327.4,156.9 L1333.0,157.0 L1338.7,157.1 L1344.4,157.3 L1350.0,157.4 L1350.0,159.4 L1344.3,159.3 L1338.7,159.1 L1333.0,159.0 L1327.3,158.9 L1321.6,158.9 L1315.9,158.8 L1310.2,158.7 L1304.5,158.6 L1298.9,158.5 L1293.2,158.3 L1287.6,158.2 L1282.0,158.0 L1276.4,157.9 L1270.9,157.6 L1265.4,157.4 L1259.9,157.1 L1254.9,156.8 L1249.7,156.5 L1244.5,156.2 L1239.2,155.8 L1233.9,155.5 L1228.6,155.1 L1223.3,154.7 L1218.2,154.3 L1213.1,153.8 L1208.2,153.4 L1203.4,152.9 L1198.8,152.5 L1194.4,152.0 L1190.3,151.6 L1186.4,151.1 L1182.8,150.6 L1181.0,150.4 L1179.3,150.1 L1177.6,149.9 L1176.0,149.6 L1174.5,149.4 L1173.0,149.1 L1171.6,148.9 L1170.2,148.6 L1168.8,148.3 L1167.5,148.1 L1166.2,147.8 L1164.9,147.5 L1163.6,147.2 L1162.3,146.9 L1161.0,146.6 L1159.7,146.3 L1158.5,146.1 L1157.3,145.8 L1156.1,145.5 L1155.0,145.2 L1153.8,144.9 L1152.7,144.6 L1151.6,144.3 L1150.5,143.9 L1149.3,143.6 L1148.2,143.3 L1147.1,143.0 L1146.0,142.7 L1144.9,142.4 L1143.8,142.1 L1142.7,141.8 L1141.6,141.4Z" fill="#6fc61a"/>
<path d="M1037.3,124.3 L1037.7,125.0 L1038.2,125.8 L1038.6,126.6 L1039.0,127.4 L1039.4,128.1 L1039.8,128.9 L1040.2,129.7 L1040.6,130.4 L1041.0,131.2 L1041.4,131.9 L1041.8,132.7 L1042.3,133.4 L1042.7,134.1 L1043.2,134.8 L1043.6,135.5 L1044.1,136.2 L1044.6,136.8 L1045.1,137.5 L1045.6,138.1 L1046.1,138.7 L1046.6,139.4 L1047.2,140.0 L1047.7,140.6 L1048.2,141.2 L1048.8,141.7 L1049.4,142.3 L1050.0,142.9 L1050.6,143.4 L1051.2,144.0 L1051.9,144.6 L1052.6,145.1 L1053.3,145.6 L1054.4,146.3 L1055.5,147.1 L1056.7,147.8 L1058.0,148.5 L1059.3,149.1 L1060.6,149.8 L1062.0,150.5 L1063.5,151.1 L1064.9,151.8 L1066.4,152.4 L1067.9,153.0 L1069.4,153.6 L1070.9,154.2 L1072.4,154.8 L1073.9,155.3 L1075.4,155.9 L1076.9,156.4 L1078.4,157.0 L1079.9,157.5 L1081.4,158.0 L1083.0,158.5 L1084.5,158.9 L1086.0,159.4 L1087.5,159.8 L1089.1,160.3 L1090.7,160.7 L1092.3,161.1 L1094.0,161.5 L1095.7,161.8 L1097.5,162.2 L1099.3,162.6 L1101.2,162.9 L1103.9,163.4 L1106.8,163.8 L1109.9,164.1 L1113.0,164.5 L1116.2,164.8 L1119.5,165.1 L1122.9,165.3 L1126.4,165.5 L1129.8,165.8 L1133.3,166.0 L1136.9,166.2 L1140.4,166.4 L1143.9,166.6 L1147.3,166.9 L1150.7,167.1 L1154.1,167.4 L1153.9,169.4 L1150.6,169.1 L1147.2,168.9 L1143.7,168.7 L1140.2,168.5 L1136.7,168.3 L1133.2,168.1 L1129.7,167.9 L1126.2,167.6 L1122.8,167.4 L1119.4,167.2 L1116.0,166.9 L1112.8,166.6 L1109.6,166.3 L1106.6,165.9 L1103.6,165.5 L1100.8,165.1 L1098.9,164.7 L1097.0,164.4 L1095.3,164.0 L1093.5,163.7 L1091.8,163.3 L1090.1,162.9 L1088.5,162.5 L1086.9,162.1 L1085.3,161.6 L1083.8,161.2 L1082.3,160.7 L1080.7,160.2 L1079.2,159.7 L1077.7,159.2 L1076.1,158.7 L1074.6,158.1 L1073.1,157.6 L1071.6,157.0 L1070.1,156.5 L1068.5,155.9 L1067.0,155.3 L1065.5,154.7 L1064.0,154.1 L1062.5,153.4 L1061.0,152.8 L1059.5,152.1 L1058.1,151.4 L1056.8,150.7 L1055.5,150.0 L1054.2,149.3 L1053.0,148.5 L1051.9,147.8 L1051.1,147.2 L1050.3,146.6 L1049.6,146.0 L1048.8,145.4 L1048.2,144.9 L1047.5,144.3 L1046.9,143.6 L1046.3,143.0 L1045.7,142.4 L1045.1,141.8 L1044.6,141.1 L1044.0,140.5 L1043.5,139.8 L1042.9,139.2 L1042.4,138.5 L1041.9,137.8 L1041.3,137.1 L1040.8,136.4 L1040.3,135.7 L1039.8,134.9 L1039.4,134.1 L1038.9,133.4 L1038.5,132.6 L1038.1,131.8 L1037.6,131.1 L1037.2,130.3 L1036.8,129.5 L1036.4,128.7 L1036.0,128.0 L1035.6,127.2 L1035.1,126.5 L1034.7,125.7Z" fill="#6fc61a"/>
<path d="M808.3,318.3 L809.7,317.7 L811.2,317.1 L812.6,316.6 L814.1,316.0 L815.5,315.5 L816.9,314.9 L818.3,314.4 L819.8,313.8 L821.3,313.3 L822.7,312.7 L824.3,312.1 L825.8,311.5 L827.4,310.9 L829.1,310.3 L830.8,309.6 L832.5,309.0 L835.1,308.0 L837.8,307.0 L840.6,305.9 L843.5,304.8 L846.5,303.7 L849.6,302.5 L852.7,301.3 L855.9,300.1 L859.2,298.8 L862.5,297.6 L865.8,296.4 L869.2,295.2 L872.6,294.0 L876.0,292.9 L879.4,291.7 L882.9,290.7 L886.7,289.5 L890.6,288.3 L894.6,287.1 L898.7,286.0 L902.8,284.8 L907.0,283.7 L911.2,282.6 L915.4,281.5 L919.6,280.4 L923.7,279.4 L927.9,278.4 L931.9,277.4 L935.9,276.5 L939.8,275.6 L943.7,274.8 L947.4,274.0 L950.2,273.4 L953.1,272.9 L955.8,272.4 L958.5,271.9 L961.2,271.4 L963.8,270.9 L966.5,270.5 L969.0,270.1 L971.6,269.7 L974.2,269.4 L976.8,269.0 L979.4,268.7 L982.0,268.4 L984.7,268.1 L987.4,267.8 L990.1,267.5 L993.1,267.3 L996.1,267.0 L999.1,266.8 L1002.1,266.7 L1005.2,266.5 L1008.2,266.4 L1011.3,266.3 L1014.4,266.2 L1017.5,266.1 L1020.5,266.0 L1023.6,266.0 L1026.7,265.9 L1029.7,265.8 L1032.8,265.7 L1035.9,265.6 L1038.9,265.5 L1039.1,268.5 L1036.1,268.8 L1033.0,269.1 L1030.0,269.4 L1026.9,269.6 L1023.8,269.9 L1020.8,270.1 L1017.7,270.4 L1014.6,270.7 L1011.6,271.0 L1008.6,271.2 L1005.6,271.6 L1002.6,271.9 L999.6,272.2 L996.7,272.6 L993.8,273.0 L990.9,273.5 L988.2,273.9 L985.6,274.4 L983.0,274.9 L980.5,275.3 L977.9,275.9 L975.4,276.4 L972.9,276.9 L970.4,277.5 L967.9,278.0 L965.4,278.6 L962.9,279.3 L960.3,279.9 L957.7,280.6 L955.0,281.3 L952.2,282.0 L949.4,282.8 L945.9,283.8 L942.2,284.8 L938.4,285.9 L934.5,287.1 L930.5,288.3 L926.5,289.5 L922.5,290.7 L918.4,292.0 L914.4,293.3 L910.3,294.7 L906.3,296.0 L902.3,297.4 L898.4,298.8 L894.5,300.2 L890.8,301.6 L887.1,302.9 L883.9,304.2 L880.7,305.5 L877.5,306.9 L874.3,308.2 L871.1,309.6 L868.0,311.0 L864.8,312.5 L861.7,313.9 L858.7,315.3 L855.7,316.7 L852.7,318.1 L849.8,319.5 L847.0,320.9 L844.3,322.2 L841.6,323.4 L839.1,324.6 L837.4,325.4 L835.8,326.2 L834.2,326.9 L832.7,327.6 L831.2,328.3 L829.7,329.0 L828.3,329.7 L826.9,330.4 L825.5,331.0 L824.2,331.7 L822.8,332.3 L821.4,333.0 L820.0,333.7 L818.6,334.4 L817.2,335.0 L815.7,335.7Z" fill="#f95915"/>
<path d="M1037.6,266.4 L1038.2,265.1 L1038.7,263.7 L1039.2,262.3 L1039.8,260.9 L1040.3,259.5 L1040.8,258.1 L1041.3,256.7 L1041.9,255.3 L1042.4,253.9 L1043.0,252.5 L1043.5,251.1 L1044.1,249.7 L1044.8,248.3 L1045.4,247.0 L1046.1,245.6 L1046.8,244.3 L1047.5,243.1 L1048.2,241.9 L1048.9,240.7 L1049.6,239.5 L1050.4,238.3 L1051.2,237.1 L1052.0,236.0 L1052.8,234.8 L1053.6,233.7 L1054.4,232.6 L1055.3,231.5 L1056.1,230.4 L1057.0,229.3 L1057.8,228.3 L1058.7,227.2 L1059.6,226.2 L1060.4,225.1 L1061.3,224.1 L1062.1,223.1 L1062.9,222.2 L1063.8,221.2 L1064.7,220.2 L1065.5,219.2 L1066.4,218.3 L1067.3,217.3 L1068.3,216.4 L1069.2,215.5 L1070.2,214.6 L1071.1,213.7 L1072.1,212.8 L1073.2,211.9 L1074.2,211.0 L1075.4,210.1 L1076.6,209.2 L1077.8,208.3 L1079.0,207.3 L1080.3,206.4 L1081.5,205.6 L1082.9,204.7 L1084.2,203.8 L1085.5,203.0 L1086.9,202.2 L1088.3,201.4 L1089.7,200.6 L1091.1,199.9 L1092.6,199.2 L1094.1,198.5 L1095.6,197.9 L1097.2,197.3 L1099.0,196.7 L1100.7,196.2 L1102.5,195.7 L1104.3,195.2 L1106.2,194.8 L1108.0,194.5 L1109.9,194.1 L1111.8,193.8 L1113.7,193.5 L1115.5,193.2 L1117.4,192.9 L1119.3,192.7 L1121.2,192.4 L1123.0,192.2 L1124.9,191.9 L1126.7,191.7 L1128.5,191.5 L1130.3,191.3 L1132.1,191.2 L1134.0,191.0 L1135.8,190.9 L1137.6,190.8 L1139.4,190.7 L1141.2,190.6 L1143.1,190.5 L1144.9,190.5 L1146.7,190.4 L1148.5,190.3 L1150.3,190.2 L1152.1,190.1 L1153.9,190.0 L1154.1,192.0 L1152.2,192.1 L1150.4,192.2 L1148.6,192.3 L1146.8,192.4 L1145.0,192.5 L1143.2,192.6 L1141.3,192.7 L1139.5,192.8 L1137.7,192.9 L1135.9,193.0 L1134.1,193.1 L1132.3,193.3 L1130.5,193.4 L1128.7,193.6 L1126.9,193.8 L1125.1,194.1 L1123.3,194.3 L1121.5,194.6 L1119.6,194.8 L1117.7,195.1 L1115.9,195.4 L1114.0,195.7 L1112.1,196.0 L1110.3,196.3 L1108.5,196.7 L1106.6,197.1 L1104.9,197.5 L1103.1,197.9 L1101.4,198.4 L1099.7,198.9 L1098.0,199.5 L1096.4,200.1 L1095.0,200.7 L1093.6,201.3 L1092.2,202.0 L1090.8,202.7 L1089.4,203.5 L1088.1,204.2 L1086.8,205.0 L1085.5,205.9 L1084.2,206.7 L1082.9,207.6 L1081.7,208.4 L1080.5,209.3 L1079.3,210.2 L1078.1,211.1 L1076.9,212.1 L1075.8,213.0 L1074.8,213.8 L1073.8,214.7 L1072.8,215.5 L1071.9,216.4 L1071.0,217.3 L1070.1,218.2 L1069.2,219.1 L1068.3,220.0 L1067.5,221.0 L1066.6,221.9 L1065.8,222.9 L1064.9,223.9 L1064.1,224.8 L1063.3,225.8 L1062.5,226.8 L1061.6,227.8 L1060.8,228.9 L1059.9,229.9 L1059.1,231.0 L1058.3,232.1 L1057.4,233.2 L1056.6,234.2 L1055.8,235.3 L1055.0,236.4 L1054.3,237.6 L1053.5,238.7 L1052.7,239.8 L1052.0,241.0 L1051.3,242.1 L1050.6,243.3 L1049.9,244.5 L1049.2,245.7 L1048.6,246.9 L1048.0,248.2 L1047.4,249.5 L1046.8,250.8 L1046.2,252.2 L1045.7,253.5 L1045.1,254.9 L1044.6,256.3 L1044.1,257.7 L1043.6,259.1 L1043.1,260.5 L1042.5,261.9 L1042.0,263.3 L1041.5,264.8 L1040.9,266.2 L1040.4,267.6Z" fill="#f95915"/>
<path d="M1037.9,266.0 L1038.9,264.9 L1039.9,263.8 L1040.8,262.8 L1041.8,261.7 L1042.8,260.6 L1043.7,259.5 L1044.7,258.3 L1045.7,257.2 L1046.7,256.1 L1047.7,255.0 L1048.7,254.0 L1049.7,252.9 L1050.8,251.9 L1051.9,250.8 L1053.0,249.9 L1054.1,248.9 L1055.2,248.0 L1056.3,247.1 L1057.5,246.3 L1058.6,245.5 L1059.8,244.7 L1060.9,243.9 L1062.1,243.2 L1063.3,242.4 L1064.5,241.7 L1065.8,241.0 L1067.0,240.3 L1068.2,239.6 L1069.5,238.9 L1070.8,238.2 L1072.1,237.5 L1073.4,236.8 L1074.9,236.0 L1076.4,235.3 L1078.0,234.5 L1079.5,233.8 L1081.2,233.0 L1082.8,232.3 L1084.4,231.6 L1086.1,230.9 L1087.7,230.2 L1089.4,229.5 L1091.1,228.8 L1092.8,228.2 L1094.5,227.6 L1096.2,227.0 L1097.9,226.4 L1099.6,225.8 L1101.3,225.3 L1103.0,224.8 L1104.7,224.3 L1106.4,223.8 L1108.1,223.3 L1109.8,222.9 L1111.5,222.5 L1113.2,222.1 L1115.0,221.7 L1116.7,221.3 L1118.5,220.9 L1120.3,220.6 L1122.1,220.3 L1124.0,219.9 L1125.9,219.6 L1127.8,219.3 L1130.2,219.0 L1132.7,218.7 L1135.2,218.4 L1137.8,218.2 L1140.4,218.0 L1143.0,217.8 L1145.7,217.6 L1148.4,217.4 L1151.1,217.3 L1153.8,217.1 L1156.6,217.0 L1159.3,216.9 L1162.0,216.8 L1164.7,216.7 L1167.3,216.5 L1170.0,216.4 L1172.5,216.3 L1175.1,216.2 L1177.7,216.1 L1180.3,216.1 L1182.8,216.0 L1185.4,215.9 L1187.9,215.9 L1190.5,215.8 L1193.1,215.8 L1195.6,215.8 L1198.2,215.7 L1200.7,215.7 L1203.3,215.6 L1205.9,215.6 L1208.4,215.6 L1211.0,215.5 L1211.0,217.5 L1208.5,217.6 L1205.9,217.6 L1203.3,217.7 L1200.8,217.7 L1198.2,217.8 L1195.7,217.8 L1193.1,217.9 L1190.5,217.9 L1188.0,218.0 L1185.4,218.0 L1182.9,218.1 L1180.3,218.2 L1177.8,218.3 L1175.2,218.4 L1172.6,218.5 L1170.0,218.6 L1167.4,218.7 L1164.8,218.8 L1162.1,219.0 L1159.4,219.1 L1156.7,219.2 L1153.9,219.4 L1151.2,219.5 L1148.5,219.7 L1145.9,219.8 L1143.2,220.0 L1140.6,220.2 L1138.0,220.5 L1135.5,220.7 L1133.0,221.0 L1130.5,221.3 L1128.2,221.7 L1126.3,222.0 L1124.4,222.3 L1122.6,222.6 L1120.8,222.9 L1119.0,223.3 L1117.2,223.6 L1115.5,224.0 L1113.8,224.4 L1112.1,224.8 L1110.4,225.2 L1108.7,225.7 L1107.1,226.1 L1105.4,226.6 L1103.7,227.1 L1102.1,227.6 L1100.4,228.2 L1098.7,228.7 L1097.1,229.3 L1095.4,229.9 L1093.7,230.6 L1092.0,231.2 L1090.4,231.9 L1088.7,232.5 L1087.1,233.2 L1085.5,234.0 L1083.8,234.7 L1082.2,235.4 L1080.7,236.1 L1079.1,236.9 L1077.6,237.7 L1076.1,238.4 L1074.6,239.2 L1073.3,239.9 L1072.0,240.6 L1070.8,241.2 L1069.6,241.9 L1068.3,242.6 L1067.1,243.3 L1065.9,244.0 L1064.8,244.8 L1063.6,245.5 L1062.5,246.2 L1061.3,247.0 L1060.2,247.8 L1059.1,248.6 L1058.0,249.4 L1057.0,250.2 L1055.9,251.1 L1054.8,252.0 L1053.8,252.9 L1052.8,253.9 L1051.8,254.9 L1050.8,256.0 L1049.8,257.0 L1048.8,258.1 L1047.9,259.2 L1046.9,260.3 L1046.0,261.4 L1045.0,262.5 L1044.0,263.6 L1043.1,264.7 L1042.1,265.8 L1041.1,266.9 L1040.1,268.0Z" fill="#f95915"/>
<path d="M1038.5,265.6 L1039.8,265.1 L1041.1,264.7 L1042.4,264.3 L1043.7,263.8 L1045.0,263.4 L1046.3,263.0 L1047.5,262.5 L1048.8,262.1 L1050.1,261.7 L1051.4,261.2 L1052.8,260.8 L1054.1,260.4 L1055.4,259.9 L1056.8,259.5 L1058.2,259.1 L1059.6,258.7 L1061.2,258.2 L1062.8,257.8 L1064.4,257.3 L1066.1,256.8 L1067.7,256.4 L1069.3,255.9 L1071.0,255.4 L1072.7,255.0 L1074.4,254.5 L1076.2,254.1 L1078.0,253.7 L1079.8,253.3 L1081.7,252.9 L1083.7,252.5 L1085.7,252.1 L1087.8,251.8 L1091.0,251.3 L1094.4,250.8 L1097.9,250.4 L1101.5,250.0 L1105.3,249.6 L1109.2,249.3 L1113.1,249.0 L1117.1,248.7 L1121.2,248.4 L1125.3,248.1 L1129.4,247.9 L1133.6,247.7 L1137.7,247.5 L1141.8,247.3 L1145.9,247.1 L1149.9,246.9 L1154.2,246.7 L1158.5,246.6 L1162.8,246.4 L1167.2,246.3 L1171.5,246.3 L1175.9,246.2 L1180.3,246.2 L1184.7,246.2 L1189.1,246.1 L1193.6,246.1 L1198.0,246.1 L1202.4,246.1 L1206.8,246.1 L1211.2,246.1 L1215.6,246.0 L1220.0,246.0 L1220.0,248.0 L1215.6,248.1 L1211.2,248.1 L1206.8,248.1 L1202.4,248.2 L1198.0,248.2 L1193.6,248.2 L1189.1,248.3 L1184.7,248.3 L1180.3,248.3 L1175.9,248.4 L1171.6,248.4 L1167.2,248.5 L1162.9,248.6 L1158.6,248.8 L1154.3,248.9 L1150.1,249.1 L1146.0,249.3 L1142.0,249.5 L1137.8,249.8 L1133.7,250.0 L1129.6,250.2 L1125.4,250.5 L1121.3,250.8 L1117.3,251.0 L1113.3,251.4 L1109.4,251.7 L1105.5,252.0 L1101.8,252.4 L1098.2,252.8 L1094.7,253.3 L1091.4,253.7 L1088.2,254.2 L1086.1,254.6 L1084.2,255.0 L1082.2,255.4 L1080.4,255.8 L1078.5,256.2 L1076.8,256.6 L1075.0,257.1 L1073.3,257.5 L1071.7,258.0 L1070.0,258.4 L1068.4,258.9 L1066.8,259.4 L1065.2,259.9 L1063.6,260.4 L1062.0,260.8 L1060.4,261.3 L1059.0,261.7 L1057.6,262.2 L1056.3,262.6 L1055.0,263.0 L1053.6,263.5 L1052.3,263.9 L1051.0,264.4 L1049.8,264.8 L1048.5,265.3 L1047.2,265.7 L1045.9,266.2 L1044.7,266.6 L1043.4,267.1 L1042.1,267.5 L1040.8,268.0 L1039.5,268.4Z" fill="#f95915"/>
<path d="M1039.2,265.5 L1041.1,265.7 L1043.0,266.0 L1045.0,266.2 L1046.9,266.4 L1048.9,266.7 L1050.8,266.9 L1052.7,267.1 L1054.7,267.4 L1056.6,267.6 L1058.5,267.8 L1060.5,268.1 L1062.4,268.3 L1064.3,268.5 L1066.3,268.7 L1068.2,268.9 L1070.1,269.1 L1072.0,269.3 L1073.9,269.5 L1075.8,269.7 L1077.6,269.9 L1079.4,270.0 L1081.2,270.2 L1083.0,270.4 L1084.8,270.5 L1086.7,270.7 L1088.6,270.8 L1090.5,271.0 L1092.5,271.1 L1094.5,271.3 L1096.6,271.5 L1098.8,271.6 L1101.1,271.8 L1104.6,272.0 L1108.4,272.2 L1112.4,272.4 L1116.5,272.6 L1120.7,272.9 L1125.1,273.1 L1129.5,273.3 L1134.1,273.5 L1138.6,273.7 L1143.2,273.9 L1147.8,274.1 L1152.4,274.3 L1156.9,274.4 L1161.4,274.6 L1165.8,274.7 L1170.0,274.9 L1174.0,275.0 L1178.0,275.1 L1181.9,275.2 L1185.9,275.3 L1189.8,275.4 L1193.7,275.4 L1197.6,275.5 L1201.5,275.6 L1205.4,275.6 L1209.3,275.7 L1213.2,275.7 L1217.0,275.8 L1220.9,275.8 L1224.8,275.9 L1228.7,275.9 L1232.6,276.0 L1232.6,278.0 L1228.7,277.9 L1224.8,277.9 L1220.9,277.9 L1217.0,277.8 L1213.1,277.8 L1209.2,277.8 L1205.4,277.7 L1201.5,277.7 L1197.6,277.6 L1193.7,277.6 L1189.8,277.5 L1185.8,277.5 L1181.9,277.4 L1177.9,277.3 L1174.0,277.2 L1170.0,277.1 L1165.7,277.0 L1161.3,276.9 L1156.8,276.7 L1152.3,276.6 L1147.7,276.4 L1143.1,276.2 L1138.5,276.1 L1134.0,275.9 L1129.4,275.7 L1125.0,275.5 L1120.6,275.3 L1116.3,275.1 L1112.2,274.9 L1108.3,274.7 L1104.5,274.5 L1100.9,274.2 L1098.6,274.1 L1096.5,274.0 L1094.3,273.8 L1092.3,273.7 L1090.3,273.6 L1088.4,273.4 L1086.5,273.3 L1084.6,273.1 L1082.8,273.0 L1081.0,272.9 L1079.2,272.7 L1077.3,272.5 L1075.5,272.4 L1073.7,272.2 L1071.8,272.0 L1069.9,271.9 L1067.9,271.7 L1066.0,271.5 L1064.0,271.3 L1062.1,271.1 L1060.2,270.9 L1058.2,270.7 L1056.3,270.5 L1054.3,270.2 L1052.4,270.0 L1050.5,269.8 L1048.5,269.6 L1046.6,269.4 L1044.6,269.1 L1042.7,268.9 L1040.8,268.7 L1038.8,268.5Z" fill="#f95915"/>
<path d="M1039.7,265.7 L1041.1,266.5 L1042.4,267.2 L1043.6,268.0 L1044.9,268.7 L1046.2,269.5 L1047.5,270.3 L1048.7,271.0 L1050.0,271.8 L1051.3,272.5 L1052.6,273.3 L1053.9,274.0 L1055.2,274.8 L1056.5,275.5 L1057.9,276.3 L1059.3,277.0 L1060.7,277.7 L1062.3,278.6 L1063.9,279.4 L1065.6,280.3 L1067.2,281.1 L1068.9,282.0 L1070.7,282.9 L1072.4,283.7 L1074.1,284.6 L1075.9,285.4 L1077.7,286.2 L1079.4,287.0 L1081.2,287.8 L1083.0,288.6 L1084.8,289.3 L1086.6,290.1 L1088.5,290.7 L1090.4,291.4 L1092.3,292.1 L1094.2,292.8 L1096.1,293.4 L1098.1,294.0 L1100.1,294.6 L1102.0,295.2 L1104.0,295.7 L1106.0,296.3 L1108.1,296.8 L1110.1,297.3 L1112.1,297.8 L1114.1,298.3 L1116.2,298.8 L1118.2,299.3 L1120.3,299.8 L1122.4,300.3 L1124.5,300.7 L1126.6,301.2 L1128.7,301.6 L1130.8,302.0 L1132.8,302.4 L1135.0,302.8 L1137.1,303.2 L1139.2,303.6 L1141.4,303.9 L1143.6,304.3 L1145.8,304.6 L1148.1,304.9 L1150.4,305.3 L1152.7,305.6 L1155.1,305.8 L1158.2,306.2 L1161.4,306.5 L1164.6,306.8 L1168.0,307.0 L1171.4,307.2 L1174.8,307.4 L1178.3,307.6 L1181.9,307.8 L1185.4,308.0 L1189.0,308.1 L1192.5,308.3 L1196.1,308.4 L1199.6,308.5 L1203.1,308.7 L1206.6,308.8 L1210.0,308.9 L1213.3,309.0 L1216.6,309.1 L1219.9,309.2 L1223.1,309.3 L1226.4,309.4 L1229.6,309.5 L1232.9,309.5 L1236.1,309.6 L1239.3,309.6 L1242.6,309.7 L1245.8,309.7 L1249.0,309.8 L1252.3,309.8 L1255.5,309.9 L1258.8,309.9 L1262.0,310.0 L1262.0,312.0 L1258.7,311.9 L1255.5,311.9 L1252.3,311.9 L1249.0,311.8 L1245.8,311.8 L1242.5,311.7 L1239.3,311.7 L1236.1,311.7 L1232.8,311.6 L1229.6,311.6 L1226.3,311.5 L1223.1,311.4 L1219.8,311.4 L1216.5,311.3 L1213.3,311.2 L1210.0,311.1 L1206.5,311.0 L1203.1,310.8 L1199.6,310.7 L1196.0,310.6 L1192.5,310.5 L1188.9,310.4 L1185.3,310.2 L1181.8,310.1 L1178.2,309.9 L1174.7,309.7 L1171.2,309.5 L1167.8,309.3 L1164.5,309.0 L1161.2,308.8 L1158.0,308.5 L1154.9,308.2 L1152.4,307.9 L1150.1,307.6 L1147.7,307.3 L1145.5,307.0 L1143.2,306.7 L1141.0,306.3 L1138.8,306.0 L1136.7,305.6 L1134.5,305.2 L1132.4,304.8 L1130.3,304.4 L1128.2,304.0 L1126.1,303.6 L1124.0,303.1 L1121.9,302.7 L1119.7,302.2 L1117.7,301.8 L1115.6,301.3 L1113.5,300.8 L1111.5,300.3 L1109.5,299.8 L1107.4,299.3 L1105.4,298.8 L1103.4,298.2 L1101.3,297.7 L1099.3,297.1 L1097.3,296.5 L1095.4,295.9 L1093.4,295.3 L1091.4,294.6 L1089.5,293.9 L1087.5,293.3 L1085.7,292.6 L1083.8,291.8 L1082.0,291.1 L1080.2,290.3 L1078.3,289.5 L1076.5,288.7 L1074.7,287.9 L1073.0,287.0 L1071.2,286.2 L1069.4,285.3 L1067.7,284.5 L1066.0,283.6 L1064.3,282.8 L1062.6,281.9 L1061.0,281.1 L1059.3,280.3 L1057.9,279.5 L1056.5,278.8 L1055.2,278.0 L1053.8,277.3 L1052.5,276.5 L1051.1,275.8 L1049.8,275.0 L1048.5,274.3 L1047.3,273.5 L1046.0,272.8 L1044.7,272.0 L1043.4,271.3 L1042.1,270.5 L1040.9,269.8 L1039.6,269.0 L1038.3,268.3Z" fill="#f95915"/>
<path d="M1040.2,266.1 L1041.1,267.2 L1041.9,268.4 L1042.8,269.5 L1043.6,270.7 L1044.4,271.8 L1045.2,273.0 L1046.0,274.1 L1046.9,275.2 L1047.7,276.4 L1048.5,277.5 L1049.4,278.6 L1050.3,279.7 L1051.2,280.8 L1052.1,281.9 L1053.0,283.0 L1054.0,284.0 L1055.2,285.2 L1056.3,286.4 L1057.5,287.5 L1058.7,288.7 L1059.9,289.8 L1061.2,291.0 L1062.5,292.1 L1063.8,293.2 L1065.1,294.4 L1066.5,295.5 L1067.8,296.6 L1069.2,297.7 L1070.6,298.8 L1072.0,299.8 L1073.4,300.9 L1074.8,301.9 L1076.3,303.0 L1077.8,304.1 L1079.3,305.2 L1080.9,306.2 L1082.5,307.3 L1084.1,308.3 L1085.7,309.4 L1087.3,310.4 L1088.9,311.4 L1090.6,312.4 L1092.2,313.4 L1093.9,314.3 L1095.5,315.2 L1097.2,316.1 L1098.9,317.0 L1100.6,317.9 L1102.2,318.7 L1103.9,319.5 L1105.5,320.3 L1107.1,321.1 L1108.8,321.8 L1110.4,322.6 L1112.0,323.3 L1113.7,324.0 L1115.4,324.6 L1117.1,325.3 L1118.9,325.9 L1120.6,326.5 L1122.5,327.1 L1124.4,327.7 L1126.3,328.3 L1128.3,328.9 L1131.0,329.6 L1133.9,330.3 L1136.8,330.9 L1139.8,331.5 L1142.9,332.1 L1146.1,332.6 L1149.3,333.1 L1152.6,333.6 L1155.9,334.1 L1159.3,334.5 L1162.7,335.0 L1166.2,335.4 L1169.6,335.8 L1173.1,336.2 L1176.6,336.5 L1180.1,336.9 L1184.2,337.3 L1188.3,337.7 L1192.5,338.0 L1196.8,338.3 L1201.1,338.6 L1205.5,338.9 L1209.9,339.1 L1214.4,339.3 L1218.8,339.5 L1223.3,339.7 L1227.8,339.9 L1232.3,340.1 L1236.8,340.3 L1241.2,340.5 L1245.7,340.8 L1250.1,341.0 L1249.9,343.0 L1245.6,342.8 L1241.1,342.5 L1236.7,342.3 L1232.2,342.2 L1227.7,342.0 L1223.2,341.8 L1218.8,341.6 L1214.3,341.4 L1209.8,341.2 L1205.4,341.0 L1201.0,340.7 L1196.7,340.5 L1192.4,340.2 L1188.2,339.8 L1184.0,339.5 L1179.9,339.1 L1176.4,338.7 L1172.9,338.3 L1169.4,338.0 L1165.9,337.6 L1162.5,337.2 L1159.0,336.7 L1155.6,336.3 L1152.3,335.8 L1149.0,335.4 L1145.7,334.9 L1142.5,334.3 L1139.4,333.7 L1136.3,333.1 L1133.4,332.5 L1130.5,331.8 L1127.7,331.1 L1125.7,330.6 L1123.7,330.0 L1121.8,329.4 L1119.9,328.8 L1118.1,328.2 L1116.3,327.5 L1114.5,326.9 L1112.8,326.2 L1111.1,325.5 L1109.4,324.8 L1107.8,324.1 L1106.1,323.3 L1104.4,322.5 L1102.8,321.8 L1101.1,320.9 L1099.4,320.1 L1097.7,319.3 L1096.0,318.4 L1094.3,317.5 L1092.6,316.5 L1090.9,315.6 L1089.3,314.6 L1087.6,313.6 L1085.9,312.6 L1084.3,311.6 L1082.6,310.5 L1081.0,309.5 L1079.4,308.4 L1077.8,307.3 L1076.3,306.3 L1074.7,305.2 L1073.2,304.1 L1071.8,303.0 L1070.4,302.0 L1068.9,300.9 L1067.5,299.8 L1066.1,298.7 L1064.7,297.6 L1063.4,296.5 L1062.0,295.3 L1060.7,294.2 L1059.4,293.0 L1058.1,291.9 L1056.8,290.7 L1055.6,289.5 L1054.3,288.4 L1053.1,287.2 L1052.0,286.0 L1050.9,284.9 L1049.9,283.8 L1049.0,282.6 L1048.0,281.5 L1047.1,280.4 L1046.2,279.2 L1045.4,278.1 L1044.5,277.0 L1043.7,275.8 L1042.8,274.7 L1042.0,273.5 L1041.2,272.4 L1040.4,271.3 L1039.5,270.2 L1038.7,269.0 L1037.8,267.9Z" fill="#f95915"/>
<path d="M817.7,328.9 L818.9,329.3 L820.1,329.7 L821.3,330.2 L822.5,330.6 L823.7,331.0 L824.8,331.4 L826.0,331.8 L827.2,332.2 L828.4,332.6 L829.6,333.1 L830.9,333.5 L832.2,334.0 L833.5,334.4 L834.8,334.9 L836.1,335.4 L837.5,335.9 L839.5,336.6 L841.4,337.2 L843.4,338.0 L845.5,338.7 L847.6,339.4 L849.8,340.2 L852.0,341.0 L854.2,341.7 L856.4,342.5 L858.7,343.4 L861.0,344.2 L863.3,345.0 L865.6,345.9 L867.9,346.7 L870.2,347.6 L872.5,348.4 L875.0,349.4 L877.6,350.5 L880.1,351.5 L882.6,352.6 L885.1,353.6 L887.6,354.7 L890.1,355.8 L892.6,356.9 L895.1,358.0 L897.7,359.1 L900.2,360.1 L902.8,361.2 L905.5,362.3 L908.2,363.3 L910.9,364.3 L913.8,365.3 L917.4,366.5 L921.2,367.8 L925.1,369.1 L929.1,370.4 L933.2,371.7 L937.4,373.0 L941.6,374.3 L945.9,375.5 L950.2,376.7 L954.4,377.9 L958.7,379.0 L962.9,380.1 L967.1,381.2 L971.2,382.1 L975.2,383.0 L979.1,383.8 L982.4,384.5 L985.6,385.0 L988.9,385.6 L992.1,386.0 L995.3,386.4 L998.4,386.8 L1001.6,387.2 L1004.8,387.5 L1007.9,387.8 L1011.1,388.1 L1014.2,388.4 L1017.4,388.7 L1020.5,389.0 L1023.7,389.3 L1026.9,389.6 L1030.1,390.0 L1029.9,393.0 L1026.7,392.9 L1023.5,392.8 L1020.3,392.7 L1017.2,392.7 L1014.0,392.6 L1010.8,392.6 L1007.7,392.5 L1004.5,392.5 L1001.3,392.4 L998.0,392.3 L994.8,392.2 L991.5,392.0 L988.2,391.8 L984.8,391.5 L981.4,391.2 L977.9,390.8 L973.9,390.2 L969.7,389.6 L965.5,388.9 L961.2,388.2 L956.8,387.4 L952.4,386.5 L948.0,385.7 L943.6,384.7 L939.2,383.8 L934.8,382.8 L930.5,381.8 L926.2,380.8 L922.1,379.7 L918.0,378.7 L914.1,377.7 L910.2,376.7 L907.2,375.9 L904.2,375.0 L901.3,374.1 L898.5,373.2 L895.7,372.3 L893.0,371.3 L890.3,370.4 L887.7,369.5 L885.1,368.6 L882.5,367.6 L879.9,366.7 L877.4,365.9 L874.9,365.0 L872.5,364.2 L870.0,363.4 L867.5,362.6 L865.2,361.9 L863.0,361.1 L860.7,360.4 L858.3,359.7 L856.1,359.0 L853.8,358.3 L851.5,357.6 L849.2,357.0 L847.0,356.3 L844.8,355.6 L842.6,355.0 L840.5,354.4 L838.4,353.8 L836.4,353.2 L834.4,352.7 L832.5,352.1 L831.1,351.7 L829.7,351.4 L828.4,351.0 L827.1,350.7 L825.8,350.4 L824.6,350.1 L823.3,349.8 L822.1,349.5 L820.9,349.2 L819.7,348.9 L818.5,348.6 L817.3,348.3 L816.0,348.0 L814.8,347.7 L813.5,347.4 L812.3,347.1Z" fill="#b51474"/>
<path d="M1029.6,390.0 L1031.5,389.6 L1033.4,389.1 L1035.2,388.7 L1037.0,388.2 L1038.9,387.7 L1040.7,387.3 L1042.5,386.8 L1044.3,386.4 L1046.2,385.9 L1048.0,385.4 L1049.9,385.0 L1051.8,384.5 L1053.7,384.0 L1055.7,383.6 L1057.7,383.1 L1059.7,382.6 L1062.1,382.1 L1064.5,381.5 L1066.9,380.9 L1069.4,380.3 L1071.9,379.8 L1074.4,379.2 L1077.0,378.6 L1079.5,378.0 L1082.1,377.4 L1084.8,376.8 L1087.4,376.2 L1090.0,375.7 L1092.7,375.2 L1095.4,374.7 L1098.1,374.2 L1100.8,373.7 L1103.7,373.3 L1106.7,372.8 L1109.6,372.4 L1112.6,372.0 L1115.6,371.6 L1118.7,371.3 L1121.7,370.9 L1124.8,370.6 L1127.8,370.3 L1130.9,370.0 L1134.0,369.7 L1137.2,369.4 L1140.3,369.1 L1143.5,368.8 L1146.7,368.6 L1149.9,368.3 L1153.4,368.0 L1157.0,367.7 L1160.5,367.5 L1164.0,367.2 L1167.5,367.0 L1171.0,366.7 L1174.6,366.5 L1178.2,366.3 L1181.8,366.1 L1185.6,365.9 L1189.4,365.7 L1193.3,365.5 L1197.3,365.4 L1201.4,365.2 L1205.6,365.0 L1210.0,364.9 L1216.5,364.7 L1223.4,364.6 L1230.6,364.4 L1238.0,364.3 L1245.7,364.3 L1253.5,364.2 L1261.5,364.2 L1269.7,364.2 L1277.9,364.1 L1286.1,364.1 L1294.4,364.1 L1302.7,364.1 L1310.9,364.1 L1319.1,364.1 L1327.1,364.0 L1335.0,364.0 L1335.0,366.0 L1327.1,366.1 L1319.1,366.1 L1310.9,366.1 L1302.7,366.2 L1294.4,366.2 L1286.1,366.2 L1277.9,366.2 L1269.7,366.3 L1261.5,366.3 L1253.6,366.3 L1245.7,366.4 L1238.1,366.5 L1230.6,366.6 L1223.5,366.7 L1216.6,366.9 L1210.0,367.1 L1205.7,367.3 L1201.5,367.4 L1197.4,367.6 L1193.4,367.8 L1189.5,368.0 L1185.7,368.2 L1182.0,368.4 L1178.3,368.6 L1174.7,368.8 L1171.2,369.0 L1167.6,369.3 L1164.1,369.6 L1160.6,369.8 L1157.1,370.1 L1153.6,370.4 L1150.1,370.7 L1146.9,371.0 L1143.7,371.3 L1140.5,371.5 L1137.4,371.8 L1134.3,372.1 L1131.2,372.4 L1128.1,372.8 L1125.0,373.1 L1122.0,373.4 L1119.0,373.8 L1115.9,374.1 L1113.0,374.5 L1110.0,374.9 L1107.1,375.4 L1104.1,375.8 L1101.2,376.3 L1098.5,376.7 L1095.9,377.2 L1093.2,377.8 L1090.6,378.3 L1087.9,378.8 L1085.3,379.4 L1082.7,380.0 L1080.1,380.6 L1077.6,381.2 L1075.0,381.8 L1072.5,382.4 L1070.0,383.0 L1067.5,383.6 L1065.1,384.2 L1062.7,384.8 L1060.3,385.4 L1058.3,385.8 L1056.4,386.3 L1054.4,386.8 L1052.5,387.3 L1050.6,387.7 L1048.7,388.2 L1046.9,388.7 L1045.1,389.2 L1043.2,389.6 L1041.4,390.1 L1039.6,390.6 L1037.8,391.1 L1035.9,391.5 L1034.1,392.0 L1032.2,392.5 L1030.4,393.0Z" fill="#b51474"/>
<path d="M1030.4,390.1 L1032.3,390.6 L1034.1,391.1 L1036.0,391.7 L1037.8,392.2 L1039.6,392.8 L1041.4,393.3 L1043.3,393.9 L1045.1,394.4 L1046.9,394.9 L1048.8,395.5 L1050.6,396.0 L1052.5,396.6 L1054.4,397.1 L1056.4,397.6 L1058.3,398.1 L1060.3,398.6 L1062.7,399.2 L1065.1,399.9 L1067.5,400.5 L1070.0,401.1 L1072.5,401.7 L1075.0,402.3 L1077.6,402.9 L1080.1,403.5 L1082.7,404.1 L1085.3,404.7 L1087.9,405.2 L1090.6,405.8 L1093.2,406.3 L1095.9,406.8 L1098.5,407.3 L1101.2,407.7 L1104.1,408.2 L1107.0,408.6 L1110.0,409.0 L1112.9,409.4 L1115.9,409.7 L1118.9,410.0 L1122.0,410.3 L1125.0,410.6 L1128.1,410.9 L1131.2,411.2 L1134.3,411.5 L1137.4,411.7 L1140.5,412.0 L1143.7,412.3 L1146.9,412.5 L1150.1,412.8 L1153.7,413.1 L1157.2,413.4 L1160.8,413.7 L1164.3,414.0 L1167.9,414.3 L1171.6,414.6 L1175.2,414.9 L1178.9,415.1 L1182.6,415.4 L1186.3,415.6 L1190.1,415.9 L1194.0,416.1 L1197.9,416.3 L1201.9,416.5 L1205.9,416.7 L1210.0,416.9 L1215.3,417.1 L1220.7,417.2 L1226.3,417.4 L1232.0,417.5 L1237.7,417.6 L1243.6,417.6 L1249.5,417.7 L1255.5,417.7 L1261.5,417.8 L1267.6,417.8 L1273.7,417.8 L1279.7,417.8 L1285.8,417.9 L1291.8,417.9 L1297.7,417.9 L1303.6,418.0 L1303.6,420.0 L1297.7,420.0 L1291.8,419.9 L1285.7,419.9 L1279.7,419.9 L1273.6,419.9 L1267.6,419.9 L1261.5,419.8 L1255.5,419.8 L1249.5,419.8 L1243.6,419.8 L1237.7,419.7 L1231.9,419.6 L1226.2,419.5 L1220.7,419.4 L1215.2,419.3 L1210.0,419.1 L1205.8,418.9 L1201.8,418.8 L1197.8,418.6 L1193.9,418.4 L1190.0,418.1 L1186.2,417.9 L1182.4,417.7 L1178.7,417.4 L1175.0,417.2 L1171.4,416.9 L1167.8,416.6 L1164.2,416.4 L1160.6,416.1 L1157.0,415.8 L1153.5,415.5 L1149.9,415.2 L1146.7,414.9 L1143.5,414.7 L1140.3,414.4 L1137.2,414.2 L1134.1,413.9 L1130.9,413.7 L1127.8,413.4 L1124.8,413.1 L1121.7,412.9 L1118.7,412.6 L1115.7,412.2 L1112.6,411.9 L1109.7,411.5 L1106.7,411.1 L1103.7,410.7 L1100.8,410.3 L1098.1,409.8 L1095.4,409.4 L1092.7,408.9 L1090.0,408.4 L1087.4,407.8 L1084.8,407.3 L1082.1,406.7 L1079.5,406.1 L1077.0,405.5 L1074.4,405.0 L1071.9,404.4 L1069.4,403.7 L1066.9,403.1 L1064.4,402.5 L1062.0,401.9 L1059.7,401.4 L1057.6,400.8 L1055.7,400.3 L1053.7,399.8 L1051.8,399.3 L1049.9,398.8 L1048.0,398.2 L1046.1,397.7 L1044.3,397.2 L1042.4,396.7 L1040.6,396.1 L1038.8,395.6 L1037.0,395.1 L1035.1,394.5 L1033.3,394.0 L1031.5,393.5 L1029.6,392.9Z" fill="#b51474"/>
<path d="M822.6,344.8 L823.4,346.0 L824.3,347.2 L825.2,348.4 L826.0,349.6 L826.9,350.7 L827.7,351.9 L828.6,353.1 L829.4,354.3 L830.2,355.4 L831.0,356.5 L831.8,357.6 L832.5,358.7 L833.3,359.7 L834.0,360.7 L834.6,361.6 L835.3,362.6 L835.9,363.1 L836.5,363.6 L837.0,364.1 L837.6,364.6 L838.2,365.0 L838.7,365.5 L839.3,366.0 L839.9,366.5 L840.6,366.9 L841.2,367.4 L841.8,367.9 L842.5,368.5 L843.2,369.0 L843.9,369.6 L844.6,370.2 L845.3,370.8 L846.0,371.4 L846.7,372.0 L847.5,372.6 L848.2,373.2 L848.9,373.8 L849.6,374.4 L850.4,375.0 L851.1,375.6 L851.8,376.2 L852.5,376.8 L853.3,377.4 L854.0,378.1 L854.7,378.7 L855.4,379.3 L856.1,380.0 L856.8,380.6 L857.6,381.2 L858.3,381.9 L859.1,382.6 L859.8,383.2 L860.5,383.9 L861.2,384.6 L862.0,385.2 L862.7,385.9 L863.4,386.6 L864.1,387.3 L864.8,387.9 L865.5,388.6 L866.3,389.3 L867.0,390.0 L867.7,390.6 L868.4,391.3 L869.1,392.0 L869.8,392.7 L870.5,393.4 L871.1,394.1 L871.8,394.8 L872.4,395.5 L873.1,396.2 L873.7,396.9 L874.4,397.6 L875.1,398.3 L875.7,399.0 L876.4,399.7 L877.1,400.4 L877.8,401.1 L878.6,401.9 L879.3,402.6 L880.4,403.7 L881.6,404.9 L882.8,406.1 L884.1,407.3 L885.4,408.6 L886.8,409.9 L888.2,411.2 L889.6,412.6 L891.0,413.9 L892.4,415.3 L893.9,416.7 L895.3,418.0 L896.6,419.4 L898.0,420.7 L899.3,422.0 L900.6,423.2 L901.6,424.3 L902.6,425.4 L903.6,426.4 L904.5,427.5 L905.5,428.5 L906.4,429.5 L907.3,430.5 L908.2,431.5 L909.0,432.5 L909.9,433.4 L910.8,434.4 L911.6,435.3 L912.5,436.2 L913.3,437.2 L914.2,438.1 L915.0,439.0 L915.9,439.9 L916.8,440.8 L917.7,441.7 L918.6,442.6 L919.5,443.5 L920.3,444.4 L921.2,445.3 L922.1,446.2 L923.0,447.1 L923.9,448.0 L924.8,448.8 L925.7,449.7 L926.6,450.5 L927.4,451.4 L928.3,452.2 L929.2,453.1 L930.1,453.8 L931.0,454.6 L931.8,455.4 L932.7,456.1 L933.6,456.9 L934.5,457.6 L935.4,458.4 L936.3,459.1 L937.2,459.9 L938.1,460.6 L939.1,461.4 L940.0,462.2 L940.9,462.9 L941.9,463.7 L942.8,464.5 L943.8,465.3 L944.8,466.2 L945.7,467.1 L946.7,467.9 L947.7,468.8 L948.6,469.6 L949.6,470.5 L950.6,471.3 L951.5,472.2 L952.5,473.1 L953.5,474.0 L954.4,474.8 L955.4,475.7 L956.4,476.6 L957.4,477.5 L958.4,478.4 L959.4,479.3 L960.5,480.3 L961.5,481.3 L962.6,482.4 L963.7,483.4 L964.8,484.4 L965.8,485.5 L966.9,486.5 L968.0,487.6 L969.0,488.6 L970.1,489.6 L971.1,490.6 L972.2,491.5 L973.3,492.5 L974.3,493.4 L975.3,494.3 L976.4,495.1 L977.4,495.9 L978.5,496.6 L979.5,497.3 L980.6,498.0 L981.7,498.7 L982.7,499.4 L983.8,500.0 L984.9,500.7 L986.0,501.3 L987.1,501.9 L988.2,502.6 L989.3,503.2 L990.4,503.8 L991.5,504.4 L992.6,505.0 L993.7,505.6 L994.8,506.1 L995.9,506.7 L996.9,507.3 L998.0,507.8 L999.1,508.3 L1000.2,508.9 L1001.3,509.4 L1002.3,509.9 L1003.4,510.4 L1004.5,510.9 L1005.6,511.4 L1006.7,511.9 L1007.8,512.4 L1008.9,512.8 L1010.0,513.3 L1011.1,513.8 L1012.2,514.2 L1013.3,514.6 L1014.4,515.1 L1015.5,515.5 L1016.5,515.9 L1017.6,516.3 L1018.7,516.7 L1019.8,517.1 L1020.9,517.5 L1022.0,517.9 L1023.1,518.3 L1024.2,518.6 L1025.3,519.0 L1026.4,519.4 L1027.6,519.7 L1028.7,520.1 L1029.8,520.4 L1030.9,520.8 L1032.0,521.1 L1033.1,521.4 L1034.2,521.7 L1035.3,522.0 L1036.4,522.3 L1037.5,522.6 L1038.6,522.9 L1039.7,523.2 L1040.8,523.5 L1042.0,523.7 L1043.1,524.0 L1044.2,524.3 L1045.3,524.6 L1046.4,524.8 L1047.5,525.1 L1048.7,525.4 L1049.8,525.6 L1050.9,525.9 L1052.0,526.2 L1053.2,526.4 L1054.3,526.7 L1055.4,526.9 L1056.5,527.2 L1057.7,527.4 L1058.8,527.6 L1059.9,527.9 L1061.0,528.1 L1062.1,528.3 L1063.2,528.5 L1064.2,528.7 L1065.2,528.9 L1066.1,529.0 L1067.1,529.1 L1068.0,529.2 L1069.0,529.4 L1069.9,529.5 L1070.8,529.6 L1071.7,529.7 L1072.7,529.8 L1073.6,529.9 L1074.5,530.0 L1075.4,530.1 L1076.4,530.2 L1077.3,530.3 L1078.2,530.4 L1079.2,530.5 L1078.8,533.5 L1077.9,533.4 L1077.0,533.3 L1076.0,533.2 L1075.1,533.1 L1074.2,533.0 L1073.3,532.9 L1072.3,532.8 L1071.4,532.7 L1070.5,532.6 L1069.5,532.5 L1068.6,532.3 L1067.7,532.2 L1066.7,532.1 L1065.7,532.0 L1064.8,531.8 L1063.8,531.7 L1062.7,531.5 L1061.6,531.4 L1060.5,531.2 L1059.3,531.1 L1058.2,530.9 L1057.1,530.7 L1055.9,530.6 L1054.8,530.4 L1053.6,530.2 L1052.5,530.0 L1051.3,529.8 L1050.2,529.6 L1049.0,529.4 L1047.9,529.2 L1046.7,529.0 L1045.6,528.8 L1044.4,528.5 L1043.3,528.3 L1042.2,528.1 L1041.0,527.9 L1039.9,527.7 L1038.7,527.4 L1037.6,527.2 L1036.5,527.0 L1035.3,526.7 L1034.2,526.5 L1033.0,526.2 L1031.9,526.0 L1030.8,525.7 L1029.6,525.5 L1028.5,525.2 L1027.3,524.9 L1026.2,524.6 L1025.0,524.4 L1023.9,524.1 L1022.7,523.8 L1021.6,523.5 L1020.4,523.2 L1019.3,522.9 L1018.1,522.6 L1017.0,522.3 L1015.8,522.0 L1014.6,521.6 L1013.5,521.3 L1012.3,520.9 L1011.2,520.6 L1010.0,520.2 L1008.9,519.8 L1007.7,519.4 L1006.5,519.0 L1005.4,518.6 L1004.2,518.2 L1003.0,517.8 L1001.9,517.3 L1000.7,516.9 L999.5,516.4 L998.4,516.0 L997.2,515.5 L996.1,515.0 L994.9,514.5 L993.7,514.0 L992.6,513.5 L991.4,513.0 L990.3,512.4 L989.1,511.9 L987.9,511.3 L986.8,510.7 L985.6,510.1 L984.4,509.5 L983.3,508.9 L982.1,508.2 L980.9,507.6 L979.7,506.9 L978.6,506.3 L977.4,505.6 L976.2,504.9 L975.1,504.2 L973.9,503.4 L972.8,502.7 L971.6,501.9 L970.3,501.1 L969.1,500.2 L967.8,499.3 L966.6,498.4 L965.4,497.5 L964.2,496.5 L962.9,495.6 L961.8,494.6 L960.6,493.7 L959.4,492.7 L958.2,491.8 L957.1,490.8 L956.0,489.9 L954.8,489.0 L953.7,488.2 L952.6,487.3 L951.6,486.5 L950.5,485.7 L949.5,484.9 L948.4,484.1 L947.4,483.3 L946.4,482.5 L945.3,481.7 L944.3,480.9 L943.3,480.1 L942.3,479.3 L941.3,478.5 L940.2,477.7 L939.2,477.0 L938.2,476.2 L937.2,475.4 L936.2,474.7 L935.3,473.9 L934.3,473.2 L933.4,472.5 L932.4,471.8 L931.5,471.1 L930.5,470.4 L929.6,469.7 L928.6,469.0 L927.6,468.2 L926.7,467.5 L925.7,466.8 L924.7,466.0 L923.7,465.3 L922.7,464.5 L921.8,463.7 L920.8,462.9 L919.8,462.1 L918.8,461.3 L917.8,460.5 L916.8,459.7 L915.8,458.8 L914.8,458.0 L913.8,457.2 L912.8,456.3 L911.8,455.5 L910.8,454.6 L909.8,453.7 L908.9,452.9 L907.9,452.0 L906.9,451.2 L905.9,450.3 L905.0,449.4 L903.9,448.5 L902.9,447.6 L902.0,446.6 L901.0,445.7 L900.0,444.8 L899.1,443.9 L898.1,443.0 L897.2,442.1 L896.2,441.1 L895.3,440.2 L894.3,439.3 L893.4,438.4 L892.4,437.5 L891.4,436.6 L890.5,435.7 L889.4,434.8 L888.2,433.6 L886.9,432.5 L885.6,431.3 L884.2,430.0 L882.7,428.8 L881.3,427.5 L879.8,426.3 L878.3,425.0 L876.9,423.7 L875.4,422.5 L874.0,421.2 L872.5,420.0 L871.2,418.8 L869.8,417.6 L868.5,416.5 L867.3,415.4 L866.4,414.6 L865.6,413.8 L864.8,413.1 L864.0,412.4 L863.3,411.7 L862.5,411.0 L861.8,410.3 L861.1,409.7 L860.4,409.0 L859.7,408.4 L859.0,407.8 L858.4,407.2 L857.7,406.6 L857.0,405.9 L856.3,405.3 L855.6,404.7 L854.9,404.0 L854.2,403.4 L853.5,402.7 L852.8,402.0 L852.1,401.4 L851.4,400.7 L850.7,400.1 L850.1,399.4 L849.4,398.8 L848.7,398.2 L848.0,397.5 L847.3,396.9 L846.6,396.3 L845.9,395.6 L845.2,395.0 L844.6,394.4 L843.9,393.8 L843.2,393.2 L842.5,392.6 L841.8,392.0 L841.2,391.4 L840.5,390.9 L839.8,390.3 L839.1,389.7 L838.4,389.1 L837.8,388.5 L837.1,388.0 L836.4,387.4 L835.7,386.8 L835.0,386.3 L834.4,385.7 L833.7,385.2 L833.1,384.8 L832.5,384.4 L831.9,383.9 L831.3,383.5 L830.7,383.1 L830.1,382.7 L829.4,382.3 L828.8,381.8 L828.1,381.4 L827.4,380.9 L826.6,380.4 L825.9,379.8 L825.1,379.3 L824.3,378.7 L823.5,378.1 L822.7,377.4 L821.5,376.8 L820.3,376.1 L819.1,375.3 L817.9,374.6 L816.6,373.8 L815.4,373.0 L814.2,372.2 L813.0,371.4 L811.7,370.6 L810.5,369.8 L809.3,369.0 L808.1,368.2 L806.9,367.4 L805.7,366.7 L804.6,365.9 L803.4,365.2Z" fill="#1e1a93"/>
<path d="M1077.9,531.0 L1079.2,529.5 L1080.5,528.0 L1081.8,526.5 L1083.1,525.0 L1084.4,523.5 L1085.7,522.0 L1087.0,520.4 L1088.3,518.9 L1089.6,517.4 L1090.9,515.9 L1092.2,514.4 L1093.5,512.9 L1094.9,511.4 L1096.2,509.9 L1097.6,508.5 L1099.0,507.0 L1100.3,505.6 L1101.7,504.2 L1103.0,502.7 L1104.3,501.3 L1105.6,499.9 L1107.0,498.5 L1108.3,497.1 L1109.7,495.6 L1111.1,494.2 L1112.5,492.9 L1114.0,491.5 L1115.5,490.1 L1117.0,488.8 L1118.6,487.5 L1120.2,486.2 L1121.9,484.9 L1123.9,483.5 L1126.0,482.1 L1128.2,480.7 L1130.4,479.3 L1132.6,477.9 L1134.9,476.6 L1137.3,475.3 L1139.7,474.0 L1142.1,472.8 L1144.5,471.5 L1147.0,470.3 L1149.5,469.2 L1152.0,468.0 L1154.5,466.9 L1157.0,465.9 L1159.5,464.8 L1162.2,463.8 L1164.8,462.8 L1167.5,461.8 L1170.1,460.9 L1172.8,460.0 L1175.4,459.2 L1178.1,458.4 L1180.9,457.6 L1183.7,456.8 L1186.5,456.1 L1189.4,455.4 L1192.4,454.6 L1195.5,453.9 L1198.6,453.2 L1201.9,452.6 L1205.3,451.9 L1210.4,450.8 L1215.9,449.9 L1221.7,448.9 L1227.8,447.9 L1234.0,447.0 L1240.4,446.1 L1247.0,445.3 L1253.6,444.4 L1260.3,443.6 L1266.9,442.9 L1273.6,442.2 L1280.1,441.5 L1286.5,440.9 L1292.8,440.4 L1298.8,439.9 L1304.6,439.4 L1309.3,439.1 L1313.9,438.9 L1318.4,438.7 L1322.8,438.5 L1327.2,438.4 L1331.6,438.3 L1335.8,438.2 L1340.1,438.2 L1344.3,438.2 L1348.5,438.2 L1352.7,438.2 L1357.0,438.2 L1361.2,438.2 L1365.4,438.1 L1369.7,438.1 L1374.0,438.0 L1374.0,440.0 L1369.7,440.1 L1365.4,440.1 L1361.2,440.2 L1357.0,440.2 L1352.8,440.2 L1348.5,440.2 L1344.3,440.3 L1340.1,440.3 L1335.9,440.3 L1331.6,440.4 L1327.3,440.5 L1322.9,440.6 L1318.5,440.8 L1314.0,441.0 L1309.4,441.3 L1304.8,441.6 L1299.0,442.0 L1293.0,442.5 L1286.7,443.1 L1280.3,443.7 L1273.8,444.4 L1267.2,445.1 L1260.5,445.9 L1253.9,446.7 L1247.3,447.5 L1240.8,448.4 L1234.4,449.3 L1228.1,450.2 L1222.1,451.2 L1216.3,452.1 L1210.9,453.1 L1205.7,454.1 L1202.4,454.8 L1199.1,455.5 L1196.0,456.2 L1192.9,457.0 L1190.0,457.7 L1187.1,458.4 L1184.3,459.2 L1181.5,459.9 L1178.8,460.7 L1176.2,461.5 L1173.5,462.4 L1170.9,463.2 L1168.3,464.2 L1165.7,465.1 L1163.1,466.1 L1160.5,467.2 L1158.0,468.2 L1155.5,469.3 L1153.0,470.4 L1150.5,471.5 L1148.1,472.7 L1145.7,473.8 L1143.2,475.1 L1140.9,476.3 L1138.5,477.6 L1136.2,478.9 L1134.0,480.2 L1131.7,481.5 L1129.6,482.9 L1127.5,484.3 L1125.5,485.7 L1123.5,487.1 L1121.9,488.3 L1120.3,489.6 L1118.7,490.9 L1117.3,492.2 L1115.8,493.5 L1114.4,494.8 L1113.0,496.2 L1111.7,497.6 L1110.3,499.0 L1109.0,500.4 L1107.7,501.8 L1106.4,503.2 L1105.0,504.6 L1103.7,506.1 L1102.4,507.5 L1101.0,509.0 L1099.7,510.4 L1098.3,511.9 L1097.0,513.3 L1095.7,514.8 L1094.4,516.3 L1093.1,517.8 L1091.8,519.3 L1090.5,520.8 L1089.2,522.3 L1087.9,523.9 L1086.6,525.4 L1085.3,526.9 L1084.0,528.4 L1082.7,530.0 L1081.4,531.5 L1080.1,533.0Z" fill="#1e1a93"/>
<path d="M1078.1,530.8 L1079.4,529.8 L1080.7,528.8 L1082.0,527.8 L1083.3,526.8 L1084.6,525.8 L1085.9,524.7 L1087.2,523.7 L1088.5,522.7 L1089.8,521.7 L1091.1,520.7 L1092.4,519.7 L1093.8,518.7 L1095.1,517.7 L1096.5,516.7 L1097.8,515.8 L1099.2,514.8 L1100.6,513.9 L1101.9,513.0 L1103.2,512.1 L1104.5,511.3 L1105.8,510.4 L1107.2,509.5 L1108.5,508.6 L1109.9,507.8 L1111.2,506.9 L1112.7,506.1 L1114.1,505.3 L1115.6,504.5 L1117.2,503.7 L1118.8,503.0 L1120.5,502.2 L1122.2,501.5 L1124.8,500.5 L1127.5,499.6 L1130.3,498.7 L1133.2,497.8 L1136.3,497.0 L1139.4,496.2 L1142.5,495.4 L1145.8,494.7 L1149.1,493.9 L1152.4,493.3 L1155.7,492.6 L1159.0,492.0 L1162.3,491.4 L1165.5,490.8 L1168.7,490.3 L1171.8,489.8 L1174.8,489.4 L1177.9,489.0 L1180.9,488.6 L1183.9,488.3 L1186.9,488.0 L1189.9,487.7 L1192.9,487.5 L1195.9,487.3 L1198.9,487.1 L1201.9,486.9 L1204.9,486.7 L1207.9,486.6 L1210.9,486.4 L1213.9,486.2 L1216.9,486.1 L1219.9,485.9 L1222.9,485.7 L1225.9,485.6 L1228.9,485.4 L1231.9,485.3 L1234.9,485.2 L1237.9,485.0 L1240.8,484.9 L1243.8,484.8 L1246.8,484.7 L1249.8,484.6 L1252.8,484.5 L1255.7,484.4 L1258.7,484.3 L1261.7,484.2 L1264.7,484.1 L1267.7,484.0 L1267.7,486.0 L1264.8,486.1 L1261.8,486.2 L1258.8,486.4 L1255.8,486.5 L1252.8,486.6 L1249.9,486.7 L1246.9,486.8 L1243.9,486.9 L1240.9,487.0 L1237.9,487.2 L1235.0,487.3 L1232.0,487.4 L1229.0,487.6 L1226.0,487.7 L1223.0,487.9 L1220.1,488.1 L1217.1,488.3 L1214.1,488.5 L1211.1,488.6 L1208.1,488.8 L1205.1,489.0 L1202.1,489.2 L1199.1,489.4 L1196.1,489.6 L1193.1,489.8 L1190.1,490.0 L1187.1,490.3 L1184.1,490.6 L1181.1,490.9 L1178.2,491.3 L1175.2,491.7 L1172.2,492.2 L1169.1,492.7 L1165.9,493.2 L1162.7,493.8 L1159.4,494.4 L1156.1,495.0 L1152.9,495.7 L1149.6,496.4 L1146.3,497.1 L1143.1,497.8 L1140.0,498.6 L1136.9,499.4 L1133.9,500.3 L1131.0,501.1 L1128.3,502.0 L1125.7,503.0 L1123.2,503.9 L1121.5,504.6 L1119.9,505.3 L1118.3,506.1 L1116.8,506.9 L1115.4,507.6 L1114.0,508.4 L1112.6,509.2 L1111.3,510.1 L1110.0,510.9 L1108.7,511.8 L1107.4,512.6 L1106.1,513.5 L1104.8,514.4 L1103.5,515.3 L1102.1,516.2 L1100.8,517.2 L1099.4,518.1 L1098.1,519.0 L1096.8,520.0 L1095.5,521.0 L1094.2,521.9 L1092.9,522.9 L1091.6,524.0 L1090.3,525.0 L1089.0,526.0 L1087.7,527.0 L1086.4,528.1 L1085.1,529.1 L1083.8,530.1 L1082.5,531.2 L1081.2,532.2 L1079.9,533.2Z" fill="#1e1a93"/>
<path d="M1078.8,530.5 L1082.5,530.0 L1086.2,529.5 L1089.8,529.0 L1093.4,528.5 L1097.0,527.9 L1100.6,527.4 L1104.2,526.9 L1107.8,526.4 L1111.5,525.9 L1115.2,525.4 L1118.9,524.9 L1122.7,524.4 L1126.6,523.9 L1130.6,523.5 L1134.7,523.1 L1138.9,522.7 L1144.4,522.2 L1150.0,521.8 L1155.8,521.3 L1161.7,521.0 L1167.7,520.6 L1173.8,520.3 L1179.9,519.9 L1186.2,519.6 L1192.6,519.4 L1199.0,519.1 L1205.5,518.9 L1212.0,518.6 L1218.6,518.4 L1225.2,518.2 L1231.8,518.0 L1238.5,517.8 L1246.2,517.6 L1254.1,517.5 L1262.2,517.4 L1270.3,517.3 L1278.5,517.2 L1286.8,517.1 L1295.1,517.1 L1303.6,517.1 L1312.0,517.1 L1320.5,517.1 L1329.0,517.1 L1337.4,517.1 L1345.9,517.1 L1354.3,517.1 L1362.7,517.0 L1371.0,517.0 L1371.0,519.0 L1362.7,519.1 L1354.3,519.1 L1345.9,519.1 L1337.4,519.2 L1329.0,519.2 L1320.5,519.2 L1312.0,519.2 L1303.6,519.3 L1295.2,519.3 L1286.8,519.4 L1278.5,519.4 L1270.3,519.5 L1262.2,519.6 L1254.2,519.8 L1246.3,520.0 L1238.5,520.2 L1231.9,520.4 L1225.2,520.6 L1218.6,520.8 L1212.1,521.0 L1205.5,521.3 L1199.1,521.6 L1192.7,521.8 L1186.3,522.1 L1180.1,522.5 L1173.9,522.8 L1167.8,523.2 L1161.8,523.5 L1156.0,523.9 L1150.2,524.4 L1144.6,524.8 L1139.1,525.3 L1135.0,525.7 L1130.9,526.2 L1127.0,526.6 L1123.1,527.1 L1119.3,527.6 L1115.6,528.1 L1111.9,528.6 L1108.2,529.2 L1104.6,529.7 L1101.0,530.3 L1097.4,530.8 L1093.9,531.4 L1090.2,531.9 L1086.6,532.4 L1082.9,533.0 L1079.2,533.5Z" fill="#1e1a93"/>
<path d="M1079.4,530.6 L1081.4,531.1 L1083.3,531.7 L1085.2,532.3 L1087.2,532.9 L1089.1,533.5 L1091.1,534.1 L1093.0,534.7 L1095.0,535.3 L1096.9,535.9 L1098.8,536.4 L1100.8,537.0 L1102.7,537.6 L1104.6,538.1 L1106.5,538.6 L1108.4,539.2 L1110.3,539.7 L1112.2,540.1 L1113.9,540.6 L1115.7,541.1 L1117.4,541.5 L1119.1,542.0 L1120.8,542.4 L1122.5,542.9 L1124.2,543.3 L1125.9,543.7 L1127.6,544.1 L1129.4,544.5 L1131.2,544.8 L1133.1,545.2 L1135.1,545.5 L1137.1,545.9 L1139.2,546.2 L1142.3,546.6 L1145.6,546.9 L1149.0,547.2 L1152.5,547.5 L1156.0,547.8 L1159.7,548.0 L1163.5,548.2 L1167.4,548.3 L1171.3,548.5 L1175.3,548.6 L1179.3,548.8 L1183.4,548.9 L1187.5,549.0 L1191.7,549.1 L1195.9,549.2 L1200.0,549.4 L1205.2,549.5 L1210.4,549.7 L1215.8,549.8 L1221.3,549.9 L1226.8,549.9 L1232.5,550.0 L1238.2,550.0 L1243.9,550.1 L1249.7,550.1 L1255.5,550.2 L1261.3,550.2 L1267.1,550.2 L1272.9,550.3 L1278.6,550.3 L1284.4,550.3 L1290.0,550.4 L1290.0,552.4 L1284.3,552.4 L1278.6,552.3 L1272.9,552.3 L1267.1,552.3 L1261.3,552.3 L1255.5,552.2 L1249.7,552.2 L1243.9,552.2 L1238.2,552.2 L1232.5,552.1 L1226.8,552.1 L1221.3,552.0 L1215.8,552.0 L1210.4,551.9 L1205.1,551.8 L1200.0,551.6 L1195.8,551.5 L1191.6,551.4 L1187.5,551.3 L1183.3,551.2 L1179.3,551.1 L1175.2,551.0 L1171.2,550.9 L1167.3,550.7 L1163.4,550.6 L1159.6,550.4 L1155.9,550.2 L1152.3,549.9 L1148.7,549.7 L1145.3,549.4 L1142.0,549.0 L1138.8,548.6 L1136.7,548.3 L1134.6,548.0 L1132.7,547.7 L1130.7,547.4 L1128.9,547.0 L1127.1,546.6 L1125.3,546.2 L1123.5,545.8 L1121.8,545.4 L1120.1,545.0 L1118.4,544.6 L1116.7,544.1 L1115.0,543.7 L1113.2,543.2 L1111.5,542.8 L1109.7,542.3 L1107.7,541.8 L1105.8,541.3 L1103.9,540.8 L1101.9,540.3 L1100.0,539.7 L1098.0,539.2 L1096.1,538.6 L1094.1,538.0 L1092.2,537.4 L1090.2,536.9 L1088.3,536.3 L1086.3,535.7 L1084.4,535.1 L1082.5,534.6 L1080.5,534.0 L1078.6,533.4Z" fill="#1e1a93"/>
<path d="M1079.9,530.8 L1081.2,531.7 L1082.5,532.7 L1083.8,533.7 L1085.1,534.6 L1086.4,535.6 L1087.7,536.6 L1089.0,537.5 L1090.3,538.5 L1091.5,539.5 L1092.8,540.4 L1094.1,541.4 L1095.4,542.3 L1096.8,543.2 L1098.1,544.1 L1099.4,544.9 L1100.7,545.8 L1102.1,546.6 L1103.4,547.4 L1104.8,548.2 L1106.1,549.0 L1107.5,549.8 L1108.8,550.6 L1110.2,551.3 L1111.6,552.1 L1113.0,552.8 L1114.4,553.5 L1115.8,554.2 L1117.2,555.0 L1118.7,555.7 L1120.2,556.4 L1121.7,557.1 L1123.2,557.8 L1125.1,558.6 L1126.9,559.4 L1128.8,560.2 L1130.8,561.0 L1132.8,561.8 L1134.7,562.6 L1136.8,563.4 L1138.8,564.2 L1140.9,564.9 L1142.9,565.7 L1145.0,566.4 L1147.1,567.1 L1149.2,567.8 L1151.2,568.5 L1153.3,569.2 L1155.4,569.8 L1157.4,570.4 L1159.5,571.0 L1161.5,571.6 L1163.5,572.2 L1165.5,572.8 L1167.5,573.3 L1169.5,573.8 L1171.5,574.3 L1173.6,574.8 L1175.7,575.3 L1177.8,575.8 L1180.0,576.2 L1182.2,576.6 L1184.4,577.1 L1186.8,577.5 L1189.2,577.8 L1192.5,578.3 L1195.9,578.8 L1199.4,579.2 L1203.0,579.6 L1206.7,579.9 L1210.5,580.2 L1214.3,580.5 L1218.2,580.8 L1222.2,581.0 L1226.2,581.3 L1230.2,581.5 L1234.2,581.7 L1238.2,581.9 L1242.2,582.1 L1246.1,582.2 L1250.0,582.4 L1254.1,582.6 L1258.3,582.7 L1262.4,582.9 L1266.5,583.0 L1270.7,583.0 L1274.9,583.1 L1279.1,583.2 L1283.3,583.2 L1287.5,583.2 L1291.7,583.3 L1296.0,583.3 L1300.2,583.3 L1304.4,583.4 L1308.6,583.4 L1312.8,583.4 L1317.0,583.5 L1317.0,585.5 L1312.8,585.4 L1308.6,585.4 L1304.4,585.4 L1300.2,585.4 L1295.9,585.3 L1291.7,585.3 L1287.5,585.3 L1283.3,585.3 L1279.1,585.2 L1274.9,585.2 L1270.7,585.1 L1266.5,585.1 L1262.3,585.0 L1258.2,584.9 L1254.1,584.7 L1250.0,584.6 L1246.0,584.4 L1242.1,584.2 L1238.1,584.1 L1234.1,583.9 L1230.1,583.7 L1226.0,583.5 L1222.1,583.3 L1218.1,583.0 L1214.2,582.8 L1210.3,582.5 L1206.5,582.2 L1202.8,581.8 L1199.1,581.5 L1195.6,581.1 L1192.1,580.6 L1188.8,580.2 L1186.4,579.8 L1184.0,579.4 L1181.7,579.0 L1179.5,578.5 L1177.3,578.1 L1175.2,577.6 L1173.1,577.2 L1171.0,576.7 L1168.9,576.2 L1166.9,575.7 L1164.8,575.1 L1162.8,574.6 L1160.8,574.0 L1158.8,573.4 L1156.7,572.8 L1154.6,572.2 L1152.6,571.6 L1150.5,570.9 L1148.4,570.2 L1146.3,569.5 L1144.2,568.8 L1142.1,568.1 L1140.0,567.3 L1137.9,566.6 L1135.8,565.8 L1133.8,565.0 L1131.8,564.3 L1129.8,563.5 L1127.8,562.7 L1125.9,561.8 L1124.0,561.0 L1122.2,560.2 L1120.6,559.5 L1119.1,558.8 L1117.5,558.1 L1116.1,557.4 L1114.6,556.7 L1113.1,556.0 L1111.7,555.2 L1110.3,554.5 L1108.9,553.8 L1107.5,553.0 L1106.1,552.2 L1104.7,551.5 L1103.4,550.7 L1102.0,549.9 L1100.6,549.0 L1099.3,548.2 L1097.9,547.3 L1096.5,546.5 L1095.1,545.6 L1093.8,544.6 L1092.5,543.7 L1091.1,542.8 L1089.8,541.8 L1088.5,540.9 L1087.2,539.9 L1085.9,538.9 L1084.6,538.0 L1083.3,537.0 L1082.0,536.0 L1080.7,535.1 L1079.4,534.2 L1078.1,533.2Z" fill="#1e1a93"/>
<path d="M1080.2,531.1 L1081.0,532.3 L1081.8,533.4 L1082.6,534.6 L1083.4,535.8 L1084.2,537.0 L1085.0,538.2 L1085.8,539.3 L1086.6,540.5 L1087.3,541.6 L1088.1,542.8 L1088.9,543.9 L1089.7,545.0 L1090.5,546.0 L1091.4,547.1 L1092.2,548.1 L1093.1,549.0 L1093.8,549.9 L1094.6,550.7 L1095.4,551.4 L1096.2,552.1 L1097.0,552.8 L1097.8,553.5 L1098.7,554.2 L1099.5,554.9 L1100.4,555.6 L1101.3,556.3 L1102.2,557.0 L1103.1,557.7 L1104.0,558.5 L1105.0,559.3 L1105.9,560.1 L1106.9,561.0 L1108.3,562.2 L1109.6,563.6 L1111.0,564.9 L1112.5,566.4 L1113.9,567.9 L1115.4,569.4 L1116.9,570.9 L1118.4,572.4 L1119.9,574.0 L1121.4,575.5 L1123.0,577.0 L1124.5,578.5 L1126.1,580.0 L1127.7,581.4 L1129.2,582.7 L1130.8,584.0 L1132.3,585.2 L1133.9,586.4 L1135.4,587.6 L1136.9,588.7 L1138.4,589.9 L1140.0,591.0 L1141.5,592.1 L1143.1,593.2 L1144.6,594.2 L1146.2,595.2 L1147.9,596.2 L1149.5,597.2 L1151.2,598.2 L1152.9,599.1 L1154.7,600.0 L1156.5,600.9 L1158.6,601.9 L1160.8,602.8 L1163.1,603.7 L1165.4,604.5 L1167.7,605.4 L1170.1,606.1 L1172.6,606.9 L1175.0,607.6 L1177.5,608.3 L1180.0,609.0 L1182.6,609.7 L1185.1,610.4 L1187.7,611.0 L1190.2,611.6 L1192.7,612.3 L1195.3,612.9 L1197.9,613.5 L1200.4,614.1 L1203.0,614.7 L1205.5,615.3 L1208.0,615.9 L1210.5,616.4 L1213.1,616.9 L1215.6,617.4 L1218.2,617.9 L1220.9,618.4 L1223.6,618.8 L1226.4,619.3 L1229.3,619.7 L1232.3,620.1 L1235.4,620.5 L1238.6,620.9 L1243.7,621.5 L1249.1,622.0 L1254.7,622.5 L1260.6,622.9 L1266.6,623.2 L1272.9,623.6 L1279.2,623.9 L1285.7,624.2 L1292.3,624.5 L1298.9,624.8 L1305.6,625.0 L1312.2,625.3 L1318.8,625.6 L1325.3,625.9 L1331.8,626.2 L1338.1,626.5 L1337.9,628.5 L1331.7,628.2 L1325.2,627.9 L1318.7,627.6 L1312.1,627.3 L1305.5,627.1 L1298.8,626.8 L1292.2,626.5 L1285.6,626.3 L1279.1,626.0 L1272.8,625.7 L1266.5,625.3 L1260.4,625.0 L1254.5,624.6 L1248.9,624.1 L1243.5,623.6 L1238.4,623.1 L1235.1,622.7 L1232.0,622.3 L1229.0,621.9 L1226.1,621.4 L1223.3,621.0 L1220.5,620.5 L1217.9,620.1 L1215.2,619.6 L1212.6,619.1 L1210.1,618.6 L1207.5,618.1 L1205.0,617.5 L1202.5,616.9 L1199.9,616.3 L1197.3,615.7 L1194.7,615.1 L1192.2,614.5 L1189.7,613.9 L1187.1,613.2 L1184.5,612.6 L1182.0,612.0 L1179.4,611.3 L1176.9,610.6 L1174.4,609.9 L1171.9,609.2 L1169.4,608.4 L1167.0,607.6 L1164.6,606.8 L1162.2,605.9 L1159.9,605.0 L1157.7,604.1 L1155.5,603.1 L1153.6,602.2 L1151.8,601.3 L1150.0,600.3 L1148.3,599.4 L1146.6,598.4 L1144.9,597.3 L1143.3,596.3 L1141.7,595.2 L1140.1,594.2 L1138.5,593.0 L1136.9,591.9 L1135.4,590.8 L1133.8,589.6 L1132.3,588.4 L1130.7,587.2 L1129.2,586.0 L1127.6,584.7 L1126.0,583.3 L1124.4,581.9 L1122.8,580.4 L1121.2,578.9 L1119.6,577.4 L1118.0,575.8 L1116.5,574.3 L1115.0,572.7 L1113.5,571.2 L1112.0,569.7 L1110.6,568.3 L1109.1,566.9 L1107.8,565.5 L1106.4,564.2 L1105.1,563.0 L1104.1,562.2 L1103.2,561.4 L1102.3,560.6 L1101.4,559.9 L1100.5,559.1 L1099.6,558.5 L1098.7,557.8 L1097.8,557.1 L1096.9,556.4 L1096.1,555.7 L1095.2,555.0 L1094.3,554.3 L1093.5,553.5 L1092.6,552.7 L1091.8,551.9 L1090.9,551.0 L1090.0,550.0 L1089.1,548.9 L1088.3,547.8 L1087.4,546.7 L1086.6,545.6 L1085.8,544.5 L1084.9,543.3 L1084.1,542.1 L1083.3,541.0 L1082.5,539.8 L1081.8,538.6 L1081.0,537.4 L1080.2,536.3 L1079.4,535.1 L1078.6,534.0 L1077.8,532.9Z" fill="#1e1a93"/>
</g>
<g id="center" style="opacity:0.995">
<rect x="681.5" y="293.5" width="154" height="70.5" fill="#3b9c80"/>
<rect x="688.5" y="300.5" width="139.5" height="59.5" fill="#ffffff"/>
<rect x="730" y="295" width="53" height="9.5" rx="1.5" fill="#fdfdfd" stroke="#9aa0a0" stroke-width="1"/>
<line x1="731" y1="297.2" x2="782" y2="297.2" stroke="#b8bcbc" stroke-width="1"/>
<!-- stethoscope upper right -->
<path d="M834,293.5 C822,291.5 808,292 804,298 C800,305 805,313 815,318" fill="none" stroke="#1c50a2" stroke-width="4.4" stroke-linecap="round"/>
<ellipse cx="821.8" cy="323.4" rx="9" ry="5.8" fill="#f4f6fa" stroke="#c86a78" stroke-width="1"/>
<ellipse cx="821.8" cy="323.4" rx="6.8" ry="4" fill="#ffffff" stroke="#2455a6" stroke-width="2.8"/>
<!-- stethoscope lower left -->
<path d="M667.7,333 C672,331.5 677,329.5 678.5,332 C680,338 685,346 690.5,352.5" fill="none" stroke="#c9f3de" stroke-width="1.5"/>
<path d="M687,327 C692,333 700,342 706,349" fill="none" stroke="#e8ecf0" stroke-width="1.6"/>
<circle cx="666.2" cy="333.4" r="1.7" fill="#c0392b"/>
<circle cx="686.4" cy="326.8" r="1.7" fill="#c0392b"/>
<path d="M690.7,353 C694,357 699,361 704,361.8 C709,362.5 714,361.5 713.7,357 C713.5,353 709,349.5 704,347.1" fill="none" stroke="#1c50a2" stroke-width="2.7" stroke-linecap="round"/>
<path d="M709.7,361.8 C716,365 724,367.2 730,366.6 C734,366.2 737,365 739,363.8" fill="none" stroke="#1c50a2" stroke-width="2.7" stroke-linecap="round"/>
<text x="679" y="336.4" font-size="19" style="font-family:'Liberation Sans',sans-serif;fill:#111">Chữ người tử tù</text>
</g>

<g style="opacity:0.995">
<text font-size="12.2" ><textPath href="#p1" startOffset="71.0">Là nhà văn lớn của văn học VN</textPath></text>
<text font-size="12.2" ><textPath href="#p2" startOffset="70.9">Đưa thể loại tùy bút và truyện ngắn lên tầm cao mới</textPath></text>
<text font-size="12.2" ><textPath href="#p3" startOffset="70.2">phong cách tài hoa uyên bac</textPath></text>
<text font-size="12.2" ><textPath href="#p4" startOffset="70.7">Người nghệ sĩ suốt đời đi tìm cái đẹp</textPath></text>
<text font-size="12.2" ><textPath href="#p5" startOffset="71.4">Vang bóng một thời gồm 11 truyện</textPath></text>
<text font-size="12.2" ><textPath href="#p6" startOffset="70.0">Viết về một thời đã qua chỉ còn vang bóng</textPath></text>
<text font-size="12.2" ><textPath href="#p7" startOffset="71.0">Nhân vật là các sĩ phu, nhà nho, những người tài hoa</textPath></text>
<text font-size="12.2" ><textPath href="#p8" startOffset="71.1">Tiêu biểu là truyện " Chũ người tử tù"</textPath></text>
<text font-size="15" ><textPath href="#p9" startOffset="74.0">Tác giả</textPath></text>
<text font-size="14.4" ><textPath href="#p10" startOffset="73.4">Tác phẩm</textPath></text>
<text font-size="19" ><textPath href="#p11" startOffset="73.8">Tác giả tác phẩm</textPath></text>
<text font-size="14.4" ><textPath href="#p12" startOffset="71.3">Lai lịch</textPath></text>
<text font-size="14.4" ><textPath href="#p13" startOffset="71.3">Là người có tâm hồn đẹp</textPath></text>
<text font-size="14.4" ><textPath href="#p14" startOffset="70.4">Là người có tâm hồn nghệ sĩ</textPath></text>
<text font-size="14.4" ><textPath href="#p15" startOffset="70.0">Là con người dũng cảm</textPath></text>
<text font-size="14.4" ><textPath href="#p16" startOffset="71.6">Là con người biết gìn giữ thiên lương</textPath></text>
<text font-size="14.4" ><textPath href="#p17" startOffset="70.1">Ý nghĩa hình tượng nhân vật</textPath></text>
<text font-size="19" ><textPath href="#p18" startOffset="96.6">Nhân vật Quản ngục</textPath></text>
<text font-size="14.4" ><textPath href="#p19" startOffset="71.8">Tóm tắt cảng cho chữ</textPath></text>
<text font-size="14.4" ><textPath href="#p20" startOffset="71.4">Ý nghĩa cảnh cho chữ</textPath></text>
<text font-size="14.4" ><textPath href="#p21" startOffset="71.6">Cảnh tượng chưa từng có</textPath></text>
<text font-size="14.4" ><textPath href="#p22" startOffset="71.1">Nguyên nhân cho chữ</textPath></text>
<text font-size="19" ><textPath href="#p23" startOffset="71.1">Cảnh cho chữ</textPath></text>
<text font-size="19" ><textPath href="#p24" startOffset="192.6">Tình huống truyện</textPath></text>
<text font-size="14.4" ><textPath href="#p25" startOffset="109.9">Cuộc gặp gỡ kịch tính</textPath></text>
<text font-size="12.2" ><textPath href="#p26" startOffset="96.8">Về xã hội &gt;&lt;</textPath></text>
<text font-size="12.2" ><textPath href="#p27" startOffset="95.7">Về nghệ thuật là tri kỷ</textPath></text>
<text font-size="14.4" ><textPath href="#p28" startOffset="99.9">Ý nghĩa</textPath></text>
<text font-size="12.2" ><textPath href="#p29" startOffset="95.8">Nổi bật vẻ đẹp nhân vật</textPath></text>
<text font-size="12.2" ><textPath href="#p30" startOffset="94.6">Quan niệm của NT về cái đẹp</textPath></text>
<text font-size="14.4" ><textPath href="#p31" startOffset="108.8">Khái niệm</textPath></text>
<text font-size="19" ><textPath href="#p32" startOffset="125.4">Hình tượng NVHC</textPath></text>
<text font-size="14.4" ><textPath href="#p33" startOffset="155.8">Lại lịch</textPath></text>
<text font-size="14.4" ><textPath href="#p34" startOffset="132.0">Vẻ đẹp tài năng</textPath></text>
<text font-size="14.4" ><textPath href="#p35" startOffset="119.6">Vẻ đẹp khí phách</textPath></text>
<text font-size="14.4" ><textPath href="#p36" startOffset="116.6">Vẻ đẹp thiên lương</textPath></text>
<text font-size="14.4" ><textPath href="#p37" startOffset="121.2">Nghệ thuật xây dựng nv</textPath></text>
<text font-size="14.4" ><textPath href="#p38" startOffset="136.2">Ý nghĩa hình tượng nv</textPath></text>
<text font-size="19" ><textPath href="#p39" startOffset="90.1">Ý nghĩa tư tưởng</textPath></text>
<text font-size="14.4" ><textPath href="#p40" startOffset="98.7">TP thể hiện quan điểm thẩm mỹ của NT</textPath></text>
<text font-size="14.4" ><textPath href="#p41" startOffset="97.1">TP thể hiện lòng yêu nước tha thiết</textPath></text>
<text font-size="19" ><textPath href="#p42" startOffset="216.8">Thành công nghệ th</textPath></text>
<text font-size="14.4" ><textPath href="#p43" startOffset="146.2">Xây dựng tình huống kịch tính éo le</textPath></text>
<text font-size="14.4" ><textPath href="#p44" startOffset="127.4">Xây dụng nhân vật</textPath></text>
<text font-size="14.4" ><textPath href="#p45" startOffset="116.0">Tạo dựng nhiều đoạn văn kịch tính</textPath></text>
<text font-size="14.4" ><textPath href="#p46" startOffset="117.2">Tạo không khí cổ kính</textPath></text>
<text font-size="14.4" ><textPath href="#p47" startOffset="121.9">Nghệ t đối lập tương phản</textPath></text>
<text font-size="14.4" ><textPath href="#p48" startOffset="138.6">Ngôn ngữ trang trọng cổ kính</textPath></text>
</g>
</svg>
</body></html>
